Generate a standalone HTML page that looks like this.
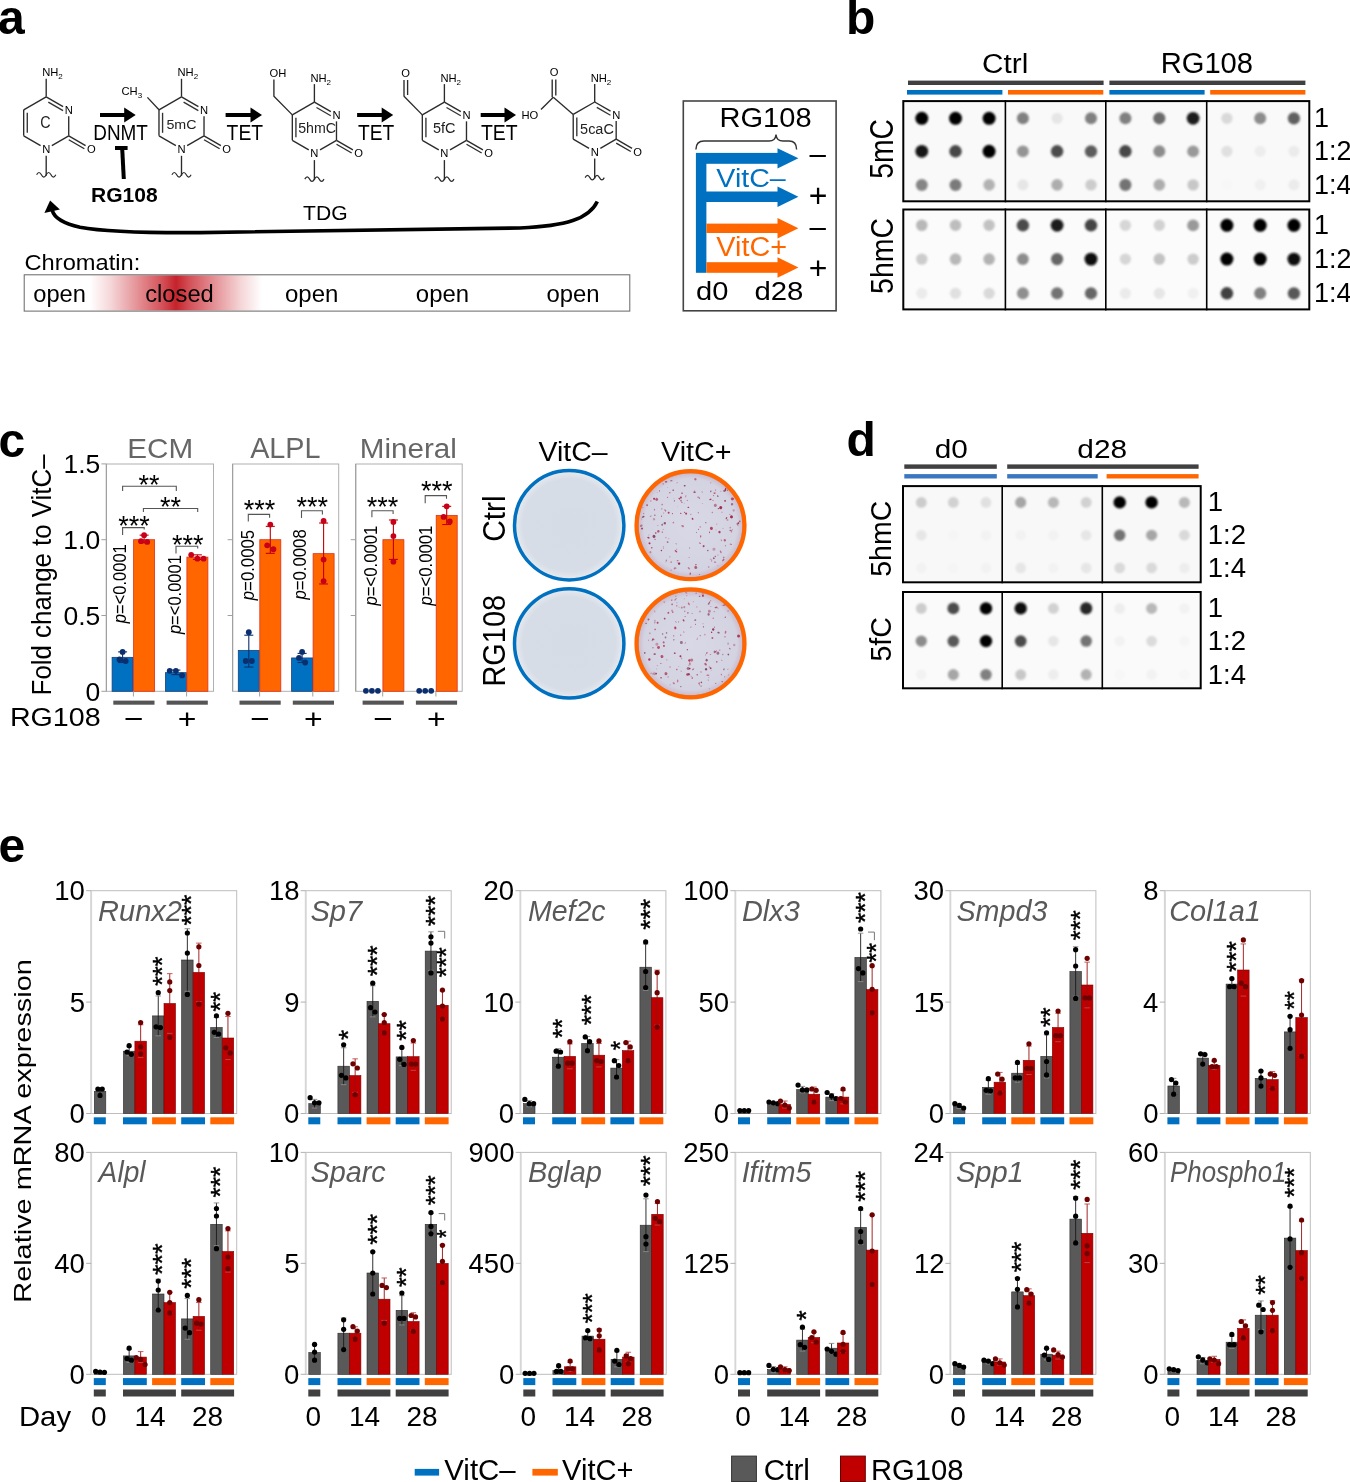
<!DOCTYPE html>
<html><head><meta charset="utf-8"><title>Figure</title>
<style>html,body{margin:0;padding:0;background:#fff;}svg{display:block;}</style></head>
<body>
<svg width="1350" height="1482" viewBox="0 0 1350 1482" font-family='"Liberation Sans", Arial, Helvetica, sans-serif'>
<defs><filter id="bl" x="-50%" y="-50%" width="200%" height="200%"><feGaussianBlur stdDeviation="0.9"/></filter></defs>
<text x="-2" y="34" font-size="48" font-weight="bold">a</text>
<line x1="46.2" y1="96.8" x2="63.09" y2="106.55" stroke="#2b2b2b" stroke-width="1.35" />
<line x1="48.3" y1="102.17" x2="63.02" y2="110.67" stroke="#333" stroke-width="1.35" />
<line x1="68.72" y1="116.3" x2="68.72" y2="135.8" stroke="#2b2b2b" stroke-width="1.35" />
<line x1="68.72" y1="135.8" x2="51.83" y2="145.55" stroke="#2b2b2b" stroke-width="1.35" />
<line x1="40.57" y1="145.55" x2="23.68" y2="135.8" stroke="#2b2b2b" stroke-width="1.35" />
<line x1="23.68" y1="135.8" x2="23.68" y2="109.8" stroke="#2b2b2b" stroke-width="1.35" />
<line x1="27.28" y1="132.8" x2="27.28" y2="112.8" stroke="#333" stroke-width="1.35" />
<line x1="23.68" y1="109.8" x2="46.2" y2="96.8" stroke="#2b2b2b" stroke-width="1.35" />
<line x1="68.72" y1="135.8" x2="85.6" y2="145.55" stroke="#2b2b2b" stroke-width="1.35" />
<line x1="68.75" y1="139.74" x2="84.34" y2="148.74" stroke="#2b2b2b" stroke-width="1.35" />
<text x="68.72" y="113.9" font-size="11.2" text-anchor="middle">N</text>
<text x="46.2" y="152.9" font-size="11.2" text-anchor="middle">N</text>
<text x="91.23" y="152.9" font-size="11.2" text-anchor="middle">O</text>
<line x1="46.2" y1="96.8" x2="46.2" y2="78.8" stroke="#2b2b2b" stroke-width="1.35" />
<text x="42.2" y="76.3" font-size="11.2">NH<tspan font-size="8" dy="3">2</tspan></text>
<line x1="46.2" y1="155.8" x2="46.2" y2="175.8" stroke="#2b2b2b" stroke-width="1.35" />
<path d="M36.6 174.8 q2.4 -4.6 4.8 0 t4.8 0 t4.8 0 t4.8 0" stroke="#2b2b2b" stroke-width="1.2" fill="none" />
<text x="40.28" y="127.64" font-size="15.63" fill="#222" textLength="10.35" lengthAdjust="spacingAndGlyphs">C</text>
<line x1="181.5" y1="96.8" x2="198.39" y2="106.55" stroke="#2b2b2b" stroke-width="1.35" />
<line x1="183.6" y1="102.17" x2="198.32" y2="110.67" stroke="#333" stroke-width="1.35" />
<line x1="204.02" y1="116.3" x2="204.02" y2="135.8" stroke="#2b2b2b" stroke-width="1.35" />
<line x1="204.02" y1="135.8" x2="187.13" y2="145.55" stroke="#2b2b2b" stroke-width="1.35" />
<line x1="175.87" y1="145.55" x2="158.98" y2="135.8" stroke="#2b2b2b" stroke-width="1.35" />
<line x1="158.98" y1="135.8" x2="158.98" y2="109.8" stroke="#2b2b2b" stroke-width="1.35" />
<line x1="162.58" y1="132.8" x2="162.58" y2="112.8" stroke="#333" stroke-width="1.35" />
<line x1="158.98" y1="109.8" x2="181.5" y2="96.8" stroke="#2b2b2b" stroke-width="1.35" />
<line x1="204.02" y1="135.8" x2="220.9" y2="145.55" stroke="#2b2b2b" stroke-width="1.35" />
<line x1="204.05" y1="139.74" x2="219.64" y2="148.74" stroke="#2b2b2b" stroke-width="1.35" />
<text x="204.02" y="113.9" font-size="11.2" text-anchor="middle">N</text>
<text x="181.5" y="152.9" font-size="11.2" text-anchor="middle">N</text>
<text x="226.53" y="152.9" font-size="11.2" text-anchor="middle">O</text>
<line x1="181.5" y1="96.8" x2="181.5" y2="78.8" stroke="#2b2b2b" stroke-width="1.35" />
<text x="177.5" y="76.3" font-size="11.2">NH<tspan font-size="8" dy="3">2</tspan></text>
<line x1="181.5" y1="155.8" x2="181.5" y2="175.8" stroke="#2b2b2b" stroke-width="1.35" />
<path d="M171.9 174.8 q2.4 -4.6 4.8 0 t4.8 0 t4.8 0 t4.8 0" stroke="#2b2b2b" stroke-width="1.2" fill="none" />
<text x="166.43" y="128.77" font-size="12.82" fill="#222" textLength="30.09" lengthAdjust="spacingAndGlyphs">5mC</text>
<line x1="147.4" y1="97.4" x2="158.98" y2="109.8" stroke="#2b2b2b" stroke-width="1.35" />
<text x="121.5" y="95" font-size="11.2">CH<tspan font-size="8" dy="3">3</tspan></text>
<line x1="314.4" y1="102.1" x2="330.85" y2="111.6" stroke="#2b2b2b" stroke-width="1.35" />
<line x1="316.5" y1="107.47" x2="330.79" y2="115.72" stroke="#333" stroke-width="1.35" />
<line x1="336.48" y1="121.35" x2="336.48" y2="140.35" stroke="#2b2b2b" stroke-width="1.35" />
<line x1="336.48" y1="140.35" x2="320.03" y2="149.85" stroke="#2b2b2b" stroke-width="1.35" />
<line x1="308.77" y1="149.85" x2="292.32" y2="140.35" stroke="#2b2b2b" stroke-width="1.35" />
<line x1="292.32" y1="140.35" x2="292.32" y2="114.85" stroke="#2b2b2b" stroke-width="1.35" />
<line x1="295.92" y1="137.35" x2="295.92" y2="117.85" stroke="#333" stroke-width="1.35" />
<line x1="292.32" y1="114.85" x2="314.4" y2="102.1" stroke="#2b2b2b" stroke-width="1.35" />
<line x1="336.48" y1="140.35" x2="352.94" y2="149.85" stroke="#2b2b2b" stroke-width="1.35" />
<line x1="336.52" y1="144.29" x2="351.67" y2="153.04" stroke="#2b2b2b" stroke-width="1.35" />
<text x="336.48" y="118.95" font-size="11.2" text-anchor="middle">N</text>
<text x="314.4" y="157.2" font-size="11.2" text-anchor="middle">N</text>
<text x="358.57" y="157.2" font-size="11.2" text-anchor="middle">O</text>
<line x1="314.4" y1="102.1" x2="314.4" y2="84.1" stroke="#2b2b2b" stroke-width="1.35" />
<text x="310.4" y="81.6" font-size="11.2">NH<tspan font-size="8" dy="3">2</tspan></text>
<line x1="314.4" y1="160.1" x2="314.4" y2="180.1" stroke="#2b2b2b" stroke-width="1.35" />
<path d="M304.8 179.1 q2.4 -4.6 4.8 0 t4.8 0 t4.8 0 t4.8 0" stroke="#2b2b2b" stroke-width="1.2" fill="none" />
<text x="298.23" y="133.36" font-size="14.42" fill="#222" textLength="37.8" lengthAdjust="spacingAndGlyphs">5hmC</text>
<path d="M273.9 79.5 L273.9 96.2 L292.32 114.85" stroke="#2b2b2b" stroke-width="1.35" fill="none" />
<text x="269.6" y="76.7" font-size="11.2">OH</text>
<line x1="444.4" y1="102.1" x2="460.85" y2="111.6" stroke="#2b2b2b" stroke-width="1.35" />
<line x1="446.5" y1="107.47" x2="460.79" y2="115.72" stroke="#333" stroke-width="1.35" />
<line x1="466.48" y1="121.35" x2="466.48" y2="140.35" stroke="#2b2b2b" stroke-width="1.35" />
<line x1="466.48" y1="140.35" x2="450.03" y2="149.85" stroke="#2b2b2b" stroke-width="1.35" />
<line x1="438.77" y1="149.85" x2="422.32" y2="140.35" stroke="#2b2b2b" stroke-width="1.35" />
<line x1="422.32" y1="140.35" x2="422.32" y2="114.85" stroke="#2b2b2b" stroke-width="1.35" />
<line x1="425.92" y1="137.35" x2="425.92" y2="117.85" stroke="#333" stroke-width="1.35" />
<line x1="422.32" y1="114.85" x2="444.4" y2="102.1" stroke="#2b2b2b" stroke-width="1.35" />
<line x1="466.48" y1="140.35" x2="482.94" y2="149.85" stroke="#2b2b2b" stroke-width="1.35" />
<line x1="466.52" y1="144.29" x2="481.67" y2="153.04" stroke="#2b2b2b" stroke-width="1.35" />
<text x="466.48" y="118.95" font-size="11.2" text-anchor="middle">N</text>
<text x="444.4" y="157.2" font-size="11.2" text-anchor="middle">N</text>
<text x="488.57" y="157.2" font-size="11.2" text-anchor="middle">O</text>
<line x1="444.4" y1="102.1" x2="444.4" y2="84.1" stroke="#2b2b2b" stroke-width="1.35" />
<text x="440.4" y="81.6" font-size="11.2">NH<tspan font-size="8" dy="3">2</tspan></text>
<line x1="444.4" y1="160.1" x2="444.4" y2="180.1" stroke="#2b2b2b" stroke-width="1.35" />
<path d="M434.8 179.1 q2.4 -4.6 4.8 0 t4.8 0 t4.8 0 t4.8 0" stroke="#2b2b2b" stroke-width="1.2" fill="none" />
<text x="432.92" y="132.85" font-size="14.56" fill="#222" textLength="22.5" lengthAdjust="spacingAndGlyphs">5fC</text>
<line x1="404" y1="80" x2="404" y2="96.5" stroke="#2b2b2b" stroke-width="1.35" />
<line x1="407.6" y1="80" x2="407.6" y2="95" stroke="#2b2b2b" stroke-width="1.35" />
<line x1="404" y1="96.2" x2="422.32" y2="114.85" stroke="#2b2b2b" stroke-width="1.35" />
<text x="405.6" y="76.7" font-size="11.2" text-anchor="middle">O</text>
<line x1="594.7" y1="102" x2="610.55" y2="111.15" stroke="#2b2b2b" stroke-width="1.35" />
<line x1="596.8" y1="107.37" x2="610.48" y2="115.27" stroke="#333" stroke-width="1.35" />
<line x1="616.18" y1="120.9" x2="616.18" y2="139.2" stroke="#2b2b2b" stroke-width="1.35" />
<line x1="616.18" y1="139.2" x2="600.33" y2="148.35" stroke="#2b2b2b" stroke-width="1.35" />
<line x1="589.07" y1="148.35" x2="573.22" y2="139.2" stroke="#2b2b2b" stroke-width="1.35" />
<line x1="573.22" y1="139.2" x2="573.22" y2="114.4" stroke="#2b2b2b" stroke-width="1.35" />
<line x1="576.82" y1="136.2" x2="576.82" y2="117.4" stroke="#333" stroke-width="1.35" />
<line x1="573.22" y1="114.4" x2="594.7" y2="102" stroke="#2b2b2b" stroke-width="1.35" />
<line x1="616.18" y1="139.2" x2="632.03" y2="148.35" stroke="#2b2b2b" stroke-width="1.35" />
<line x1="616.21" y1="143.14" x2="630.76" y2="151.54" stroke="#2b2b2b" stroke-width="1.35" />
<text x="616.18" y="118.5" font-size="11.2" text-anchor="middle">N</text>
<text x="594.7" y="155.7" font-size="11.2" text-anchor="middle">N</text>
<text x="637.65" y="155.7" font-size="11.2" text-anchor="middle">O</text>
<line x1="594.7" y1="102" x2="594.7" y2="84" stroke="#2b2b2b" stroke-width="1.35" />
<text x="590.7" y="81.5" font-size="11.2">NH<tspan font-size="8" dy="3">2</tspan></text>
<line x1="594.7" y1="158.6" x2="594.7" y2="178.6" stroke="#2b2b2b" stroke-width="1.35" />
<path d="M585.1 177.6 q2.4 -4.6 4.8 0 t4.8 0 t4.8 0 t4.8 0" stroke="#2b2b2b" stroke-width="1.2" fill="none" />
<text x="580.12" y="133.85" font-size="15.07" fill="#222" textLength="33.75" lengthAdjust="spacingAndGlyphs">5caC</text>
<line x1="573.22" y1="114.4" x2="553.3" y2="97.3" stroke="#2b2b2b" stroke-width="1.35" />
<line x1="552.2" y1="79.5" x2="552.2" y2="97.3" stroke="#2b2b2b" stroke-width="1.35" />
<line x1="555.8" y1="79.5" x2="555.8" y2="95.5" stroke="#2b2b2b" stroke-width="1.35" />
<line x1="553.3" y1="97.3" x2="541" y2="109.5" stroke="#2b2b2b" stroke-width="1.35" />
<text x="554" y="76" font-size="11.2" text-anchor="middle">O</text>
<text x="521.5" y="119.3" font-size="11.2">HO</text>
<line x1="100" y1="115" x2="125.7" y2="115" stroke="#000" stroke-width="4" />
<polygon points="124.2,107.5 135.7,115 124.2,122.5" fill="#000"/>
<line x1="225.6" y1="115" x2="252" y2="115" stroke="#000" stroke-width="4" />
<polygon points="250.5,107.5 262,115 250.5,122.5" fill="#000"/>
<line x1="357.1" y1="115" x2="383.2" y2="115" stroke="#000" stroke-width="4" />
<polygon points="381.7,107.5 393.2,115 381.7,122.5" fill="#000"/>
<line x1="480.7" y1="115" x2="506" y2="115" stroke="#000" stroke-width="4" />
<polygon points="504.5,107.5 516,115 504.5,122.5" fill="#000"/>
<text x="93.29" y="140" font-size="21.3" textLength="54.65" lengthAdjust="spacingAndGlyphs">DNMT</text>
<text x="226.61" y="140" font-size="21.3" textLength="36.45" lengthAdjust="spacingAndGlyphs">TET</text>
<text x="357.92" y="140" font-size="21.3" textLength="36.24" lengthAdjust="spacingAndGlyphs">TET</text>
<text x="480.91" y="140" font-size="21.3" textLength="36.75" lengthAdjust="spacingAndGlyphs">TET</text>
<line x1="123.8" y1="179" x2="122.2" y2="148.5" stroke="#000" stroke-width="4" />
<line x1="115" y1="148" x2="127.6" y2="148" stroke="#000" stroke-width="4" />
<text x="91.03" y="201.5" font-size="20" font-weight="bold" textLength="66.67" lengthAdjust="spacingAndGlyphs">RG108</text>
<path d="M597.3 201.5 C589 219 566 226 520 228 L200 232.6 C140 233 100 231 80 227.2 C65 223.8 54.5 219 52.3 210.5" stroke="#000" stroke-width="3.6" fill="none" />
<polygon points="50.1,200.6 44.4,212.9 59.9,209.4" fill="#000"/>
<text x="303.08" y="219.7" font-size="20.28" textLength="44.52" lengthAdjust="spacingAndGlyphs">TDG</text>
<text x="24.52" y="269.78" font-size="21.77" textLength="115.73" lengthAdjust="spacingAndGlyphs">Chromatin:</text>
<defs><linearGradient id="chr" x1="0" x2="1" y1="0" y2="0"><stop offset="0" stop-color="#c8202a" stop-opacity="0"/><stop offset="0.12" stop-color="#c8202a" stop-opacity="0.18"/><stop offset="0.28" stop-color="#c8202a" stop-opacity="0.5"/><stop offset="0.42" stop-color="#c8202a" stop-opacity="0.78"/><stop offset="0.5" stop-color="#c41e26" stop-opacity="0.98"/><stop offset="0.58" stop-color="#c8202a" stop-opacity="0.78"/><stop offset="0.72" stop-color="#c8202a" stop-opacity="0.5"/><stop offset="0.88" stop-color="#c8202a" stop-opacity="0.18"/><stop offset="1" stop-color="#c8202a" stop-opacity="0"/></linearGradient></defs>
<rect x="90" y="275.3" width="172" height="35.2" fill="url(#chr)" />
<rect x="24.2" y="274.8" width="605.6" height="36.3" fill="none" stroke="#666" stroke-width="1" />
<text x="33.25" y="301.5" font-size="23" textLength="52.68" lengthAdjust="spacingAndGlyphs">open</text>
<text x="145.25" y="301.5" font-size="23" textLength="68.5" lengthAdjust="spacingAndGlyphs">closed</text>
<text x="284.94" y="301.5" font-size="23" textLength="53.41" lengthAdjust="spacingAndGlyphs">open</text>
<text x="415.84" y="301.5" font-size="23" textLength="53.2" lengthAdjust="spacingAndGlyphs">open</text>
<text x="546.55" y="301.5" font-size="23" textLength="53.1" lengthAdjust="spacingAndGlyphs">open</text>
<rect x="683.3" y="101" width="152.8" height="209.8" fill="none" stroke="#444" stroke-width="1.6" />
<text x="719.58" y="127.12" font-size="27.75" textLength="91.99" lengthAdjust="spacingAndGlyphs">RG108</text>
<path d="M695.9 149.5 Q696 141 704 141 L769 141 Q775.5 141 776 134.5 Q776.5 141 783 141 L789 141 Q796.6 141 796.6 149.5" stroke="#333" stroke-width="1.4" fill="none" />
<rect x="695.9" y="152.9" width="10.5" height="119.9" fill="#0070C0" />
<rect x="706" y="152.9" width="72" height="10.9" fill="#0070C0" />
<polygon points="777.5,148.15 798.4,158.35 777.5,168.55" fill="#0070C0"/>
<rect x="706" y="191.5" width="72" height="10.5" fill="#0070C0" />
<polygon points="777.5,186.55 798.4,196.75 777.5,206.95" fill="#0070C0"/>
<rect x="706.4" y="223.6" width="71.6" height="9.4" fill="#FF6600" />
<polygon points="777.5,218.1 798.4,228.3 777.5,238.5" fill="#FF6600"/>
<rect x="706.4" y="262.2" width="71.6" height="10.6" fill="#FF6600" />
<polygon points="777.5,257.3 798.4,267.5 777.5,277.7" fill="#FF6600"/>
<text x="716.36" y="187.24" font-size="25.99" fill="#0070C0" textLength="69.41" lengthAdjust="spacingAndGlyphs">VitC–</text>
<text x="716.36" y="255.53" font-size="27.21" fill="#FF6600" textLength="70.79" lengthAdjust="spacingAndGlyphs">VitC+</text>
<text x="809.4" y="163.58" font-size="29" textLength="16.43" lengthAdjust="spacingAndGlyphs">–</text>
<text x="808.7" y="206.91" font-size="33.47" textLength="18.66" lengthAdjust="spacingAndGlyphs">+</text>
<text x="809.4" y="236.98" font-size="29" textLength="16.43" lengthAdjust="spacingAndGlyphs">–</text>
<text x="808.7" y="278.63" font-size="31.43" textLength="18.66" lengthAdjust="spacingAndGlyphs">+</text>
<text x="696.14" y="300.14" font-size="25.99" textLength="32.35" lengthAdjust="spacingAndGlyphs">d0</text>
<text x="754.43" y="300.14" font-size="25.99" textLength="48.95" lengthAdjust="spacingAndGlyphs">d28</text>
<text x="846" y="33.8" font-size="48" font-weight="bold">b</text>
<text x="982.11" y="72.72" font-size="28.03" textLength="46.23" lengthAdjust="spacingAndGlyphs">Ctrl</text>
<text x="1160.67" y="72.71" font-size="29.01" textLength="92.4" lengthAdjust="spacingAndGlyphs">RG108</text>
<rect x="908" y="80.6" width="195.6" height="4.4" fill="#404040" />
<rect x="1109.4" y="80.6" width="196" height="4.4" fill="#404040" />
<rect x="907" y="90" width="95.4" height="4.6" fill="#0070C0" />
<rect x="1008" y="90" width="95.3" height="4.6" fill="#FF6600" />
<rect x="1109.4" y="90" width="95.2" height="4.6" fill="#0070C0" />
<rect x="1210.2" y="90" width="95.2" height="4.6" fill="#FF6600" />
<rect x="903.3" y="101.1" width="406" height="100.2" fill="#f9f9f9" />
<circle cx="921.8" cy="118.3" r="6.5" fill="#000000" filter="url(#bl)"/>
<circle cx="955.5" cy="118.3" r="6.5" fill="#000000" filter="url(#bl)"/>
<circle cx="989.1" cy="118.3" r="6.5" fill="#000000" filter="url(#bl)"/>
<circle cx="1022.9" cy="118.3" r="6" fill="#808080" filter="url(#bl)"/>
<circle cx="1057.1" cy="118.3" r="5.6" fill="#e6e6e6" filter="url(#bl)"/>
<circle cx="1091" cy="118.3" r="6" fill="#808080" filter="url(#bl)"/>
<circle cx="1125.4" cy="118.3" r="6" fill="#808080" filter="url(#bl)"/>
<circle cx="1159.3" cy="118.3" r="6.08" fill="#6b6b6b" filter="url(#bl)"/>
<circle cx="1193.1" cy="118.3" r="6.38" fill="#1f1f1f" filter="url(#bl)"/>
<circle cx="1226.9" cy="118.3" r="5.65" fill="#d9d9d9" filter="url(#bl)"/>
<circle cx="1260.2" cy="118.3" r="5.95" fill="#8c8c8c" filter="url(#bl)"/>
<circle cx="1293.9" cy="118.3" r="6.12" fill="#616161" filter="url(#bl)"/>
<circle cx="921.8" cy="151.3" r="6.42" fill="#141414" filter="url(#bl)"/>
<circle cx="955.5" cy="151.3" r="6.22" fill="#474747" filter="url(#bl)"/>
<circle cx="989.1" cy="151.3" r="6.48" fill="#050505" filter="url(#bl)"/>
<circle cx="1022.9" cy="151.3" r="5.92" fill="#949494" filter="url(#bl)"/>
<circle cx="1057.1" cy="151.3" r="6.2" fill="#4c4c4c" filter="url(#bl)"/>
<circle cx="1091" cy="151.3" r="6.14" fill="#5c5c5c" filter="url(#bl)"/>
<circle cx="1125.4" cy="151.3" r="6.22" fill="#474747" filter="url(#bl)"/>
<circle cx="1159.3" cy="151.3" r="5.95" fill="#8c8c8c" filter="url(#bl)"/>
<circle cx="1193.1" cy="151.3" r="5.9" fill="#999999" filter="url(#bl)"/>
<circle cx="1226.9" cy="151.3" r="5.62" fill="#e0e0e0" filter="url(#bl)"/>
<circle cx="1260.2" cy="151.3" r="5.57" fill="#ededed" filter="url(#bl)"/>
<circle cx="1293.9" cy="151.3" r="5.58" fill="#ebebeb" filter="url(#bl)"/>
<circle cx="921.8" cy="184.9" r="5.98" fill="#858585" filter="url(#bl)"/>
<circle cx="955.5" cy="184.9" r="6.02" fill="#7a7a7a" filter="url(#bl)"/>
<circle cx="989.1" cy="184.9" r="5.8" fill="#b2b2b2" filter="url(#bl)"/>
<circle cx="1022.9" cy="184.9" r="5.6" fill="#e6e6e6" filter="url(#bl)"/>
<circle cx="1057.1" cy="184.9" r="5.82" fill="#adadad" filter="url(#bl)"/>
<circle cx="1091" cy="184.9" r="5.7" fill="#cccccc" filter="url(#bl)"/>
<circle cx="1125.4" cy="184.9" r="6.05" fill="#737373" filter="url(#bl)"/>
<circle cx="1159.3" cy="184.9" r="5.82" fill="#adadad" filter="url(#bl)"/>
<circle cx="1193.1" cy="184.9" r="5.72" fill="#c7c7c7" filter="url(#bl)"/>
<circle cx="1226.9" cy="184.9" r="5.53" fill="#f7f7f7" filter="url(#bl)"/>
<circle cx="1260.2" cy="184.9" r="5.56" fill="#f0f0f0" filter="url(#bl)"/>
<circle cx="1293.9" cy="184.9" r="5.58" fill="#ebebeb" filter="url(#bl)"/>
<rect x="903.3" y="209.5" width="406" height="99.9" fill="#fbfbfb" />
<circle cx="921.8" cy="225.3" r="5.78" fill="#b8b8b8" filter="url(#bl)"/>
<circle cx="955.5" cy="225.3" r="5.76" fill="#bdbdbd" filter="url(#bl)"/>
<circle cx="989.1" cy="225.3" r="5.74" fill="#c2c2c2" filter="url(#bl)"/>
<circle cx="1022.9" cy="225.3" r="6.2" fill="#4c4c4c" filter="url(#bl)"/>
<circle cx="1057.1" cy="225.3" r="6.38" fill="#1f1f1f" filter="url(#bl)"/>
<circle cx="1091" cy="225.3" r="6.23" fill="#454545" filter="url(#bl)"/>
<circle cx="1125.4" cy="225.3" r="5.66" fill="#d6d6d6" filter="url(#bl)"/>
<circle cx="1159.3" cy="225.3" r="5.68" fill="#d1d1d1" filter="url(#bl)"/>
<circle cx="1193.1" cy="225.3" r="5.9" fill="#999999" filter="url(#bl)"/>
<circle cx="1226.9" cy="225.3" r="6.5" fill="#000000" filter="url(#bl)"/>
<circle cx="1260.2" cy="225.3" r="6.5" fill="#000000" filter="url(#bl)"/>
<circle cx="1293.9" cy="225.3" r="6.5" fill="#000000" filter="url(#bl)"/>
<circle cx="921.8" cy="259.1" r="5.7" fill="#cccccc" filter="url(#bl)"/>
<circle cx="955.5" cy="259.1" r="5.78" fill="#b8b8b8" filter="url(#bl)"/>
<circle cx="989.1" cy="259.1" r="5.8" fill="#b2b2b2" filter="url(#bl)"/>
<circle cx="1022.9" cy="259.1" r="5.95" fill="#8c8c8c" filter="url(#bl)"/>
<circle cx="1057.1" cy="259.1" r="6.1" fill="#666666" filter="url(#bl)"/>
<circle cx="1091" cy="259.1" r="6.47" fill="#080808" filter="url(#bl)"/>
<circle cx="1125.4" cy="259.1" r="5.66" fill="#d6d6d6" filter="url(#bl)"/>
<circle cx="1159.3" cy="259.1" r="5.74" fill="#c2c2c2" filter="url(#bl)"/>
<circle cx="1193.1" cy="259.1" r="5.7" fill="#cccccc" filter="url(#bl)"/>
<circle cx="1226.9" cy="259.1" r="6.5" fill="#000000" filter="url(#bl)"/>
<circle cx="1260.2" cy="259.1" r="6.48" fill="#050505" filter="url(#bl)"/>
<circle cx="1293.9" cy="259.1" r="6.47" fill="#080808" filter="url(#bl)"/>
<circle cx="921.8" cy="293.3" r="5.58" fill="#ebebeb" filter="url(#bl)"/>
<circle cx="955.5" cy="293.3" r="5.62" fill="#e0e0e0" filter="url(#bl)"/>
<circle cx="989.1" cy="293.3" r="5.65" fill="#d9d9d9" filter="url(#bl)"/>
<circle cx="1022.9" cy="293.3" r="5.94" fill="#8f8f8f" filter="url(#bl)"/>
<circle cx="1057.1" cy="293.3" r="6.05" fill="#737373" filter="url(#bl)"/>
<circle cx="1091" cy="293.3" r="6.1" fill="#666666" filter="url(#bl)"/>
<circle cx="1125.4" cy="293.3" r="5.58" fill="#ebebeb" filter="url(#bl)"/>
<circle cx="1159.3" cy="293.3" r="5.6" fill="#e6e6e6" filter="url(#bl)"/>
<circle cx="1193.1" cy="293.3" r="5.56" fill="#f0f0f0" filter="url(#bl)"/>
<circle cx="1226.9" cy="293.3" r="6.25" fill="#404040" filter="url(#bl)"/>
<circle cx="1260.2" cy="293.3" r="6" fill="#808080" filter="url(#bl)"/>
<circle cx="1293.9" cy="293.3" r="6.15" fill="#595959" filter="url(#bl)"/>
<rect x="903.3" y="101.1" width="406" height="100.2" fill="none" stroke="#000" stroke-width="2" />
<line x1="1005.4" y1="100.1" x2="1005.4" y2="202.3" stroke="#000" stroke-width="1.6" />
<line x1="1105.8" y1="100.1" x2="1105.8" y2="202.3" stroke="#000" stroke-width="1.6" />
<line x1="1206.7" y1="100.1" x2="1206.7" y2="202.3" stroke="#000" stroke-width="1.6" />
<rect x="903.3" y="209.5" width="406" height="99.9" fill="none" stroke="#000" stroke-width="2" />
<line x1="1005.4" y1="208.5" x2="1005.4" y2="310.4" stroke="#000" stroke-width="1.6" />
<line x1="1105.8" y1="208.5" x2="1105.8" y2="310.4" stroke="#000" stroke-width="1.6" />
<line x1="1206.7" y1="208.5" x2="1206.7" y2="310.4" stroke="#000" stroke-width="1.6" />
<text x="892.68" y="178.73" font-size="32.39" transform="rotate(-90 892.68 178.73)" textLength="59.76" lengthAdjust="spacingAndGlyphs">5mC</text>
<text x="892.69" y="293.94" font-size="31.29" transform="rotate(-90 892.69 293.94)" textLength="76.01" lengthAdjust="spacingAndGlyphs">5hmC</text>
<text x="1314" y="127.4" font-size="27">1</text>
<text x="1314" y="160.4" font-size="27">1:2</text>
<text x="1314" y="194" font-size="27">1:4</text>
<text x="1314" y="234.4" font-size="27">1</text>
<text x="1314" y="268.2" font-size="27">1:2</text>
<text x="1314" y="302.4" font-size="27">1:4</text>
<text x="-1.5" y="456.7" font-size="48" font-weight="bold">c</text>
<rect x="106.4" y="464" width="107.1" height="227.3" fill="none" stroke="#b0b0b0" stroke-width="1" />
<line x1="106.4" y1="464" x2="106.4" y2="691.3" stroke="#a0a0a0" stroke-width="1.2" />
<line x1="101.4" y1="463.9" x2="106.4" y2="463.9" stroke="#a0a0a0" stroke-width="1" />
<line x1="101.4" y1="539.7" x2="106.4" y2="539.7" stroke="#a0a0a0" stroke-width="1" />
<line x1="101.4" y1="615.5" x2="106.4" y2="615.5" stroke="#a0a0a0" stroke-width="1" />
<line x1="101.4" y1="691.3" x2="106.4" y2="691.3" stroke="#a0a0a0" stroke-width="1" />
<text x="127.23" y="457.52" font-size="27.89" fill="#666666" textLength="65.91" lengthAdjust="spacingAndGlyphs">ECM</text>
<rect x="112.1" y="657.34" width="21" height="33.96" fill="#0070C0" stroke="#1b3f7a" stroke-width="0.8" />
<line x1="122.6" y1="651.88" x2="122.6" y2="662.5" stroke="#0b2f6e" stroke-width="1.1" />
<line x1="118.1" y1="651.88" x2="127.1" y2="651.88" stroke="#0b2f6e" stroke-width="1.1" />
<line x1="118.1" y1="662.5" x2="127.1" y2="662.5" stroke="#0b2f6e" stroke-width="1.1" />
<circle cx="122.6" cy="651.88" r="2.9" fill="#0b2f6e" />
<circle cx="119.5" cy="659.46" r="2.9" fill="#0b2f6e" />
<circle cx="125.7" cy="660.98" r="2.9" fill="#0b2f6e" />
<rect x="133.6" y="539.7" width="21" height="151.6" fill="#FF6600" stroke="#e0301a" stroke-width="0.8" />
<line x1="144.1" y1="535.15" x2="144.1" y2="542.73" stroke="#c00000" stroke-width="1.1" />
<line x1="139.6" y1="535.15" x2="148.6" y2="535.15" stroke="#c00000" stroke-width="1.1" />
<line x1="139.6" y1="542.73" x2="148.6" y2="542.73" stroke="#c00000" stroke-width="1.1" />
<circle cx="144.1" cy="535.15" r="2.9" fill="#c8001a" />
<circle cx="141" cy="541.22" r="2.9" fill="#c8001a" />
<circle cx="147.2" cy="541.97" r="2.9" fill="#c8001a" />
<rect x="165.4" y="672.65" width="21" height="18.65" fill="#0070C0" stroke="#1b3f7a" stroke-width="0.8" />
<line x1="175.9" y1="670.08" x2="175.9" y2="674.62" stroke="#0b2f6e" stroke-width="1.1" />
<line x1="171.4" y1="670.08" x2="180.4" y2="670.08" stroke="#0b2f6e" stroke-width="1.1" />
<line x1="171.4" y1="674.62" x2="180.4" y2="674.62" stroke="#0b2f6e" stroke-width="1.1" />
<circle cx="169.7" cy="670.83" r="2.9" fill="#0b2f6e" />
<circle cx="175.9" cy="670.83" r="2.9" fill="#0b2f6e" />
<circle cx="182.1" cy="675.38" r="2.9" fill="#0b2f6e" />
<rect x="186.9" y="557.13" width="21" height="134.17" fill="#FF6600" stroke="#e0301a" stroke-width="0.8" />
<line x1="197.4" y1="554.86" x2="197.4" y2="559.41" stroke="#c00000" stroke-width="1.1" />
<line x1="192.9" y1="554.86" x2="201.9" y2="554.86" stroke="#c00000" stroke-width="1.1" />
<line x1="192.9" y1="559.41" x2="201.9" y2="559.41" stroke="#c00000" stroke-width="1.1" />
<circle cx="191.2" cy="554.86" r="2.9" fill="#c8001a" />
<circle cx="197.4" cy="558.65" r="2.9" fill="#c8001a" />
<circle cx="203.6" cy="558.65" r="2.9" fill="#c8001a" />
<line x1="133.4" y1="691.3" x2="133.4" y2="696.5" stroke="#a0a0a0" stroke-width="1" />
<line x1="186.6" y1="691.3" x2="186.6" y2="696.5" stroke="#a0a0a0" stroke-width="1" />
<rect x="113.3" y="700.6" width="41.2" height="4.1" fill="#555555" />
<rect x="166.6" y="700.6" width="41.2" height="4.1" fill="#555555" />
<text x="125.5" y="726.58" font-size="29" textLength="16.33" lengthAdjust="spacingAndGlyphs">–</text>
<text x="177.7" y="728.45" font-size="28.37" textLength="18.66" lengthAdjust="spacingAndGlyphs">+</text>
<rect x="232.6" y="464" width="106.1" height="227.3" fill="none" stroke="#b0b0b0" stroke-width="1" />
<line x1="232.6" y1="464" x2="232.6" y2="691.3" stroke="#a0a0a0" stroke-width="1.2" />
<line x1="227.6" y1="539.7" x2="232.6" y2="539.7" stroke="#a0a0a0" stroke-width="1" />
<line x1="227.6" y1="615.5" x2="232.6" y2="615.5" stroke="#a0a0a0" stroke-width="1" />
<text x="250.2" y="457.8" font-size="28.7" fill="#666666" textLength="70.3" lengthAdjust="spacingAndGlyphs">ALPL</text>
<rect x="238.3" y="650.37" width="21" height="40.93" fill="#0070C0" stroke="#1b3f7a" stroke-width="0.8" />
<line x1="248.8" y1="635.21" x2="248.8" y2="667.04" stroke="#0b2f6e" stroke-width="1.1" />
<line x1="244.3" y1="635.21" x2="253.3" y2="635.21" stroke="#0b2f6e" stroke-width="1.1" />
<line x1="244.3" y1="667.04" x2="253.3" y2="667.04" stroke="#0b2f6e" stroke-width="1.1" />
<circle cx="248.8" cy="632.18" r="2.9" fill="#0b2f6e" />
<circle cx="245.7" cy="660.98" r="2.9" fill="#0b2f6e" />
<circle cx="251.9" cy="660.98" r="2.9" fill="#0b2f6e" />
<rect x="259.8" y="539.7" width="21" height="151.6" fill="#FF6600" stroke="#e0301a" stroke-width="0.8" />
<line x1="270.3" y1="526.36" x2="270.3" y2="553.34" stroke="#c00000" stroke-width="1.1" />
<line x1="265.8" y1="526.36" x2="274.8" y2="526.36" stroke="#c00000" stroke-width="1.1" />
<line x1="265.8" y1="553.34" x2="274.8" y2="553.34" stroke="#c00000" stroke-width="1.1" />
<circle cx="270.3" cy="524.54" r="2.9" fill="#c8001a" />
<circle cx="267.2" cy="545.31" r="2.9" fill="#c8001a" />
<circle cx="273.4" cy="549.25" r="2.9" fill="#c8001a" />
<rect x="291.6" y="657.95" width="21" height="33.35" fill="#0070C0" stroke="#1b3f7a" stroke-width="0.8" />
<line x1="302.1" y1="653.4" x2="302.1" y2="662.5" stroke="#0b2f6e" stroke-width="1.1" />
<line x1="297.6" y1="653.4" x2="306.6" y2="653.4" stroke="#0b2f6e" stroke-width="1.1" />
<line x1="297.6" y1="662.5" x2="306.6" y2="662.5" stroke="#0b2f6e" stroke-width="1.1" />
<circle cx="302.1" cy="651.88" r="2.9" fill="#0b2f6e" />
<circle cx="299" cy="657.95" r="2.9" fill="#0b2f6e" />
<circle cx="305.2" cy="662.5" r="2.9" fill="#0b2f6e" />
<rect x="313.1" y="553.65" width="21" height="137.65" fill="#FF6600" stroke="#e0301a" stroke-width="0.8" />
<line x1="323.6" y1="523.02" x2="323.6" y2="583.97" stroke="#c00000" stroke-width="1.1" />
<line x1="319.1" y1="523.02" x2="328.1" y2="523.02" stroke="#c00000" stroke-width="1.1" />
<line x1="319.1" y1="583.97" x2="328.1" y2="583.97" stroke="#c00000" stroke-width="1.1" />
<circle cx="323.6" cy="520.9" r="2.9" fill="#c8001a" />
<circle cx="323.6" cy="559.56" r="2.9" fill="#c8001a" />
<circle cx="323.6" cy="581.09" r="2.9" fill="#c8001a" />
<line x1="259.6" y1="691.3" x2="259.6" y2="696.5" stroke="#a0a0a0" stroke-width="1" />
<line x1="312.8" y1="691.3" x2="312.8" y2="696.5" stroke="#a0a0a0" stroke-width="1" />
<rect x="239.5" y="700.6" width="41.2" height="4.1" fill="#555555" />
<rect x="292.8" y="700.6" width="41.2" height="4.1" fill="#555555" />
<text x="251.7" y="726.58" font-size="29" textLength="16.33" lengthAdjust="spacingAndGlyphs">–</text>
<text x="303.9" y="728.45" font-size="28.37" textLength="18.66" lengthAdjust="spacingAndGlyphs">+</text>
<rect x="355.7" y="464" width="106.5" height="227.3" fill="none" stroke="#b0b0b0" stroke-width="1" />
<line x1="355.7" y1="464" x2="355.7" y2="691.3" stroke="#a0a0a0" stroke-width="1.2" />
<line x1="350.7" y1="539.7" x2="355.7" y2="539.7" stroke="#a0a0a0" stroke-width="1" />
<line x1="350.7" y1="615.5" x2="355.7" y2="615.5" stroke="#a0a0a0" stroke-width="1" />
<text x="359.83" y="457.53" font-size="26.94" fill="#666666" textLength="97.01" lengthAdjust="spacingAndGlyphs">Mineral</text>
<circle cx="365.9" cy="690.8" r="2.9" fill="#0b2f6e" />
<circle cx="371.9" cy="690.8" r="2.9" fill="#0b2f6e" />
<circle cx="377.9" cy="690.8" r="2.9" fill="#0b2f6e" />
<rect x="382.9" y="539.7" width="21" height="151.6" fill="#FF6600" stroke="#e0301a" stroke-width="0.8" />
<line x1="393.4" y1="519.99" x2="393.4" y2="559.41" stroke="#c00000" stroke-width="1.1" />
<line x1="388.9" y1="519.99" x2="397.9" y2="519.99" stroke="#c00000" stroke-width="1.1" />
<line x1="388.9" y1="559.41" x2="397.9" y2="559.41" stroke="#c00000" stroke-width="1.1" />
<circle cx="393.4" cy="521.96" r="2.9" fill="#c8001a" />
<circle cx="393.4" cy="536.06" r="2.9" fill="#c8001a" />
<circle cx="393.4" cy="561.68" r="2.9" fill="#c8001a" />
<circle cx="419.2" cy="690.8" r="2.9" fill="#0b2f6e" />
<circle cx="425.2" cy="690.8" r="2.9" fill="#0b2f6e" />
<circle cx="431.2" cy="690.8" r="2.9" fill="#0b2f6e" />
<rect x="436.2" y="515.44" width="21" height="175.86" fill="#FF6600" stroke="#e0301a" stroke-width="0.8" />
<line x1="446.7" y1="506.35" x2="446.7" y2="524.54" stroke="#c00000" stroke-width="1.1" />
<line x1="442.2" y1="506.35" x2="451.2" y2="506.35" stroke="#c00000" stroke-width="1.1" />
<line x1="442.2" y1="524.54" x2="451.2" y2="524.54" stroke="#c00000" stroke-width="1.1" />
<circle cx="446.7" cy="506.35" r="2.9" fill="#c8001a" />
<circle cx="443.6" cy="516.96" r="2.9" fill="#c8001a" />
<circle cx="449.8" cy="521.51" r="2.9" fill="#c8001a" />
<line x1="382.7" y1="691.3" x2="382.7" y2="696.5" stroke="#a0a0a0" stroke-width="1" />
<line x1="435.9" y1="691.3" x2="435.9" y2="696.5" stroke="#a0a0a0" stroke-width="1" />
<rect x="362.6" y="700.6" width="41.2" height="4.1" fill="#555555" />
<rect x="415.9" y="700.6" width="41.2" height="4.1" fill="#555555" />
<text x="374.8" y="726.58" font-size="29" textLength="16.33" lengthAdjust="spacingAndGlyphs">–</text>
<text x="427" y="728.45" font-size="28.37" textLength="18.66" lengthAdjust="spacingAndGlyphs">+</text>
<text x="100.26" y="473.2" font-size="26.5" text-anchor="end">1.5</text>
<text x="100.13" y="549" font-size="26.5" text-anchor="end">1.0</text>
<text x="100.26" y="624.8" font-size="26.5" text-anchor="end">0.5</text>
<text x="100.16" y="700.6" font-size="26.5" text-anchor="end">0</text>
<text x="9.91" y="726.45" font-size="25.35" textLength="90.74" lengthAdjust="spacingAndGlyphs">RG108</text>
<text x="51.3" y="695.4" font-size="28.5" transform="rotate(-90 51.3 695.4)" textLength="241" lengthAdjust="spacingAndGlyphs">Fold change to VitC–</text>
<path d="M122.6 490.9 L122.6 486.3 L176.3 486.3 L176.3 490.9" stroke="#555" stroke-width="1.1" fill="none" />
<text x="149.1" y="494" font-size="27" text-anchor="middle">**</text>
<path d="M143.4 512 L143.4 508.5 L197.7 508.5 L197.7 512" stroke="#555" stroke-width="1.1" fill="none" />
<text x="170.5" y="516.2" font-size="27" text-anchor="middle">**</text>
<path d="M122.6 534.9 L122.6 527.6 L144.2 527.6 L144.2 529.5" stroke="#555" stroke-width="1.1" fill="none" />
<text x="134.1" y="535" font-size="27" text-anchor="middle">***</text>
<path d="M176 553.6 L176 546.3 L197.7 546.3 L197.7 548.5" stroke="#555" stroke-width="1.1" fill="none" />
<text x="187.8" y="553.5" font-size="27" text-anchor="middle">***</text>
<path d="M248.3 521.5 L248.3 514.4 L269.6 514.4 L269.6 517.8" stroke="#555" stroke-width="1.1" fill="none" />
<text x="259.5" y="519" font-size="27" text-anchor="middle">***</text>
<path d="M301.5 518.1 L301.5 510.7 L322.4 510.7 L322.4 514.4" stroke="#555" stroke-width="1.1" fill="none" />
<text x="312.2" y="516" font-size="27" text-anchor="middle">***</text>
<path d="M371.9 517.2 L371.9 510.7 L393.1 510.7 L393.1 514" stroke="#555" stroke-width="1.1" fill="none" />
<text x="382.6" y="516" font-size="27" text-anchor="middle">***</text>
<path d="M425.2 503.3 L425.2 495.6 L446.5 495.6 L446.5 498.7" stroke="#555" stroke-width="1.1" fill="none" />
<text x="436.8" y="500.3" font-size="27" text-anchor="middle">***</text>
<text x="126.5" y="623.2" font-size="18" transform="rotate(-90 126.5 623.2)" textLength="79" lengthAdjust="spacingAndGlyphs"><tspan font-style="italic">p</tspan>=&lt;0.0001</text>
<text x="181" y="634.1" font-size="18" transform="rotate(-90 181 634.1)" textLength="79" lengthAdjust="spacingAndGlyphs"><tspan font-style="italic">p</tspan>=&lt;0.0001</text>
<text x="253.8" y="600.2" font-size="18" transform="rotate(-90 253.8 600.2)" textLength="70.3" lengthAdjust="spacingAndGlyphs"><tspan font-style="italic">p</tspan>=0.0005</text>
<text x="306" y="599.6" font-size="18" transform="rotate(-90 306 599.6)" textLength="70.3" lengthAdjust="spacingAndGlyphs"><tspan font-style="italic">p</tspan>=0.0008</text>
<text x="376.6" y="605.5" font-size="18" transform="rotate(-90 376.6 605.5)" textLength="79.8" lengthAdjust="spacingAndGlyphs"><tspan font-style="italic">p</tspan>=&lt;0.0001</text>
<text x="432" y="605.5" font-size="18" transform="rotate(-90 432 605.5)" textLength="79.8" lengthAdjust="spacingAndGlyphs"><tspan font-style="italic">p</tspan>=&lt;0.0001</text>
<text x="538.56" y="460.52" font-size="27.76" textLength="69.01" lengthAdjust="spacingAndGlyphs">VitC–</text>
<text x="661.06" y="460.52" font-size="27.76" textLength="70.38" lengthAdjust="spacingAndGlyphs">VitC+</text>
<text x="505.09" y="541.79" font-size="30.61" transform="rotate(-90 505.09 541.79)" textLength="46.44" lengthAdjust="spacingAndGlyphs">Ctrl</text>
<text x="505.08" y="686.51" font-size="31.69" transform="rotate(-90 505.08 686.51)" textLength="91.57" lengthAdjust="spacingAndGlyphs">RG108</text>
<defs><radialGradient id="pl" cx="0.5" cy="0.5" r="0.5"><stop offset="0" stop-color="#d6dce6"/><stop offset="0.85" stop-color="#d7dde7"/><stop offset="0.95" stop-color="#e2e6ec"/><stop offset="1" stop-color="#eceef0"/></radialGradient><radialGradient id="pl2" cx="0.5" cy="0.5" r="0.5"><stop offset="0" stop-color="#d8d8e6"/><stop offset="0.86" stop-color="#d4d3e2"/><stop offset="0.95" stop-color="#cdbfcf"/><stop offset="1" stop-color="#8a4a5a"/></radialGradient><filter id="sb" x="-50%" y="-50%" width="200%" height="200%"><feGaussianBlur stdDeviation="0.35"/></filter></defs>
<circle cx="569.2" cy="525.2" r="54.7" fill="url(#pl)" stroke="#0070C0" stroke-width="3.5"/>
<circle cx="690.5" cy="525.2" r="54" fill="url(#pl2)" stroke="#FF6600" stroke-width="4.2"/>
<g filter="url(#sb)"><ellipse cx="654.04" cy="536.45" rx="1.5" ry="1.5" fill="#7a3a5a" fill-opacity="0.9" transform="rotate(34 654.04 536.45)"/><ellipse cx="702.19" cy="492.02" rx="0.7" ry="0.35" fill="#8c2a48" fill-opacity="0.8" transform="rotate(25 702.19 492.02)"/><ellipse cx="643.79" cy="513.62" rx="0.5" ry="0.5" fill="#7a3a5a" fill-opacity="0.8" transform="rotate(117 643.79 513.62)"/><ellipse cx="657.23" cy="492.7" rx="0.6" ry="0.3" fill="#a8203f" fill-opacity="0.35" transform="rotate(158 657.23 492.7)"/><ellipse cx="654.04" cy="498.84" rx="1" ry="1" fill="#a8203f" fill-opacity="0.9" transform="rotate(93 654.04 498.84)"/><ellipse cx="667.57" cy="497.38" rx="0.6" ry="0.6" fill="#b03050" fill-opacity="0.65" transform="rotate(179 667.57 497.38)"/><ellipse cx="737.23" cy="523.93" rx="0.9" ry="0.9" fill="#7a3a5a" fill-opacity="0.5" transform="rotate(52 737.23 523.93)"/><ellipse cx="730.87" cy="544.27" rx="1.2" ry="0.6" fill="#b03050" fill-opacity="0.65" transform="rotate(12 730.87 544.27)"/><ellipse cx="732.47" cy="529.67" rx="0.8" ry="0.56" fill="#b03050" fill-opacity="0.35" transform="rotate(67 732.47 529.67)"/><ellipse cx="682.06" cy="493.25" rx="0.8" ry="0.8" fill="#9e1a3c" fill-opacity="0.65" transform="rotate(56 682.06 493.25)"/><ellipse cx="723.01" cy="528.3" rx="0.6" ry="0.42" fill="#9e1a3c" fill-opacity="0.5" transform="rotate(1 723.01 528.3)"/><ellipse cx="655.78" cy="532.98" rx="0.8" ry="0.8" fill="#a8203f" fill-opacity="0.9" transform="rotate(177 655.78 532.98)"/><ellipse cx="694.54" cy="492.43" rx="1.2" ry="0.6" fill="#b03050" fill-opacity="0.8" transform="rotate(178 694.54 492.43)"/><ellipse cx="737.91" cy="525.34" rx="0.9" ry="0.45" fill="#a8203f" fill-opacity="0.5" transform="rotate(70 737.91 525.34)"/><ellipse cx="715.42" cy="492.82" rx="0.6" ry="0.3" fill="#a8203f" fill-opacity="0.5" transform="rotate(79 715.42 492.82)"/><ellipse cx="730.27" cy="527.6" rx="0.9" ry="0.9" fill="#9e1a3c" fill-opacity="0.35" transform="rotate(16 730.27 527.6)"/><ellipse cx="668.68" cy="512.71" rx="1" ry="1" fill="#b03050" fill-opacity="0.9" transform="rotate(22 668.68 512.71)"/><ellipse cx="650.79" cy="500.95" rx="0.7" ry="0.7" fill="#a8203f" fill-opacity="0.5" transform="rotate(55 650.79 500.95)"/><ellipse cx="695.9" cy="564.68" rx="0.8" ry="0.56" fill="#a8203f" fill-opacity="0.9" transform="rotate(123 695.9 564.68)"/><ellipse cx="663.46" cy="548.09" rx="0.6" ry="0.6" fill="#9e1a3c" fill-opacity="0.35" transform="rotate(19 663.46 548.09)"/><ellipse cx="664.81" cy="523.2" rx="1.2" ry="1.2" fill="#7a3a5a" fill-opacity="0.8" transform="rotate(88 664.81 523.2)"/><ellipse cx="641.73" cy="519.02" rx="0.6" ry="0.42" fill="#b03050" fill-opacity="0.5" transform="rotate(100 641.73 519.02)"/><ellipse cx="714.48" cy="493.22" rx="0.9" ry="0.63" fill="#9e1a3c" fill-opacity="0.5" transform="rotate(12 714.48 493.22)"/><ellipse cx="668.89" cy="538.64" rx="0.5" ry="0.35" fill="#8c2a48" fill-opacity="0.65" transform="rotate(95 668.89 538.64)"/><ellipse cx="705.76" cy="522.59" rx="0.7" ry="0.7" fill="#7a3a5a" fill-opacity="0.65" transform="rotate(105 705.76 522.59)"/><ellipse cx="696.57" cy="532.57" rx="0.5" ry="0.5" fill="#8c2a48" fill-opacity="0.65" transform="rotate(173 696.57 532.57)"/><ellipse cx="730.82" cy="530.62" rx="1.5" ry="0.75" fill="#8c2a48" fill-opacity="0.65" transform="rotate(24 730.82 530.62)"/><ellipse cx="721.33" cy="540.29" rx="1" ry="0.5" fill="#8c2a48" fill-opacity="0.5" transform="rotate(63 721.33 540.29)"/><ellipse cx="671.32" cy="480.76" rx="1.2" ry="0.6" fill="#7a3a5a" fill-opacity="0.8" transform="rotate(2 671.32 480.76)"/><ellipse cx="674.05" cy="498.45" rx="0.5" ry="0.25" fill="#9e1a3c" fill-opacity="0.35" transform="rotate(115 674.05 498.45)"/><ellipse cx="738.29" cy="523.19" rx="1" ry="1" fill="#b03050" fill-opacity="0.9" transform="rotate(79 738.29 523.19)"/><ellipse cx="698.28" cy="512.66" rx="0.5" ry="0.5" fill="#9e1a3c" fill-opacity="0.9" transform="rotate(86 698.28 512.66)"/><ellipse cx="695.78" cy="567.49" rx="1.5" ry="1.5" fill="#9e1a3c" fill-opacity="0.65" transform="rotate(66 695.78 567.49)"/><ellipse cx="715.3" cy="556.44" rx="0.7" ry="0.7" fill="#b03050" fill-opacity="0.8" transform="rotate(160 715.3 556.44)"/><ellipse cx="671.15" cy="562.05" rx="0.8" ry="0.8" fill="#a8203f" fill-opacity="0.5" transform="rotate(69 671.15 562.05)"/><ellipse cx="665.63" cy="510.89" rx="0.7" ry="0.49" fill="#8c2a48" fill-opacity="0.8" transform="rotate(150 665.63 510.89)"/><ellipse cx="715.5" cy="490.2" rx="0.9" ry="0.63" fill="#b03050" fill-opacity="0.35" transform="rotate(84 715.5 490.2)"/><ellipse cx="732.02" cy="504.29" rx="1.2" ry="1.2" fill="#7a3a5a" fill-opacity="0.65" transform="rotate(81 732.02 504.29)"/><ellipse cx="698.57" cy="529.29" rx="0.5" ry="0.5" fill="#8c2a48" fill-opacity="0.9" transform="rotate(55 698.57 529.29)"/><ellipse cx="692.32" cy="518.39" rx="0.7" ry="0.7" fill="#a8203f" fill-opacity="0.8" transform="rotate(4 692.32 518.39)"/><ellipse cx="702.43" cy="503.4" rx="0.7" ry="0.35" fill="#b03050" fill-opacity="0.35" transform="rotate(19 702.43 503.4)"/><ellipse cx="650.71" cy="516.2" rx="1" ry="0.5" fill="#a8203f" fill-opacity="0.5" transform="rotate(148 650.71 516.2)"/><ellipse cx="688.86" cy="568.27" rx="1.5" ry="0.75" fill="#a8203f" fill-opacity="0.5" transform="rotate(49 688.86 568.27)"/><ellipse cx="666.4" cy="560.31" rx="0.7" ry="0.7" fill="#9e1a3c" fill-opacity="0.5" transform="rotate(73 666.4 560.31)"/><ellipse cx="715.31" cy="505.36" rx="1.5" ry="1.5" fill="#9e1a3c" fill-opacity="0.5" transform="rotate(67 715.31 505.36)"/><ellipse cx="647.08" cy="505.16" rx="1" ry="1" fill="#a8203f" fill-opacity="0.65" transform="rotate(17 647.08 505.16)"/><ellipse cx="720.88" cy="491.24" rx="0.6" ry="0.42" fill="#b03050" fill-opacity="0.5" transform="rotate(176 720.88 491.24)"/><ellipse cx="727.49" cy="519.9" rx="1" ry="1" fill="#8c2a48" fill-opacity="0.35" transform="rotate(90 727.49 519.9)"/><ellipse cx="719.52" cy="532.1" rx="1.2" ry="1.2" fill="#9e1a3c" fill-opacity="0.8" transform="rotate(39 719.52 532.1)"/><ellipse cx="712.99" cy="500.5" rx="0.5" ry="0.35" fill="#8c2a48" fill-opacity="0.9" transform="rotate(123 712.99 500.5)"/><ellipse cx="720.72" cy="507.58" rx="1.5" ry="1.5" fill="#9e1a3c" fill-opacity="0.9" transform="rotate(136 720.72 507.58)"/><ellipse cx="655.11" cy="539.36" rx="0.7" ry="0.7" fill="#b03050" fill-opacity="0.65" transform="rotate(171 655.11 539.36)"/><ellipse cx="717.77" cy="496.19" rx="0.9" ry="0.63" fill="#7a3a5a" fill-opacity="0.9" transform="rotate(49 717.77 496.19)"/><ellipse cx="657.8" cy="525.68" rx="0.6" ry="0.3" fill="#b03050" fill-opacity="0.9" transform="rotate(4 657.8 525.68)"/><ellipse cx="726.46" cy="518.2" rx="1.2" ry="0.6" fill="#9e1a3c" fill-opacity="0.8" transform="rotate(124 726.46 518.2)"/><ellipse cx="724.77" cy="540.26" rx="1.2" ry="1.2" fill="#a8203f" fill-opacity="0.65" transform="rotate(85 724.77 540.26)"/><ellipse cx="713.95" cy="549.24" rx="1.5" ry="1.5" fill="#a8203f" fill-opacity="0.35" transform="rotate(75 713.95 549.24)"/><ellipse cx="716.07" cy="529.98" rx="0.5" ry="0.25" fill="#a8203f" fill-opacity="0.5" transform="rotate(40 716.07 529.98)"/><ellipse cx="679.35" cy="498.49" rx="1" ry="0.7" fill="#b03050" fill-opacity="0.9" transform="rotate(18 679.35 498.49)"/><ellipse cx="688.36" cy="507.46" rx="0.9" ry="0.63" fill="#b03050" fill-opacity="0.9" transform="rotate(4 688.36 507.46)"/><ellipse cx="659.43" cy="490.84" rx="0.7" ry="0.49" fill="#a8203f" fill-opacity="0.9" transform="rotate(95 659.43 490.84)"/><ellipse cx="714.2" cy="493.12" rx="0.7" ry="0.49" fill="#a8203f" fill-opacity="0.65" transform="rotate(56 714.2 493.12)"/><ellipse cx="671.05" cy="570.16" rx="0.8" ry="0.56" fill="#a8203f" fill-opacity="0.35" transform="rotate(160 671.05 570.16)"/><ellipse cx="700.69" cy="536.4" rx="1.2" ry="0.6" fill="#b03050" fill-opacity="0.8" transform="rotate(97 700.69 536.4)"/><ellipse cx="684.1" cy="503.27" rx="0.5" ry="0.25" fill="#7a3a5a" fill-opacity="0.5" transform="rotate(122 684.1 503.27)"/><ellipse cx="733.1" cy="498.67" rx="0.6" ry="0.6" fill="#a8203f" fill-opacity="0.9" transform="rotate(144 733.1 498.67)"/><ellipse cx="682.6" cy="526.09" rx="1.5" ry="1.05" fill="#a8203f" fill-opacity="0.5" transform="rotate(20 682.6 526.09)"/><ellipse cx="699.99" cy="543.12" rx="0.9" ry="0.45" fill="#9e1a3c" fill-opacity="0.9" transform="rotate(24 699.99 543.12)"/><ellipse cx="684.53" cy="512.31" rx="0.6" ry="0.6" fill="#b03050" fill-opacity="0.8" transform="rotate(76 684.53 512.31)"/><ellipse cx="676.22" cy="543.71" rx="1" ry="0.5" fill="#a8203f" fill-opacity="0.35" transform="rotate(32 676.22 543.71)"/><ellipse cx="648.47" cy="537.71" rx="1.2" ry="0.84" fill="#a8203f" fill-opacity="0.9" transform="rotate(17 648.47 537.71)"/><ellipse cx="698.13" cy="497.21" rx="0.6" ry="0.6" fill="#7a3a5a" fill-opacity="0.9" transform="rotate(34 698.13 497.21)"/><ellipse cx="664.83" cy="510.1" rx="0.9" ry="0.9" fill="#a8203f" fill-opacity="0.35" transform="rotate(146 664.83 510.1)"/><ellipse cx="650.45" cy="552.18" rx="1" ry="1" fill="#b03050" fill-opacity="0.5" transform="rotate(37 650.45 552.18)"/><ellipse cx="708.63" cy="566.97" rx="0.9" ry="0.9" fill="#9e1a3c" fill-opacity="0.35" transform="rotate(159 708.63 566.97)"/><ellipse cx="738.87" cy="522.33" rx="0.5" ry="0.35" fill="#8c2a48" fill-opacity="0.65" transform="rotate(60 738.87 522.33)"/><ellipse cx="669.83" cy="492.73" rx="0.6" ry="0.6" fill="#b03050" fill-opacity="0.9" transform="rotate(115 669.83 492.73)"/><ellipse cx="677.08" cy="482.76" rx="0.5" ry="0.25" fill="#9e1a3c" fill-opacity="0.9" transform="rotate(132 677.08 482.76)"/><ellipse cx="689.15" cy="557.49" rx="0.5" ry="0.35" fill="#9e1a3c" fill-opacity="0.8" transform="rotate(17 689.15 557.49)"/><ellipse cx="690.23" cy="573.73" rx="1.2" ry="0.6" fill="#9e1a3c" fill-opacity="0.8" transform="rotate(98 690.23 573.73)"/><ellipse cx="666.06" cy="481.76" rx="1.2" ry="0.84" fill="#b03050" fill-opacity="0.8" transform="rotate(174 666.06 481.76)"/><ellipse cx="713.64" cy="495.63" rx="0.5" ry="0.5" fill="#b03050" fill-opacity="0.8" transform="rotate(51 713.64 495.63)"/><ellipse cx="667.59" cy="542.16" rx="0.9" ry="0.9" fill="#7a3a5a" fill-opacity="0.65" transform="rotate(167 667.59 542.16)"/><ellipse cx="667.72" cy="487.44" rx="0.5" ry="0.25" fill="#7a3a5a" fill-opacity="0.5" transform="rotate(7 667.72 487.44)"/><ellipse cx="715.04" cy="562.09" rx="1.2" ry="0.6" fill="#b03050" fill-opacity="0.65" transform="rotate(9 715.04 562.09)"/><ellipse cx="739.94" cy="521.71" rx="0.6" ry="0.42" fill="#b03050" fill-opacity="0.8" transform="rotate(45 739.94 521.71)"/><ellipse cx="690.88" cy="514.34" rx="0.6" ry="0.6" fill="#a8203f" fill-opacity="0.5" transform="rotate(108 690.88 514.34)"/><ellipse cx="720.71" cy="551.87" rx="1.5" ry="0.75" fill="#9e1a3c" fill-opacity="0.5" transform="rotate(64 720.71 551.87)"/><ellipse cx="707.82" cy="550.59" rx="0.7" ry="0.7" fill="#7a3a5a" fill-opacity="0.8" transform="rotate(47 707.82 550.59)"/><ellipse cx="661.78" cy="508.88" rx="0.7" ry="0.7" fill="#a8203f" fill-opacity="0.5" transform="rotate(86 661.78 508.88)"/><ellipse cx="662.17" cy="524.68" rx="1" ry="1" fill="#7a3a5a" fill-opacity="0.65" transform="rotate(123 662.17 524.68)"/><ellipse cx="654.49" cy="509.64" rx="0.9" ry="0.63" fill="#a8203f" fill-opacity="0.5" transform="rotate(90 654.49 509.64)"/><ellipse cx="677.57" cy="506.69" rx="0.5" ry="0.25" fill="#8c2a48" fill-opacity="0.35" transform="rotate(46 677.57 506.69)"/><ellipse cx="700.31" cy="526.87" rx="0.8" ry="0.8" fill="#9e1a3c" fill-opacity="0.35" transform="rotate(164 700.31 526.87)"/><ellipse cx="703.63" cy="546.13" rx="1" ry="1" fill="#8c2a48" fill-opacity="0.8" transform="rotate(37 703.63 546.13)"/><ellipse cx="666.06" cy="561.8" rx="0.6" ry="0.3" fill="#7a3a5a" fill-opacity="0.8" transform="rotate(150 666.06 561.8)"/><ellipse cx="694.54" cy="491.44" rx="0.9" ry="0.9" fill="#8c2a48" fill-opacity="0.5" transform="rotate(27 694.54 491.44)"/><ellipse cx="710.84" cy="491.46" rx="0.9" ry="0.63" fill="#8c2a48" fill-opacity="0.8" transform="rotate(104 710.84 491.46)"/><ellipse cx="662.29" cy="532.06" rx="0.6" ry="0.6" fill="#7a3a5a" fill-opacity="0.9" transform="rotate(87 662.29 532.06)"/><ellipse cx="679.48" cy="499.59" rx="0.5" ry="0.25" fill="#a8203f" fill-opacity="0.65" transform="rotate(163 679.48 499.59)"/><ellipse cx="656.69" cy="499.41" rx="1.5" ry="1.5" fill="#a8203f" fill-opacity="0.65" transform="rotate(39 656.69 499.41)"/><ellipse cx="674.45" cy="500.85" rx="0.6" ry="0.6" fill="#7a3a5a" fill-opacity="0.8" transform="rotate(107 674.45 500.85)"/><ellipse cx="725.07" cy="500.87" rx="0.9" ry="0.9" fill="#8c2a48" fill-opacity="0.9" transform="rotate(82 725.07 500.87)"/><ellipse cx="699.53" cy="574.55" rx="0.8" ry="0.4" fill="#8c2a48" fill-opacity="0.65" transform="rotate(4 699.53 574.55)"/><ellipse cx="673.23" cy="490.23" rx="0.8" ry="0.8" fill="#7a3a5a" fill-opacity="0.8" transform="rotate(27 673.23 490.23)"/><ellipse cx="672.45" cy="513.56" rx="0.6" ry="0.6" fill="#9e1a3c" fill-opacity="0.65" transform="rotate(39 672.45 513.56)"/><ellipse cx="709.49" cy="532.41" rx="0.9" ry="0.45" fill="#9e1a3c" fill-opacity="0.8" transform="rotate(104 709.49 532.41)"/><ellipse cx="677.64" cy="560.6" rx="1" ry="0.5" fill="#9e1a3c" fill-opacity="0.65" transform="rotate(161 677.64 560.6)"/><ellipse cx="725.5" cy="545.81" rx="0.7" ry="0.35" fill="#a8203f" fill-opacity="0.8" transform="rotate(128 725.5 545.81)"/><ellipse cx="642.03" cy="528.55" rx="1" ry="1" fill="#8c2a48" fill-opacity="0.8" transform="rotate(60 642.03 528.55)"/><ellipse cx="731.49" cy="516.92" rx="1.5" ry="1.5" fill="#9e1a3c" fill-opacity="0.9" transform="rotate(127 731.49 516.92)"/><ellipse cx="718.63" cy="508.56" rx="1" ry="0.5" fill="#9e1a3c" fill-opacity="0.8" transform="rotate(159 718.63 508.56)"/><ellipse cx="729.88" cy="514.5" rx="1" ry="0.5" fill="#b03050" fill-opacity="0.35" transform="rotate(166 729.88 514.5)"/><ellipse cx="712.31" cy="512.41" rx="0.7" ry="0.7" fill="#8c2a48" fill-opacity="0.5" transform="rotate(36 712.31 512.41)"/><ellipse cx="665.95" cy="537.72" rx="0.5" ry="0.5" fill="#9e1a3c" fill-opacity="0.65" transform="rotate(54 665.95 537.72)"/><ellipse cx="717.86" cy="565.74" rx="0.5" ry="0.5" fill="#7a3a5a" fill-opacity="0.35" transform="rotate(86 717.86 565.74)"/><ellipse cx="699.38" cy="498.11" rx="0.8" ry="0.56" fill="#a8203f" fill-opacity="0.65" transform="rotate(105 699.38 498.11)"/><ellipse cx="662.16" cy="504.6" rx="0.8" ry="0.8" fill="#8c2a48" fill-opacity="0.5" transform="rotate(72 662.16 504.6)"/><ellipse cx="732.3" cy="498.92" rx="1.5" ry="1.5" fill="#b03050" fill-opacity="0.8" transform="rotate(164 732.3 498.92)"/><ellipse cx="669.87" cy="556.79" rx="0.6" ry="0.6" fill="#b03050" fill-opacity="0.5" transform="rotate(8 669.87 556.79)"/><ellipse cx="733.7" cy="510.42" rx="1.2" ry="1.2" fill="#a8203f" fill-opacity="0.35" transform="rotate(160 733.7 510.42)"/><ellipse cx="724.61" cy="490.68" rx="1.5" ry="1.05" fill="#7a3a5a" fill-opacity="0.8" transform="rotate(157 724.61 490.68)"/><ellipse cx="651.82" cy="547.82" rx="0.7" ry="0.7" fill="#a8203f" fill-opacity="0.9" transform="rotate(114 651.82 547.82)"/><ellipse cx="716.8" cy="524.06" rx="0.5" ry="0.35" fill="#a8203f" fill-opacity="0.9" transform="rotate(0 716.8 524.06)"/><ellipse cx="710.85" cy="482.93" rx="0.7" ry="0.35" fill="#8c2a48" fill-opacity="0.65" transform="rotate(110 710.85 482.93)"/><ellipse cx="643.14" cy="516.8" rx="1.5" ry="0.75" fill="#7a3a5a" fill-opacity="0.9" transform="rotate(154 643.14 516.8)"/><ellipse cx="675.53" cy="567.97" rx="1.2" ry="0.84" fill="#b03050" fill-opacity="0.35" transform="rotate(37 675.53 567.97)"/><ellipse cx="654.89" cy="515.25" rx="0.7" ry="0.7" fill="#8c2a48" fill-opacity="0.65" transform="rotate(72 654.89 515.25)"/><ellipse cx="642.73" cy="507.53" rx="0.6" ry="0.6" fill="#a8203f" fill-opacity="0.35" transform="rotate(19 642.73 507.53)"/><ellipse cx="663.22" cy="546.57" rx="0.6" ry="0.6" fill="#b03050" fill-opacity="0.35" transform="rotate(128 663.22 546.57)"/><ellipse cx="663.21" cy="529.48" rx="0.6" ry="0.6" fill="#a8203f" fill-opacity="0.35" transform="rotate(162 663.21 529.48)"/><ellipse cx="713.81" cy="558.21" rx="0.9" ry="0.9" fill="#7a3a5a" fill-opacity="0.8" transform="rotate(120 713.81 558.21)"/><ellipse cx="689.58" cy="547.99" rx="0.6" ry="0.6" fill="#8c2a48" fill-opacity="0.65" transform="rotate(101 689.58 547.99)"/><ellipse cx="685.69" cy="496.23" rx="1.2" ry="0.6" fill="#a8203f" fill-opacity="0.35" transform="rotate(111 685.69 496.23)"/><ellipse cx="717.95" cy="554.97" rx="0.7" ry="0.49" fill="#b03050" fill-opacity="0.5" transform="rotate(6 717.95 554.97)"/><ellipse cx="648.85" cy="535.02" rx="0.6" ry="0.42" fill="#a8203f" fill-opacity="0.35" transform="rotate(177 648.85 535.02)"/><ellipse cx="649.53" cy="543.29" rx="1" ry="1" fill="#a8203f" fill-opacity="0.9" transform="rotate(116 649.53 543.29)"/><ellipse cx="695.39" cy="479.25" rx="1.2" ry="1.2" fill="#b03050" fill-opacity="0.65" transform="rotate(112 695.39 479.25)"/><ellipse cx="684.73" cy="485.69" rx="1" ry="0.7" fill="#7a3a5a" fill-opacity="0.9" transform="rotate(3 684.73 485.69)"/><ellipse cx="675.96" cy="551.25" rx="1.5" ry="0.75" fill="#b03050" fill-opacity="0.9" transform="rotate(36 675.96 551.25)"/><ellipse cx="676.77" cy="549.18" rx="0.6" ry="0.42" fill="#7a3a5a" fill-opacity="0.65" transform="rotate(162 676.77 549.18)"/><ellipse cx="661.6" cy="516.16" rx="0.7" ry="0.49" fill="#a8203f" fill-opacity="0.9" transform="rotate(102 661.6 516.16)"/><ellipse cx="731.33" cy="532.12" rx="0.6" ry="0.42" fill="#b03050" fill-opacity="0.5" transform="rotate(103 731.33 532.12)"/><ellipse cx="680.95" cy="497.54" rx="1" ry="1" fill="#9e1a3c" fill-opacity="0.8" transform="rotate(81 680.95 497.54)"/><ellipse cx="687.34" cy="500.49" rx="0.6" ry="0.6" fill="#8c2a48" fill-opacity="0.5" transform="rotate(108 687.34 500.49)"/><ellipse cx="723.73" cy="557.46" rx="0.9" ry="0.9" fill="#7a3a5a" fill-opacity="0.5" transform="rotate(65 723.73 557.46)"/><ellipse cx="710.38" cy="559.24" rx="0.6" ry="0.6" fill="#b03050" fill-opacity="0.35" transform="rotate(32 710.38 559.24)"/><ellipse cx="739.77" cy="521.17" rx="0.7" ry="0.7" fill="#7a3a5a" fill-opacity="0.8" transform="rotate(106 739.77 521.17)"/><ellipse cx="692.66" cy="519.05" rx="0.8" ry="0.8" fill="#9e1a3c" fill-opacity="0.8" transform="rotate(25 692.66 519.05)"/><ellipse cx="661.41" cy="550.4" rx="0.7" ry="0.7" fill="#a8203f" fill-opacity="0.9" transform="rotate(47 661.41 550.4)"/><ellipse cx="663.75" cy="513.02" rx="0.5" ry="0.35" fill="#b03050" fill-opacity="0.8" transform="rotate(108 663.75 513.02)"/><ellipse cx="658.37" cy="531.35" rx="1.2" ry="1.2" fill="#b03050" fill-opacity="0.8" transform="rotate(150 658.37 531.35)"/><ellipse cx="710.5" cy="499.43" rx="1.2" ry="0.6" fill="#9e1a3c" fill-opacity="0.9" transform="rotate(162 710.5 499.43)"/><ellipse cx="654.04" cy="519.2" rx="1.2" ry="1.2" fill="#8c2a48" fill-opacity="0.35" transform="rotate(163 654.04 519.2)"/><ellipse cx="679.08" cy="563.57" rx="1.2" ry="1.2" fill="#8c2a48" fill-opacity="0.9" transform="rotate(135 679.08 563.57)"/><ellipse cx="677.25" cy="562.19" rx="0.6" ry="0.42" fill="#b03050" fill-opacity="0.35" transform="rotate(43 677.25 562.19)"/><ellipse cx="725.63" cy="489.2" rx="1.5" ry="0.75" fill="#a8203f" fill-opacity="0.9" transform="rotate(98 725.63 489.2)"/><ellipse cx="663.18" cy="483.98" rx="0.6" ry="0.6" fill="#b03050" fill-opacity="0.9" transform="rotate(101 663.18 483.98)"/><ellipse cx="711.62" cy="560.46" rx="1.2" ry="0.6" fill="#9e1a3c" fill-opacity="0.35" transform="rotate(93 711.62 560.46)"/><ellipse cx="723.3" cy="560.11" rx="1.5" ry="0.75" fill="#a8203f" fill-opacity="0.65" transform="rotate(131 723.3 560.11)"/><ellipse cx="711.41" cy="528.37" rx="1.5" ry="1.5" fill="#b03050" fill-opacity="0.9" transform="rotate(25 711.41 528.37)"/><ellipse cx="681.81" cy="502.29" rx="0.9" ry="0.45" fill="#8c2a48" fill-opacity="0.8" transform="rotate(55 681.81 502.29)"/><ellipse cx="641.22" cy="525.69" rx="1.5" ry="1.05" fill="#8c2a48" fill-opacity="0.5" transform="rotate(154 641.22 525.69)"/><ellipse cx="686.12" cy="513.62" rx="1" ry="1" fill="#9e1a3c" fill-opacity="0.8" transform="rotate(30 686.12 513.62)"/><ellipse cx="727.53" cy="490.3" rx="0.8" ry="0.56" fill="#9e1a3c" fill-opacity="0.5" transform="rotate(117 727.53 490.3)"/><ellipse cx="674.58" cy="568.48" rx="0.9" ry="0.9" fill="#8c2a48" fill-opacity="0.5" transform="rotate(125 674.58 568.48)"/><ellipse cx="721.96" cy="512.24" rx="0.6" ry="0.42" fill="#8c2a48" fill-opacity="0.5" transform="rotate(21 721.96 512.24)"/><ellipse cx="680.94" cy="500.54" rx="0.8" ry="0.8" fill="#8c2a48" fill-opacity="0.65" transform="rotate(144 680.94 500.54)"/><ellipse cx="673.35" cy="522.55" rx="0.8" ry="0.8" fill="#a8203f" fill-opacity="0.5" transform="rotate(49 673.35 522.55)"/><ellipse cx="680.74" cy="513.42" rx="0.6" ry="0.6" fill="#9e1a3c" fill-opacity="0.9" transform="rotate(95 680.74 513.42)"/></g>
<circle cx="569.2" cy="643.4" r="54.7" fill="url(#pl)" stroke="#0070C0" stroke-width="3.5"/>
<circle cx="690.5" cy="643.4" r="54" fill="url(#pl2)" stroke="#FF6600" stroke-width="4.2"/>
<g filter="url(#sb)"><ellipse cx="728.4" cy="654.5" rx="0.9" ry="0.9" fill="#7a3a5a" fill-opacity="0.8" transform="rotate(15 728.4 654.5)"/><ellipse cx="680.79" cy="686.66" rx="0.8" ry="0.56" fill="#7a3a5a" fill-opacity="0.65" transform="rotate(5 680.79 686.66)"/><ellipse cx="695.47" cy="624.23" rx="0.5" ry="0.5" fill="#b03050" fill-opacity="0.9" transform="rotate(0 695.47 624.23)"/><ellipse cx="700.22" cy="635.52" rx="0.6" ry="0.6" fill="#b03050" fill-opacity="0.65" transform="rotate(140 700.22 635.52)"/><ellipse cx="654.44" cy="639.59" rx="0.7" ry="0.49" fill="#7a3a5a" fill-opacity="0.35" transform="rotate(78 654.44 639.59)"/><ellipse cx="671.99" cy="610.5" rx="0.9" ry="0.63" fill="#b03050" fill-opacity="0.65" transform="rotate(97 671.99 610.5)"/><ellipse cx="714.31" cy="611.74" rx="0.9" ry="0.45" fill="#7a3a5a" fill-opacity="0.5" transform="rotate(174 714.31 611.74)"/><ellipse cx="722.81" cy="654.47" rx="0.7" ry="0.7" fill="#7a3a5a" fill-opacity="0.5" transform="rotate(3 722.81 654.47)"/><ellipse cx="656.89" cy="644.22" rx="1.5" ry="1.5" fill="#9e1a3c" fill-opacity="0.35" transform="rotate(20 656.89 644.22)"/><ellipse cx="708.28" cy="680.12" rx="0.8" ry="0.56" fill="#8c2a48" fill-opacity="0.35" transform="rotate(76 708.28 680.12)"/><ellipse cx="675.04" cy="599.89" rx="0.9" ry="0.9" fill="#7a3a5a" fill-opacity="0.35" transform="rotate(30 675.04 599.89)"/><ellipse cx="689.88" cy="663.78" rx="1.5" ry="0.75" fill="#b03050" fill-opacity="0.65" transform="rotate(84 689.88 663.78)"/><ellipse cx="676.93" cy="602.82" rx="0.5" ry="0.35" fill="#7a3a5a" fill-opacity="0.8" transform="rotate(177 676.93 602.82)"/><ellipse cx="711.66" cy="670.54" rx="0.5" ry="0.25" fill="#b03050" fill-opacity="0.5" transform="rotate(160 711.66 670.54)"/><ellipse cx="710.64" cy="668.23" rx="0.9" ry="0.9" fill="#9e1a3c" fill-opacity="0.8" transform="rotate(174 710.64 668.23)"/><ellipse cx="672.08" cy="604.34" rx="0.8" ry="0.8" fill="#9e1a3c" fill-opacity="0.65" transform="rotate(99 672.08 604.34)"/><ellipse cx="692.31" cy="678" rx="0.8" ry="0.8" fill="#8c2a48" fill-opacity="0.65" transform="rotate(170 692.31 678)"/><ellipse cx="711.61" cy="632.34" rx="0.7" ry="0.7" fill="#9e1a3c" fill-opacity="0.9" transform="rotate(132 711.61 632.34)"/><ellipse cx="646.1" cy="623.38" rx="0.7" ry="0.7" fill="#a8203f" fill-opacity="0.8" transform="rotate(68 646.1 623.38)"/><ellipse cx="695.13" cy="620.19" rx="1" ry="0.7" fill="#7a3a5a" fill-opacity="0.5" transform="rotate(144 695.13 620.19)"/><ellipse cx="658.49" cy="647.41" rx="1.5" ry="1.5" fill="#b03050" fill-opacity="0.8" transform="rotate(88 658.49 647.41)"/><ellipse cx="675.29" cy="627.87" rx="1.5" ry="1.05" fill="#b03050" fill-opacity="0.9" transform="rotate(75 675.29 627.87)"/><ellipse cx="716.15" cy="651.23" rx="0.9" ry="0.45" fill="#a8203f" fill-opacity="0.9" transform="rotate(133 716.15 651.23)"/><ellipse cx="652.2" cy="640.47" rx="0.8" ry="0.8" fill="#8c2a48" fill-opacity="0.35" transform="rotate(10 652.2 640.47)"/><ellipse cx="684.33" cy="598.87" rx="0.7" ry="0.49" fill="#9e1a3c" fill-opacity="0.35" transform="rotate(179 684.33 598.87)"/><ellipse cx="708.62" cy="614.38" rx="1.2" ry="1.2" fill="#7a3a5a" fill-opacity="0.65" transform="rotate(120 708.62 614.38)"/><ellipse cx="677.68" cy="681.04" rx="1.5" ry="0.75" fill="#a8203f" fill-opacity="0.5" transform="rotate(92 677.68 681.04)"/><ellipse cx="706.69" cy="660.14" rx="1.2" ry="1.2" fill="#7a3a5a" fill-opacity="0.8" transform="rotate(124 706.69 660.14)"/><ellipse cx="652.96" cy="639.38" rx="1" ry="1" fill="#a8203f" fill-opacity="0.8" transform="rotate(158 652.96 639.38)"/><ellipse cx="709.41" cy="611.24" rx="1.5" ry="1.5" fill="#b03050" fill-opacity="0.5" transform="rotate(93 709.41 611.24)"/><ellipse cx="680.44" cy="656.27" rx="1" ry="1" fill="#a8203f" fill-opacity="0.9" transform="rotate(25 680.44 656.27)"/><ellipse cx="716.01" cy="607.45" rx="1.5" ry="0.75" fill="#9e1a3c" fill-opacity="0.65" transform="rotate(165 716.01 607.45)"/><ellipse cx="699.42" cy="684.79" rx="0.6" ry="0.6" fill="#8c2a48" fill-opacity="0.5" transform="rotate(16 699.42 684.79)"/><ellipse cx="661.79" cy="657.42" rx="0.5" ry="0.5" fill="#8c2a48" fill-opacity="0.8" transform="rotate(51 661.79 657.42)"/><ellipse cx="683.56" cy="620.42" rx="1.2" ry="0.84" fill="#a8203f" fill-opacity="0.8" transform="rotate(63 683.56 620.42)"/><ellipse cx="681.87" cy="607.63" rx="1" ry="1" fill="#b03050" fill-opacity="0.5" transform="rotate(104 681.87 607.63)"/><ellipse cx="679.09" cy="607.22" rx="0.5" ry="0.5" fill="#8c2a48" fill-opacity="0.35" transform="rotate(163 679.09 607.22)"/><ellipse cx="713.17" cy="629.49" rx="1.2" ry="1.2" fill="#8c2a48" fill-opacity="0.9" transform="rotate(84 713.17 629.49)"/><ellipse cx="678.77" cy="666.23" rx="0.5" ry="0.25" fill="#8c2a48" fill-opacity="0.65" transform="rotate(160 678.77 666.23)"/><ellipse cx="666.59" cy="632.93" rx="0.7" ry="0.7" fill="#7a3a5a" fill-opacity="0.8" transform="rotate(61 666.59 632.93)"/><ellipse cx="697.69" cy="638.01" rx="0.8" ry="0.4" fill="#7a3a5a" fill-opacity="0.35" transform="rotate(97 697.69 638.01)"/><ellipse cx="680.73" cy="635.03" rx="0.6" ry="0.6" fill="#b03050" fill-opacity="0.8" transform="rotate(173 680.73 635.03)"/><ellipse cx="656.21" cy="673.64" rx="0.9" ry="0.9" fill="#8c2a48" fill-opacity="0.8" transform="rotate(85 656.21 673.64)"/><ellipse cx="729.83" cy="648.65" rx="0.9" ry="0.63" fill="#a8203f" fill-opacity="0.65" transform="rotate(42 729.83 648.65)"/><ellipse cx="728.11" cy="643.62" rx="1.2" ry="0.6" fill="#7a3a5a" fill-opacity="0.5" transform="rotate(88 728.11 643.62)"/><ellipse cx="668.34" cy="612.83" rx="1" ry="1" fill="#9e1a3c" fill-opacity="0.65" transform="rotate(159 668.34 612.83)"/><ellipse cx="673.77" cy="683.18" rx="1.2" ry="0.84" fill="#a8203f" fill-opacity="0.5" transform="rotate(28 673.77 683.18)"/><ellipse cx="664.71" cy="618.68" rx="0.9" ry="0.9" fill="#8c2a48" fill-opacity="0.8" transform="rotate(66 664.71 618.68)"/><ellipse cx="672.76" cy="612.07" rx="0.8" ry="0.8" fill="#a8203f" fill-opacity="0.65" transform="rotate(165 672.76 612.07)"/><ellipse cx="686.76" cy="595.77" rx="0.6" ry="0.3" fill="#9e1a3c" fill-opacity="0.65" transform="rotate(152 686.76 595.77)"/><ellipse cx="648.59" cy="640.14" rx="0.5" ry="0.35" fill="#b03050" fill-opacity="0.9" transform="rotate(156 648.59 640.14)"/><ellipse cx="714.76" cy="651.87" rx="1.2" ry="1.2" fill="#8c2a48" fill-opacity="0.65" transform="rotate(128 714.76 651.87)"/><ellipse cx="676.82" cy="669.5" rx="0.8" ry="0.56" fill="#b03050" fill-opacity="0.9" transform="rotate(115 676.82 669.5)"/><ellipse cx="721.42" cy="674.54" rx="0.9" ry="0.63" fill="#a8203f" fill-opacity="0.5" transform="rotate(67 721.42 674.54)"/><ellipse cx="678.6" cy="621.97" rx="0.7" ry="0.35" fill="#7a3a5a" fill-opacity="0.8" transform="rotate(124 678.6 621.97)"/><ellipse cx="702.94" cy="595.89" rx="0.9" ry="0.9" fill="#8c2a48" fill-opacity="0.8" transform="rotate(113 702.94 595.89)"/><ellipse cx="651.24" cy="673.18" rx="0.7" ry="0.35" fill="#9e1a3c" fill-opacity="0.5" transform="rotate(156 651.24 673.18)"/><ellipse cx="701.03" cy="671.97" rx="0.6" ry="0.6" fill="#9e1a3c" fill-opacity="0.65" transform="rotate(149 701.03 671.97)"/><ellipse cx="703.49" cy="626.77" rx="0.6" ry="0.6" fill="#8c2a48" fill-opacity="0.8" transform="rotate(40 703.49 626.77)"/><ellipse cx="684.77" cy="611.32" rx="0.7" ry="0.7" fill="#7a3a5a" fill-opacity="0.5" transform="rotate(50 684.77 611.32)"/><ellipse cx="713.19" cy="618.2" rx="0.6" ry="0.6" fill="#b03050" fill-opacity="0.8" transform="rotate(21 713.19 618.2)"/><ellipse cx="687.34" cy="649.73" rx="0.7" ry="0.7" fill="#8c2a48" fill-opacity="0.8" transform="rotate(57 687.34 649.73)"/><ellipse cx="710.47" cy="654.54" rx="0.9" ry="0.45" fill="#9e1a3c" fill-opacity="0.5" transform="rotate(1 710.47 654.54)"/><ellipse cx="693.28" cy="601.74" rx="0.5" ry="0.35" fill="#b03050" fill-opacity="0.65" transform="rotate(25 693.28 601.74)"/><ellipse cx="702.84" cy="594.14" rx="1.2" ry="1.2" fill="#b03050" fill-opacity="0.35" transform="rotate(63 702.84 594.14)"/><ellipse cx="655.08" cy="629.43" rx="0.8" ry="0.8" fill="#a8203f" fill-opacity="0.65" transform="rotate(168 655.08 629.43)"/><ellipse cx="724.03" cy="605.17" rx="1.5" ry="0.75" fill="#9e1a3c" fill-opacity="0.5" transform="rotate(170 724.03 605.17)"/><ellipse cx="649.86" cy="633.23" rx="0.9" ry="0.9" fill="#7a3a5a" fill-opacity="0.35" transform="rotate(55 649.86 633.23)"/><ellipse cx="685.3" cy="642.93" rx="0.8" ry="0.4" fill="#9e1a3c" fill-opacity="0.65" transform="rotate(138 685.3 642.93)"/><ellipse cx="688.13" cy="668.54" rx="1.5" ry="1.5" fill="#7a3a5a" fill-opacity="0.65" transform="rotate(148 688.13 668.54)"/><ellipse cx="696.12" cy="593.07" rx="0.6" ry="0.6" fill="#b03050" fill-opacity="0.8" transform="rotate(45 696.12 593.07)"/><ellipse cx="697.09" cy="639.2" rx="0.7" ry="0.49" fill="#b03050" fill-opacity="0.65" transform="rotate(130 697.09 639.2)"/><ellipse cx="663.69" cy="642.36" rx="1" ry="1" fill="#8c2a48" fill-opacity="0.65" transform="rotate(50 663.69 642.36)"/><ellipse cx="714.44" cy="627.16" rx="0.6" ry="0.6" fill="#a8203f" fill-opacity="0.65" transform="rotate(133 714.44 627.16)"/><ellipse cx="701.08" cy="686.08" rx="0.9" ry="0.63" fill="#8c2a48" fill-opacity="0.5" transform="rotate(19 701.08 686.08)"/><ellipse cx="709.31" cy="667.01" rx="1.2" ry="0.6" fill="#b03050" fill-opacity="0.35" transform="rotate(90 709.31 667.01)"/><ellipse cx="666.75" cy="659.9" rx="0.8" ry="0.4" fill="#8c2a48" fill-opacity="0.5" transform="rotate(11 666.75 659.9)"/><ellipse cx="657.62" cy="622.8" rx="1" ry="1" fill="#a8203f" fill-opacity="0.8" transform="rotate(89 657.62 622.8)"/><ellipse cx="699.63" cy="596.22" rx="0.9" ry="0.45" fill="#8c2a48" fill-opacity="0.8" transform="rotate(158 699.63 596.22)"/><ellipse cx="696.9" cy="607" rx="0.5" ry="0.35" fill="#9e1a3c" fill-opacity="0.8" transform="rotate(38 696.9 607)"/><ellipse cx="654.71" cy="611.34" rx="1.2" ry="0.6" fill="#b03050" fill-opacity="0.35" transform="rotate(78 654.71 611.34)"/><ellipse cx="644.84" cy="652.93" rx="0.8" ry="0.8" fill="#7a3a5a" fill-opacity="0.9" transform="rotate(103 644.84 652.93)"/><ellipse cx="681.39" cy="642.53" rx="1.5" ry="1.5" fill="#7a3a5a" fill-opacity="0.65" transform="rotate(8 681.39 642.53)"/><ellipse cx="717.87" cy="653.18" rx="1.5" ry="1.5" fill="#7a3a5a" fill-opacity="0.65" transform="rotate(56 717.87 653.18)"/><ellipse cx="686.28" cy="592.85" rx="1.2" ry="0.6" fill="#b03050" fill-opacity="0.5" transform="rotate(19 686.28 592.85)"/><ellipse cx="709.42" cy="688.62" rx="0.7" ry="0.35" fill="#7a3a5a" fill-opacity="0.35" transform="rotate(45 709.42 688.62)"/><ellipse cx="688.92" cy="665.27" rx="0.5" ry="0.5" fill="#7a3a5a" fill-opacity="0.65" transform="rotate(145 688.92 665.27)"/><ellipse cx="654.7" cy="654.03" rx="1.2" ry="0.84" fill="#8c2a48" fill-opacity="0.8" transform="rotate(173 654.7 654.03)"/><ellipse cx="691.7" cy="660.06" rx="1.5" ry="1.5" fill="#9e1a3c" fill-opacity="0.5" transform="rotate(143 691.7 660.06)"/><ellipse cx="717.95" cy="608.03" rx="0.6" ry="0.42" fill="#a8203f" fill-opacity="0.65" transform="rotate(18 717.95 608.03)"/><ellipse cx="719.69" cy="650.27" rx="0.8" ry="0.8" fill="#b03050" fill-opacity="0.35" transform="rotate(32 719.69 650.27)"/><ellipse cx="654.55" cy="673.67" rx="1.5" ry="1.5" fill="#9e1a3c" fill-opacity="0.35" transform="rotate(177 654.55 673.67)"/><ellipse cx="701.36" cy="682.37" rx="0.8" ry="0.8" fill="#9e1a3c" fill-opacity="0.8" transform="rotate(146 701.36 682.37)"/><ellipse cx="675.98" cy="598.84" rx="0.9" ry="0.63" fill="#a8203f" fill-opacity="0.5" transform="rotate(137 675.98 598.84)"/><ellipse cx="708.9" cy="677.63" rx="0.5" ry="0.35" fill="#9e1a3c" fill-opacity="0.65" transform="rotate(46 708.9 677.63)"/><ellipse cx="668.08" cy="676.83" rx="0.9" ry="0.63" fill="#9e1a3c" fill-opacity="0.35" transform="rotate(124 668.08 676.83)"/><ellipse cx="687.86" cy="612.9" rx="0.9" ry="0.9" fill="#a8203f" fill-opacity="0.5" transform="rotate(12 687.86 612.9)"/><ellipse cx="687.4" cy="674.46" rx="1.2" ry="1.2" fill="#a8203f" fill-opacity="0.8" transform="rotate(91 687.4 674.46)"/><ellipse cx="718.52" cy="632.64" rx="1.2" ry="0.84" fill="#7a3a5a" fill-opacity="0.8" transform="rotate(21 718.52 632.64)"/><ellipse cx="724.65" cy="676.78" rx="0.6" ry="0.6" fill="#b03050" fill-opacity="0.5" transform="rotate(69 724.65 676.78)"/><ellipse cx="688.83" cy="603.89" rx="1.5" ry="0.75" fill="#b03050" fill-opacity="0.65" transform="rotate(59 688.83 603.89)"/><ellipse cx="654.78" cy="622.49" rx="0.9" ry="0.9" fill="#7a3a5a" fill-opacity="0.35" transform="rotate(44 654.78 622.49)"/><ellipse cx="674.75" cy="653.18" rx="0.9" ry="0.9" fill="#8c2a48" fill-opacity="0.8" transform="rotate(61 674.75 653.18)"/><ellipse cx="710.66" cy="600.91" rx="0.6" ry="0.3" fill="#a8203f" fill-opacity="0.8" transform="rotate(15 710.66 600.91)"/><ellipse cx="670.07" cy="666.99" rx="1" ry="0.5" fill="#b03050" fill-opacity="0.5" transform="rotate(13 670.07 666.99)"/><ellipse cx="707.89" cy="675.23" rx="1.5" ry="0.75" fill="#9e1a3c" fill-opacity="0.5" transform="rotate(178 707.89 675.23)"/><ellipse cx="653.79" cy="671.82" rx="0.6" ry="0.3" fill="#b03050" fill-opacity="0.35" transform="rotate(118 653.79 671.82)"/><ellipse cx="702.82" cy="595.73" rx="0.8" ry="0.8" fill="#a8203f" fill-opacity="0.65" transform="rotate(92 702.82 595.73)"/><ellipse cx="727.95" cy="669.17" rx="0.5" ry="0.35" fill="#8c2a48" fill-opacity="0.9" transform="rotate(119 727.95 669.17)"/><ellipse cx="724.98" cy="636.8" rx="0.6" ry="0.6" fill="#a8203f" fill-opacity="0.8" transform="rotate(2 724.98 636.8)"/><ellipse cx="722.02" cy="605.15" rx="0.5" ry="0.25" fill="#b03050" fill-opacity="0.65" transform="rotate(96 722.02 605.15)"/><ellipse cx="673.87" cy="639.83" rx="0.6" ry="0.6" fill="#7a3a5a" fill-opacity="0.9" transform="rotate(22 673.87 639.83)"/><ellipse cx="673.78" cy="635.8" rx="0.6" ry="0.6" fill="#8c2a48" fill-opacity="0.65" transform="rotate(139 673.78 635.8)"/><ellipse cx="691.16" cy="676.21" rx="0.5" ry="0.35" fill="#b03050" fill-opacity="0.9" transform="rotate(30 691.16 676.21)"/><ellipse cx="705.49" cy="654.95" rx="0.6" ry="0.42" fill="#7a3a5a" fill-opacity="0.5" transform="rotate(94 705.49 654.95)"/><ellipse cx="657.29" cy="665.53" rx="0.6" ry="0.6" fill="#a8203f" fill-opacity="0.35" transform="rotate(27 657.29 665.53)"/><ellipse cx="708.72" cy="603.67" rx="1.2" ry="0.84" fill="#7a3a5a" fill-opacity="0.65" transform="rotate(111 708.72 603.67)"/><ellipse cx="660.88" cy="663.54" rx="0.5" ry="0.5" fill="#8c2a48" fill-opacity="0.8" transform="rotate(14 660.88 663.54)"/><ellipse cx="689.34" cy="660.41" rx="1.2" ry="1.2" fill="#a8203f" fill-opacity="0.8" transform="rotate(117 689.34 660.41)"/><ellipse cx="728.06" cy="610.98" rx="0.6" ry="0.6" fill="#8c2a48" fill-opacity="0.65" transform="rotate(133 728.06 610.98)"/><ellipse cx="688.89" cy="674.29" rx="1.2" ry="1.2" fill="#8c2a48" fill-opacity="0.8" transform="rotate(116 688.89 674.29)"/><ellipse cx="681.73" cy="658.47" rx="0.9" ry="0.45" fill="#7a3a5a" fill-opacity="0.5" transform="rotate(68 681.73 658.47)"/><ellipse cx="670.15" cy="684.81" rx="0.6" ry="0.6" fill="#8c2a48" fill-opacity="0.35" transform="rotate(64 670.15 684.81)"/><ellipse cx="725.54" cy="632.25" rx="1.5" ry="0.75" fill="#b03050" fill-opacity="0.65" transform="rotate(106 725.54 632.25)"/><ellipse cx="723.93" cy="669.3" rx="1" ry="0.7" fill="#7a3a5a" fill-opacity="0.65" transform="rotate(124 723.93 669.3)"/><ellipse cx="703.03" cy="623.68" rx="0.5" ry="0.5" fill="#b03050" fill-opacity="0.5" transform="rotate(21 703.03 623.68)"/><ellipse cx="692.09" cy="613.5" rx="0.6" ry="0.42" fill="#7a3a5a" fill-opacity="0.65" transform="rotate(48 692.09 613.5)"/><ellipse cx="699.91" cy="611.49" rx="1" ry="1" fill="#8c2a48" fill-opacity="0.35" transform="rotate(102 699.91 611.49)"/><ellipse cx="716.81" cy="661.83" rx="0.8" ry="0.8" fill="#9e1a3c" fill-opacity="0.65" transform="rotate(57 716.81 661.83)"/><ellipse cx="709.61" cy="602.35" rx="0.9" ry="0.45" fill="#9e1a3c" fill-opacity="0.8" transform="rotate(71 709.61 602.35)"/><ellipse cx="706.91" cy="652.94" rx="1" ry="0.5" fill="#a8203f" fill-opacity="0.9" transform="rotate(104 706.91 652.94)"/><ellipse cx="734.25" cy="644.93" rx="1.2" ry="1.2" fill="#a8203f" fill-opacity="0.35" transform="rotate(140 734.25 644.93)"/><ellipse cx="649.34" cy="659.54" rx="1.2" ry="1.2" fill="#9e1a3c" fill-opacity="0.8" transform="rotate(80 649.34 659.54)"/><ellipse cx="725.25" cy="617.23" rx="0.6" ry="0.6" fill="#9e1a3c" fill-opacity="0.9" transform="rotate(126 725.25 617.23)"/><ellipse cx="656.65" cy="668.92" rx="0.6" ry="0.42" fill="#b03050" fill-opacity="0.35" transform="rotate(58 656.65 668.92)"/><ellipse cx="722.15" cy="681.65" rx="0.7" ry="0.7" fill="#b03050" fill-opacity="0.8" transform="rotate(5 722.15 681.65)"/><ellipse cx="661.99" cy="656.4" rx="1.5" ry="1.5" fill="#b03050" fill-opacity="0.8" transform="rotate(92 661.99 656.4)"/><ellipse cx="652.94" cy="647.73" rx="0.7" ry="0.7" fill="#9e1a3c" fill-opacity="0.5" transform="rotate(62 652.94 647.73)"/><ellipse cx="706.04" cy="669.25" rx="1.2" ry="1.2" fill="#7a3a5a" fill-opacity="0.9" transform="rotate(151 706.04 669.25)"/><ellipse cx="665.99" cy="673.69" rx="1.5" ry="1.5" fill="#9e1a3c" fill-opacity="0.65" transform="rotate(125 665.99 673.69)"/><ellipse cx="693.18" cy="669.33" rx="1.2" ry="0.6" fill="#9e1a3c" fill-opacity="0.65" transform="rotate(144 693.18 669.33)"/><ellipse cx="689.74" cy="668.54" rx="0.8" ry="0.8" fill="#9e1a3c" fill-opacity="0.9" transform="rotate(100 689.74 668.54)"/><ellipse cx="738.58" cy="636.02" rx="1.5" ry="1.5" fill="#9e1a3c" fill-opacity="0.8" transform="rotate(41 738.58 636.02)"/><ellipse cx="690.82" cy="627.09" rx="0.9" ry="0.63" fill="#8c2a48" fill-opacity="0.35" transform="rotate(102 690.82 627.09)"/><ellipse cx="662.6" cy="634.04" rx="0.7" ry="0.7" fill="#8c2a48" fill-opacity="0.65" transform="rotate(17 662.6 634.04)"/><ellipse cx="695.57" cy="620.11" rx="0.8" ry="0.8" fill="#a8203f" fill-opacity="0.35" transform="rotate(137 695.57 620.11)"/><ellipse cx="648.48" cy="619.45" rx="1" ry="1" fill="#9e1a3c" fill-opacity="0.65" transform="rotate(171 648.48 619.45)"/><ellipse cx="685.1" cy="616.43" rx="0.9" ry="0.45" fill="#8c2a48" fill-opacity="0.5" transform="rotate(3 685.1 616.43)"/><ellipse cx="665.52" cy="637.45" rx="0.9" ry="0.9" fill="#7a3a5a" fill-opacity="0.65" transform="rotate(23 665.52 637.45)"/><ellipse cx="663.99" cy="645.93" rx="0.9" ry="0.9" fill="#a8203f" fill-opacity="0.9" transform="rotate(157 663.99 645.93)"/><ellipse cx="715.81" cy="683.34" rx="0.7" ry="0.35" fill="#a8203f" fill-opacity="0.9" transform="rotate(96 715.81 683.34)"/><ellipse cx="664.29" cy="602.12" rx="0.9" ry="0.9" fill="#b03050" fill-opacity="0.35" transform="rotate(168 664.29 602.12)"/><ellipse cx="661.07" cy="677.78" rx="0.8" ry="0.8" fill="#8c2a48" fill-opacity="0.8" transform="rotate(62 661.07 677.78)"/><ellipse cx="699.11" cy="683.28" rx="0.9" ry="0.9" fill="#9e1a3c" fill-opacity="0.5" transform="rotate(170 699.11 683.28)"/><ellipse cx="728.56" cy="674.99" rx="0.6" ry="0.6" fill="#9e1a3c" fill-opacity="0.35" transform="rotate(168 728.56 674.99)"/><ellipse cx="712.37" cy="637.95" rx="1" ry="1" fill="#a8203f" fill-opacity="0.65" transform="rotate(11 712.37 637.95)"/><ellipse cx="683.83" cy="631.91" rx="0.5" ry="0.5" fill="#a8203f" fill-opacity="0.9" transform="rotate(176 683.83 631.91)"/><ellipse cx="671.8" cy="600.1" rx="0.6" ry="0.6" fill="#a8203f" fill-opacity="0.9" transform="rotate(15 671.8 600.1)"/><ellipse cx="676.89" cy="605.88" rx="0.8" ry="0.4" fill="#a8203f" fill-opacity="0.8" transform="rotate(87 676.89 605.88)"/><ellipse cx="721.83" cy="660.29" rx="0.6" ry="0.42" fill="#8c2a48" fill-opacity="0.65" transform="rotate(60 721.83 660.29)"/><ellipse cx="675.85" cy="596.21" rx="0.7" ry="0.7" fill="#7a3a5a" fill-opacity="0.35" transform="rotate(88 675.85 596.21)"/><ellipse cx="654.93" cy="620.63" rx="1" ry="0.7" fill="#7a3a5a" fill-opacity="0.35" transform="rotate(28 654.93 620.63)"/><ellipse cx="704.9" cy="634.65" rx="0.9" ry="0.9" fill="#b03050" fill-opacity="0.35" transform="rotate(5 704.9 634.65)"/><ellipse cx="710.83" cy="606.28" rx="0.6" ry="0.3" fill="#9e1a3c" fill-opacity="0.65" transform="rotate(172 710.83 606.28)"/><ellipse cx="697.26" cy="674.75" rx="0.8" ry="0.8" fill="#8c2a48" fill-opacity="0.65" transform="rotate(39 697.26 674.75)"/><ellipse cx="652.87" cy="673.75" rx="0.8" ry="0.8" fill="#7a3a5a" fill-opacity="0.35" transform="rotate(66 652.87 673.75)"/><ellipse cx="684.26" cy="607.12" rx="1" ry="1" fill="#b03050" fill-opacity="0.5" transform="rotate(31 684.26 607.12)"/><ellipse cx="705.6" cy="664.17" rx="1.5" ry="1.05" fill="#a8203f" fill-opacity="0.65" transform="rotate(42 705.6 664.17)"/><ellipse cx="675.79" cy="621.94" rx="0.9" ry="0.45" fill="#8c2a48" fill-opacity="0.5" transform="rotate(41 675.79 621.94)"/><ellipse cx="681.19" cy="671.16" rx="0.8" ry="0.4" fill="#7a3a5a" fill-opacity="0.5" transform="rotate(16 681.19 671.16)"/></g>
<text x="846.5" y="456.2" font-size="48" font-weight="bold">d</text>
<text x="934.71" y="457.94" font-size="26.26" textLength="33.1" lengthAdjust="spacingAndGlyphs">d0</text>
<text x="1077.31" y="457.94" font-size="26.26" textLength="49.79" lengthAdjust="spacingAndGlyphs">d28</text>
<rect x="904.3" y="464.4" width="92.5" height="4.4" fill="#404040" />
<rect x="1007.2" y="464.4" width="191.4" height="4.4" fill="#404040" />
<rect x="904.3" y="474.1" width="92.5" height="4.4" fill="#3a77c0" />
<rect x="1007.2" y="474.1" width="90.5" height="4.4" fill="#3a77c0" />
<rect x="1106.6" y="474.1" width="92" height="4.4" fill="#FF6600" />
<rect x="903" y="486.1" width="297.7" height="96.2" fill="#f8f8f8" />
<circle cx="921.3" cy="502.4" r="5.4" fill="#cccccc" filter="url(#bl)"/>
<circle cx="953.3" cy="502.4" r="5.38" fill="#d1d1d1" filter="url(#bl)"/>
<circle cx="986" cy="502.4" r="5.32" fill="#e0e0e0" filter="url(#bl)"/>
<circle cx="1020.7" cy="502.4" r="5.55" fill="#a6a6a6" filter="url(#bl)"/>
<circle cx="1053.4" cy="502.4" r="5.48" fill="#b8b8b8" filter="url(#bl)"/>
<circle cx="1086.2" cy="502.4" r="5.38" fill="#d1d1d1" filter="url(#bl)"/>
<circle cx="1119.7" cy="502.4" r="6.2" fill="#000000" filter="url(#bl)"/>
<circle cx="1151.6" cy="502.4" r="6.2" fill="#000000" filter="url(#bl)"/>
<circle cx="1184.4" cy="502.4" r="5.48" fill="#b8b8b8" filter="url(#bl)"/>
<circle cx="921.3" cy="535.2" r="5.3" fill="#e6e6e6" filter="url(#bl)"/>
<circle cx="953.3" cy="535.2" r="5.24" fill="#f5f5f5" filter="url(#bl)"/>
<circle cx="986" cy="535.2" r="5.25" fill="#f2f2f2" filter="url(#bl)"/>
<circle cx="1020.7" cy="535.2" r="5.25" fill="#f2f2f2" filter="url(#bl)"/>
<circle cx="1053.4" cy="535.2" r="5.25" fill="#f2f2f2" filter="url(#bl)"/>
<circle cx="1086.2" cy="535.2" r="5.3" fill="#e6e6e6" filter="url(#bl)"/>
<circle cx="1119.7" cy="535.2" r="5.75" fill="#737373" filter="url(#bl)"/>
<circle cx="1151.6" cy="535.2" r="5.55" fill="#a6a6a6" filter="url(#bl)"/>
<circle cx="1184.4" cy="535.2" r="5.35" fill="#d9d9d9" filter="url(#bl)"/>
<circle cx="921.3" cy="567.9" r="5.25" fill="#f2f2f2" filter="url(#bl)"/>
<circle cx="953.3" cy="567.9" r="5.24" fill="#f5f5f5" filter="url(#bl)"/>
<circle cx="986" cy="567.9" r="5.25" fill="#f2f2f2" filter="url(#bl)"/>
<circle cx="1020.7" cy="567.9" r="5.3" fill="#e6e6e6" filter="url(#bl)"/>
<circle cx="1053.4" cy="567.9" r="5.25" fill="#f2f2f2" filter="url(#bl)"/>
<circle cx="1086.2" cy="567.9" r="5.3" fill="#e6e6e6" filter="url(#bl)"/>
<circle cx="1119.7" cy="567.9" r="5.35" fill="#d9d9d9" filter="url(#bl)"/>
<circle cx="1151.6" cy="567.9" r="5.35" fill="#d9d9d9" filter="url(#bl)"/>
<circle cx="1184.4" cy="567.9" r="5.27" fill="#ededed" filter="url(#bl)"/>
<rect x="903" y="592" width="297.7" height="96.3" fill="#fafafa" />
<circle cx="921.3" cy="608.4" r="5.4" fill="#cccccc" filter="url(#bl)"/>
<circle cx="953.3" cy="608.4" r="5.9" fill="#4c4c4c" filter="url(#bl)"/>
<circle cx="986" cy="608.4" r="6.18" fill="#050505" filter="url(#bl)"/>
<circle cx="1020.7" cy="608.4" r="6.15" fill="#0d0d0d" filter="url(#bl)"/>
<circle cx="1053.4" cy="608.4" r="5.38" fill="#d1d1d1" filter="url(#bl)"/>
<circle cx="1086.2" cy="608.4" r="6.05" fill="#262626" filter="url(#bl)"/>
<circle cx="1119.7" cy="608.4" r="5.27" fill="#ededed" filter="url(#bl)"/>
<circle cx="1151.6" cy="608.4" r="5.48" fill="#b8b8b8" filter="url(#bl)"/>
<circle cx="1184.4" cy="608.4" r="5.25" fill="#f2f2f2" filter="url(#bl)"/>
<circle cx="921.3" cy="641.1" r="5.65" fill="#8c8c8c" filter="url(#bl)"/>
<circle cx="953.3" cy="641.1" r="5.85" fill="#595959" filter="url(#bl)"/>
<circle cx="986" cy="641.1" r="6.18" fill="#050505" filter="url(#bl)"/>
<circle cx="1020.7" cy="641.1" r="5.9" fill="#4c4c4c" filter="url(#bl)"/>
<circle cx="1053.4" cy="641.1" r="5.3" fill="#e6e6e6" filter="url(#bl)"/>
<circle cx="1086.2" cy="641.1" r="5.75" fill="#737373" filter="url(#bl)"/>
<circle cx="1119.7" cy="641.1" r="5.25" fill="#f2f2f2" filter="url(#bl)"/>
<circle cx="1151.6" cy="641.1" r="5.34" fill="#dbdbdb" filter="url(#bl)"/>
<circle cx="1184.4" cy="641.1" r="5.24" fill="#f5f5f5" filter="url(#bl)"/>
<circle cx="921.3" cy="674.6" r="5.25" fill="#f2f2f2" filter="url(#bl)"/>
<circle cx="953.3" cy="674.6" r="5.55" fill="#a6a6a6" filter="url(#bl)"/>
<circle cx="986" cy="674.6" r="5.7" fill="#808080" filter="url(#bl)"/>
<circle cx="1020.7" cy="674.6" r="5.42" fill="#c7c7c7" filter="url(#bl)"/>
<circle cx="1053.4" cy="674.6" r="5.27" fill="#ededed" filter="url(#bl)"/>
<circle cx="1086.2" cy="674.6" r="5.5" fill="#b2b2b2" filter="url(#bl)"/>
<circle cx="1119.7" cy="674.6" r="5.23" fill="#f7f7f7" filter="url(#bl)"/>
<circle cx="1151.6" cy="674.6" r="5.25" fill="#f2f2f2" filter="url(#bl)"/>
<circle cx="1184.4" cy="674.6" r="5.23" fill="#f7f7f7" filter="url(#bl)"/>
<rect x="903" y="486.1" width="297.7" height="96.2" fill="none" stroke="#000" stroke-width="2" />
<line x1="1002.2" y1="485.1" x2="1002.2" y2="583.3" stroke="#000" stroke-width="1.6" />
<line x1="1102.3" y1="485.1" x2="1102.3" y2="583.3" stroke="#000" stroke-width="1.6" />
<rect x="903" y="592" width="297.7" height="96.3" fill="none" stroke="#000" stroke-width="2" />
<line x1="1002.2" y1="591" x2="1002.2" y2="689.3" stroke="#000" stroke-width="1.6" />
<line x1="1102.3" y1="591" x2="1102.3" y2="689.3" stroke="#000" stroke-width="1.6" />
<text x="891.31" y="576.74" font-size="28.84" transform="rotate(-90 891.31 576.74)" textLength="76.11" lengthAdjust="spacingAndGlyphs">5hmC</text>
<text x="891.31" y="661.55" font-size="28.84" transform="rotate(-90 891.31 661.55)" textLength="44.58" lengthAdjust="spacingAndGlyphs">5fC</text>
<text x="1207.8" y="511.4" font-size="27.5">1</text>
<text x="1207.8" y="544.2" font-size="27.5">1:2</text>
<text x="1207.8" y="576.9" font-size="27.5">1:4</text>
<text x="1207.8" y="617.4" font-size="27.5">1</text>
<text x="1207.8" y="650.1" font-size="27.5">1:2</text>
<text x="1207.8" y="683.6" font-size="27.5">1:4</text>
<text x="-1.5" y="862" font-size="48" font-weight="bold">e</text>
<rect x="91.2" y="890.7" width="145.5" height="222.8" fill="none" stroke="#bdbdbd" stroke-width="1" />
<line x1="91.2" y1="890.7" x2="91.2" y2="1113.5" stroke="#d6d6d6" stroke-width="1.8" />
<line x1="86.2" y1="890.7" x2="91.2" y2="890.7" stroke="#a8a8a8" stroke-width="0.9" />
<text x="84.93" y="900.4" font-size="27.5" text-anchor="end">10</text>
<line x1="86.2" y1="1002.1" x2="91.2" y2="1002.1" stroke="#a8a8a8" stroke-width="0.9" />
<text x="85.03" y="1011.8" font-size="27.5" text-anchor="end">5</text>
<line x1="86.2" y1="1113.5" x2="91.2" y2="1113.5" stroke="#a8a8a8" stroke-width="0.9" />
<text x="84.89" y="1123.2" font-size="27.5" text-anchor="end">0</text>
<text x="98.03" y="920.8" font-size="29" font-style="italic" fill="#595959" textLength="83.93" lengthAdjust="spacingAndGlyphs">Runx2</text>
<rect x="94.3" y="1091.3" width="11.5" height="22.2" fill="#595959" stroke="#2a2a2a" stroke-width="0.6" />
<line x1="100.05" y1="1087.6" x2="100.05" y2="1095" stroke="#1a1a1a" stroke-width="0.9" />
<line x1="97.3" y1="1087.6" x2="102.8" y2="1087.6" stroke="#8a8a8a" stroke-width="0.9" />
<line x1="97.3" y1="1095" x2="102.8" y2="1095" stroke="#8a8a8a" stroke-width="0.9" />
<circle cx="97.85" cy="1089" r="2.6" fill="#000" />
<circle cx="102.25" cy="1089" r="2.6" fill="#000" />
<circle cx="100.05" cy="1095.4" r="2.6" fill="#000" />
<rect x="123.4" y="1051.2" width="11.5" height="62.3" fill="#595959" stroke="#2a2a2a" stroke-width="0.6" />
<line x1="129.15" y1="1046.7" x2="129.15" y2="1055.7" stroke="#1a1a1a" stroke-width="0.9" />
<line x1="126.4" y1="1046.7" x2="131.9" y2="1046.7" stroke="#8a8a8a" stroke-width="0.9" />
<line x1="126.4" y1="1055.7" x2="131.9" y2="1055.7" stroke="#8a8a8a" stroke-width="0.9" />
<circle cx="129.15" cy="1045.7" r="2.6" fill="#000" />
<circle cx="126.95" cy="1052" r="2.6" fill="#000" />
<circle cx="131.35" cy="1054.3" r="2.6" fill="#000" />
<rect x="134.9" y="1041.2" width="11.5" height="72.3" fill="#C00000" stroke="#7a0000" stroke-width="0.6" />
<line x1="140.65" y1="1024.81" x2="140.65" y2="1057.59" stroke="#9a0f0f" stroke-width="0.9" />
<line x1="137.9" y1="1024.81" x2="143.4" y2="1024.81" stroke="#c04848" stroke-width="0.9" />
<line x1="137.9" y1="1057.59" x2="143.4" y2="1057.59" stroke="#c04848" stroke-width="0.9" />
<circle cx="140.65" cy="1022.6" r="2.6" fill="#6e0000" />
<circle cx="140.65" cy="1046.9" r="2.6" fill="#6e0000" />
<circle cx="140.65" cy="1053.8" r="2.6" fill="#6e0000" />
<rect x="152.5" y="1015.9" width="11.5" height="97.6" fill="#595959" stroke="#2a2a2a" stroke-width="0.6" />
<line x1="158.25" y1="995.98" x2="158.25" y2="1035.82" stroke="#1a1a1a" stroke-width="0.9" />
<line x1="155.5" y1="995.98" x2="161" y2="995.98" stroke="#8a8a8a" stroke-width="0.9" />
<line x1="155.5" y1="1035.82" x2="161" y2="1035.82" stroke="#8a8a8a" stroke-width="0.9" />
<circle cx="158.25" cy="992.7" r="2.6" fill="#000" />
<circle cx="156.05" cy="1026.8" r="2.6" fill="#000" />
<circle cx="160.45" cy="1027.6" r="2.6" fill="#000" />
<rect x="164" y="1003.5" width="11.5" height="110" fill="#C00000" stroke="#7a0000" stroke-width="0.6" />
<line x1="169.75" y1="973.65" x2="169.75" y2="1033.35" stroke="#9a0f0f" stroke-width="0.9" />
<line x1="167" y1="973.65" x2="172.5" y2="973.65" stroke="#c04848" stroke-width="0.9" />
<line x1="167" y1="1033.35" x2="172.5" y2="1033.35" stroke="#c04848" stroke-width="0.9" />
<circle cx="169.75" cy="981.9" r="2.6" fill="#6e0000" />
<circle cx="169.75" cy="990.6" r="2.6" fill="#6e0000" />
<circle cx="169.75" cy="1037.4" r="2.6" fill="#6e0000" />
<rect x="181.6" y="960" width="11.5" height="153.5" fill="#595959" stroke="#2a2a2a" stroke-width="0.6" />
<line x1="187.35" y1="928.7" x2="187.35" y2="991.3" stroke="#1a1a1a" stroke-width="0.9" />
<line x1="184.6" y1="928.7" x2="190.1" y2="928.7" stroke="#8a8a8a" stroke-width="0.9" />
<line x1="184.6" y1="991.3" x2="190.1" y2="991.3" stroke="#8a8a8a" stroke-width="0.9" />
<circle cx="187.35" cy="933" r="2.6" fill="#000" />
<circle cx="187.35" cy="953.1" r="2.6" fill="#000" />
<circle cx="187.35" cy="994.4" r="2.6" fill="#000" />
<rect x="193.1" y="972.4" width="11.5" height="141.1" fill="#C00000" stroke="#7a0000" stroke-width="0.6" />
<line x1="198.85" y1="943.12" x2="198.85" y2="1001.68" stroke="#9a0f0f" stroke-width="0.9" />
<line x1="196.1" y1="943.12" x2="201.6" y2="943.12" stroke="#c04848" stroke-width="0.9" />
<line x1="196.1" y1="1001.68" x2="201.6" y2="1001.68" stroke="#c04848" stroke-width="0.9" />
<circle cx="198.85" cy="946.8" r="2.6" fill="#6e0000" />
<circle cx="198.85" cy="965.5" r="2.6" fill="#6e0000" />
<circle cx="198.85" cy="1004.2" r="2.6" fill="#6e0000" />
<rect x="210.7" y="1027.5" width="11.5" height="86" fill="#595959" stroke="#2a2a2a" stroke-width="0.6" />
<line x1="216.45" y1="1017.5" x2="216.45" y2="1037.5" stroke="#1a1a1a" stroke-width="0.9" />
<line x1="213.7" y1="1017.5" x2="219.2" y2="1017.5" stroke="#8a8a8a" stroke-width="0.9" />
<line x1="213.7" y1="1037.5" x2="219.2" y2="1037.5" stroke="#8a8a8a" stroke-width="0.9" />
<circle cx="216.45" cy="1015.9" r="2.6" fill="#000" />
<circle cx="214.25" cy="1032.3" r="2.6" fill="#000" />
<circle cx="218.65" cy="1034" r="2.6" fill="#000" />
<rect x="222.2" y="1038" width="11.5" height="75.5" fill="#C00000" stroke="#7a0000" stroke-width="0.6" />
<line x1="227.95" y1="1016.46" x2="227.95" y2="1059.54" stroke="#9a0f0f" stroke-width="0.9" />
<line x1="225.2" y1="1016.46" x2="230.7" y2="1016.46" stroke="#c04848" stroke-width="0.9" />
<line x1="225.2" y1="1059.54" x2="230.7" y2="1059.54" stroke="#c04848" stroke-width="0.9" />
<circle cx="227.95" cy="1013.3" r="2.6" fill="#6e0000" />
<circle cx="225.75" cy="1047.8" r="2.6" fill="#6e0000" />
<circle cx="230.15" cy="1052.9" r="2.6" fill="#6e0000" />
<text x="171.12" y="971.2" font-size="25" text-anchor="middle" transform="rotate(-90 171.12 971.2)" textLength="29.1" lengthAdjust="spacingAndGlyphs" stroke="#000" stroke-width="0.45">***</text>
<text x="200.23" y="910.1" font-size="25" text-anchor="middle" transform="rotate(-90 200.23 910.1)" textLength="30.7" lengthAdjust="spacingAndGlyphs" stroke="#000" stroke-width="0.45">***</text>
<text x="229.32" y="1001.75" font-size="25" text-anchor="middle" transform="rotate(-90 229.32 1001.75)" textLength="19.6" lengthAdjust="spacingAndGlyphs" stroke="#000" stroke-width="0.45">**</text>
<rect x="93.8" y="1117.3" width="12" height="7" fill="#0070C0" />
<rect x="123" y="1117.3" width="23.8" height="7" fill="#0070C0" />
<rect x="152.1" y="1117.3" width="23.8" height="7" fill="#FF6600" />
<rect x="181.2" y="1117.3" width="23.8" height="7" fill="#0070C0" />
<rect x="210.3" y="1117.3" width="23.8" height="7" fill="#FF6600" />
<rect x="305.7" y="890.7" width="145.5" height="222.8" fill="none" stroke="#bdbdbd" stroke-width="1" />
<line x1="305.7" y1="890.7" x2="305.7" y2="1113.5" stroke="#d6d6d6" stroke-width="1.8" />
<line x1="300.7" y1="890.7" x2="305.7" y2="890.7" stroke="#a8a8a8" stroke-width="0.9" />
<text x="299.56" y="900.4" font-size="27.5" text-anchor="end">18</text>
<line x1="300.7" y1="1002.1" x2="305.7" y2="1002.1" stroke="#a8a8a8" stroke-width="0.9" />
<text x="299.67" y="1011.8" font-size="27.5" text-anchor="end">9</text>
<line x1="300.7" y1="1113.5" x2="305.7" y2="1113.5" stroke="#a8a8a8" stroke-width="0.9" />
<text x="299.39" y="1123.2" font-size="27.5" text-anchor="end">0</text>
<text x="310.43" y="920.8" font-size="29" font-style="italic" fill="#595959" textLength="51.68" lengthAdjust="spacingAndGlyphs">Sp7</text>
<rect x="308.8" y="1103.7" width="11.5" height="9.8" fill="#595959" stroke="#2a2a2a" stroke-width="0.6" />
<line x1="314.55" y1="1099.36" x2="314.55" y2="1108.04" stroke="#1a1a1a" stroke-width="0.9" />
<line x1="311.8" y1="1099.36" x2="317.3" y2="1099.36" stroke="#8a8a8a" stroke-width="0.9" />
<line x1="311.8" y1="1108.04" x2="317.3" y2="1108.04" stroke="#8a8a8a" stroke-width="0.9" />
<circle cx="310.15" cy="1097.7" r="2.6" fill="#000" />
<circle cx="314.55" cy="1102.8" r="2.6" fill="#000" />
<circle cx="318.95" cy="1102.8" r="2.6" fill="#000" />
<rect x="337.9" y="1066.2" width="11.5" height="47.3" fill="#595959" stroke="#2a2a2a" stroke-width="0.6" />
<line x1="343.65" y1="1047.79" x2="343.65" y2="1084.61" stroke="#1a1a1a" stroke-width="0.9" />
<line x1="340.9" y1="1047.79" x2="346.4" y2="1047.79" stroke="#8a8a8a" stroke-width="0.9" />
<line x1="340.9" y1="1084.61" x2="346.4" y2="1084.61" stroke="#8a8a8a" stroke-width="0.9" />
<circle cx="343.65" cy="1044.8" r="2.6" fill="#000" />
<circle cx="341.45" cy="1075.3" r="2.6" fill="#000" />
<circle cx="345.85" cy="1077.9" r="2.6" fill="#000" />
<rect x="349.4" y="1075.6" width="11.5" height="37.9" fill="#C00000" stroke="#7a0000" stroke-width="0.6" />
<line x1="355.15" y1="1058.84" x2="355.15" y2="1092.36" stroke="#9a0f0f" stroke-width="0.9" />
<line x1="352.4" y1="1058.84" x2="357.9" y2="1058.84" stroke="#c04848" stroke-width="0.9" />
<line x1="352.4" y1="1092.36" x2="357.9" y2="1092.36" stroke="#c04848" stroke-width="0.9" />
<circle cx="352.95" cy="1063.8" r="2.6" fill="#6e0000" />
<circle cx="357.35" cy="1068" r="2.6" fill="#6e0000" />
<circle cx="355.15" cy="1094.7" r="2.6" fill="#6e0000" />
<rect x="367" y="1001.3" width="11.5" height="112.2" fill="#595959" stroke="#2a2a2a" stroke-width="0.6" />
<line x1="372.75" y1="985.76" x2="372.75" y2="1016.84" stroke="#1a1a1a" stroke-width="0.9" />
<line x1="370" y1="985.76" x2="375.5" y2="985.76" stroke="#8a8a8a" stroke-width="0.9" />
<line x1="370" y1="1016.84" x2="375.5" y2="1016.84" stroke="#8a8a8a" stroke-width="0.9" />
<circle cx="372.75" cy="983.2" r="2.6" fill="#000" />
<circle cx="370.55" cy="1007.7" r="2.6" fill="#000" />
<circle cx="374.95" cy="1012" r="2.6" fill="#000" />
<rect x="378.5" y="1023.7" width="11.5" height="89.8" fill="#C00000" stroke="#7a0000" stroke-width="0.6" />
<line x1="384.25" y1="1014.51" x2="384.25" y2="1032.89" stroke="#9a0f0f" stroke-width="0.9" />
<line x1="381.5" y1="1014.51" x2="387" y2="1014.51" stroke="#c04848" stroke-width="0.9" />
<line x1="381.5" y1="1032.89" x2="387" y2="1032.89" stroke="#c04848" stroke-width="0.9" />
<circle cx="384.25" cy="1014.5" r="2.6" fill="#6e0000" />
<circle cx="384.25" cy="1022.5" r="2.6" fill="#6e0000" />
<circle cx="384.25" cy="1032.8" r="2.6" fill="#6e0000" />
<rect x="396.1" y="1056.9" width="11.5" height="56.6" fill="#595959" stroke="#2a2a2a" stroke-width="0.6" />
<line x1="401.85" y1="1048.17" x2="401.85" y2="1065.63" stroke="#1a1a1a" stroke-width="0.9" />
<line x1="399.1" y1="1048.17" x2="404.6" y2="1048.17" stroke="#8a8a8a" stroke-width="0.9" />
<line x1="399.1" y1="1065.63" x2="404.6" y2="1065.63" stroke="#8a8a8a" stroke-width="0.9" />
<circle cx="401.85" cy="1047.4" r="2.6" fill="#000" />
<circle cx="399.65" cy="1059.3" r="2.6" fill="#000" />
<circle cx="404.05" cy="1064.4" r="2.6" fill="#000" />
<rect x="407.6" y="1056.7" width="11.5" height="56.8" fill="#C00000" stroke="#7a0000" stroke-width="0.6" />
<line x1="413.35" y1="1043.06" x2="413.35" y2="1070.34" stroke="#9a0f0f" stroke-width="0.9" />
<line x1="410.6" y1="1043.06" x2="416.1" y2="1043.06" stroke="#c04848" stroke-width="0.9" />
<line x1="410.6" y1="1070.34" x2="416.1" y2="1070.34" stroke="#c04848" stroke-width="0.9" />
<circle cx="413.35" cy="1040.5" r="2.6" fill="#6e0000" />
<circle cx="411.15" cy="1064.1" r="2.6" fill="#6e0000" />
<circle cx="415.55" cy="1064.1" r="2.6" fill="#6e0000" />
<rect x="425.2" y="951.1" width="11.5" height="162.4" fill="#595959" stroke="#2a2a2a" stroke-width="0.6" />
<line x1="430.95" y1="931.82" x2="430.95" y2="970.38" stroke="#1a1a1a" stroke-width="0.9" />
<line x1="428.2" y1="931.82" x2="433.7" y2="931.82" stroke="#8a8a8a" stroke-width="0.9" />
<line x1="428.2" y1="970.38" x2="433.7" y2="970.38" stroke="#8a8a8a" stroke-width="0.9" />
<circle cx="430.95" cy="936.8" r="2.6" fill="#000" />
<circle cx="430.95" cy="943.1" r="2.6" fill="#000" />
<circle cx="430.95" cy="972.9" r="2.6" fill="#000" />
<rect x="436.7" y="1005.3" width="11.5" height="108.2" fill="#C00000" stroke="#7a0000" stroke-width="0.6" />
<line x1="442.45" y1="990.82" x2="442.45" y2="1019.78" stroke="#9a0f0f" stroke-width="0.9" />
<line x1="439.7" y1="990.82" x2="445.2" y2="990.82" stroke="#c04848" stroke-width="0.9" />
<line x1="439.7" y1="1019.78" x2="445.2" y2="1019.78" stroke="#c04848" stroke-width="0.9" />
<circle cx="442.45" cy="990.1" r="2.6" fill="#6e0000" />
<circle cx="442.45" cy="1006" r="2.6" fill="#6e0000" />
<circle cx="442.45" cy="1019" r="2.6" fill="#6e0000" />
<text x="356.53" y="1034.85" font-size="25" text-anchor="middle" transform="rotate(-90 356.53 1034.85)" textLength="10.2" lengthAdjust="spacingAndGlyphs" stroke="#000" stroke-width="0.45">*</text>
<text x="385.62" y="960.85" font-size="25" text-anchor="middle" transform="rotate(-90 385.62 960.85)" textLength="30.8" lengthAdjust="spacingAndGlyphs" stroke="#000" stroke-width="0.45">***</text>
<text x="414.73" y="1030.5" font-size="25" text-anchor="middle" transform="rotate(-90 414.73 1030.5)" textLength="20.5" lengthAdjust="spacingAndGlyphs" stroke="#000" stroke-width="0.45">**</text>
<text x="443.83" y="910.95" font-size="25" text-anchor="middle" transform="rotate(-90 443.83 910.95)" textLength="30.8" lengthAdjust="spacingAndGlyphs" stroke="#000" stroke-width="0.45">***</text>
<text x="455.33" y="962.2" font-size="25" text-anchor="middle" transform="rotate(-90 455.33 962.2)" textLength="29.9" lengthAdjust="spacingAndGlyphs" stroke="#000" stroke-width="0.45">***</text>
<path d="M437.8 931.3 L444.7 931.3 L444.7 938.5" stroke="#777" stroke-width="1" fill="none" />
<rect x="308.3" y="1117.3" width="12" height="7" fill="#0070C0" />
<rect x="337.5" y="1117.3" width="23.8" height="7" fill="#0070C0" />
<rect x="366.6" y="1117.3" width="23.8" height="7" fill="#FF6600" />
<rect x="395.7" y="1117.3" width="23.8" height="7" fill="#0070C0" />
<rect x="424.8" y="1117.3" width="23.8" height="7" fill="#FF6600" />
<rect x="520.4" y="890.7" width="145.5" height="222.8" fill="none" stroke="#bdbdbd" stroke-width="1" />
<line x1="520.4" y1="890.7" x2="520.4" y2="1113.5" stroke="#d6d6d6" stroke-width="1.8" />
<line x1="515.4" y1="890.7" x2="520.4" y2="890.7" stroke="#a8a8a8" stroke-width="0.9" />
<text x="514.13" y="900.4" font-size="27.5" text-anchor="end">20</text>
<line x1="515.4" y1="1002.1" x2="520.4" y2="1002.1" stroke="#a8a8a8" stroke-width="0.9" />
<text x="514.13" y="1011.8" font-size="27.5" text-anchor="end">10</text>
<line x1="515.4" y1="1113.5" x2="520.4" y2="1113.5" stroke="#a8a8a8" stroke-width="0.9" />
<text x="514.09" y="1123.2" font-size="27.5" text-anchor="end">0</text>
<text x="527.94" y="920.8" font-size="29" font-style="italic" fill="#595959" textLength="77.69" lengthAdjust="spacingAndGlyphs">Mef2c</text>
<rect x="523.5" y="1103.7" width="11.5" height="9.8" fill="#595959" stroke="#2a2a2a" stroke-width="0.6" />
<line x1="529.25" y1="1100.66" x2="529.25" y2="1106.74" stroke="#1a1a1a" stroke-width="0.9" />
<line x1="526.5" y1="1100.66" x2="532" y2="1100.66" stroke="#8a8a8a" stroke-width="0.9" />
<line x1="526.5" y1="1106.74" x2="532" y2="1106.74" stroke="#8a8a8a" stroke-width="0.9" />
<circle cx="524.85" cy="1099.4" r="2.6" fill="#000" />
<circle cx="529.25" cy="1103.7" r="2.6" fill="#000" />
<circle cx="533.65" cy="1103.7" r="2.6" fill="#000" />
<rect x="552.6" y="1057.2" width="11.5" height="56.3" fill="#595959" stroke="#2a2a2a" stroke-width="0.6" />
<line x1="558.35" y1="1048.71" x2="558.35" y2="1065.69" stroke="#1a1a1a" stroke-width="0.9" />
<line x1="555.6" y1="1048.71" x2="561.1" y2="1048.71" stroke="#8a8a8a" stroke-width="0.9" />
<line x1="555.6" y1="1065.69" x2="561.1" y2="1065.69" stroke="#8a8a8a" stroke-width="0.9" />
<circle cx="556.15" cy="1051.2" r="2.6" fill="#000" />
<circle cx="560.55" cy="1052" r="2.6" fill="#000" />
<circle cx="558.35" cy="1066.2" r="2.6" fill="#000" />
<rect x="564.1" y="1056.4" width="11.5" height="57.1" fill="#C00000" stroke="#7a0000" stroke-width="0.6" />
<line x1="569.85" y1="1043.98" x2="569.85" y2="1068.82" stroke="#9a0f0f" stroke-width="0.9" />
<line x1="567.1" y1="1043.98" x2="572.6" y2="1043.98" stroke="#c04848" stroke-width="0.9" />
<line x1="567.1" y1="1068.82" x2="572.6" y2="1068.82" stroke="#c04848" stroke-width="0.9" />
<circle cx="569.85" cy="1041.7" r="2.6" fill="#6e0000" />
<circle cx="567.65" cy="1063.2" r="2.6" fill="#6e0000" />
<circle cx="572.05" cy="1063.2" r="2.6" fill="#6e0000" />
<rect x="581.7" y="1043.5" width="11.5" height="70" fill="#595959" stroke="#2a2a2a" stroke-width="0.6" />
<line x1="587.45" y1="1036.48" x2="587.45" y2="1050.52" stroke="#1a1a1a" stroke-width="0.9" />
<line x1="584.7" y1="1036.48" x2="590.2" y2="1036.48" stroke="#8a8a8a" stroke-width="0.9" />
<line x1="584.7" y1="1050.52" x2="590.2" y2="1050.52" stroke="#8a8a8a" stroke-width="0.9" />
<circle cx="585.25" cy="1036.9" r="2.6" fill="#000" />
<circle cx="589.65" cy="1041.7" r="2.6" fill="#000" />
<circle cx="587.45" cy="1050.7" r="2.6" fill="#000" />
<rect x="593.2" y="1055.2" width="11.5" height="58.3" fill="#C00000" stroke="#7a0000" stroke-width="0.6" />
<line x1="598.95" y1="1043.49" x2="598.95" y2="1066.91" stroke="#9a0f0f" stroke-width="0.9" />
<line x1="596.2" y1="1043.49" x2="601.7" y2="1043.49" stroke="#c04848" stroke-width="0.9" />
<line x1="596.2" y1="1066.91" x2="601.7" y2="1066.91" stroke="#c04848" stroke-width="0.9" />
<circle cx="598.95" cy="1040.9" r="2.6" fill="#6e0000" />
<circle cx="596.75" cy="1060.7" r="2.6" fill="#6e0000" />
<circle cx="601.15" cy="1061.5" r="2.6" fill="#6e0000" />
<rect x="610.8" y="1068.1" width="11.5" height="45.4" fill="#595959" stroke="#2a2a2a" stroke-width="0.6" />
<line x1="616.55" y1="1059.71" x2="616.55" y2="1076.49" stroke="#1a1a1a" stroke-width="0.9" />
<line x1="613.8" y1="1059.71" x2="619.3" y2="1059.71" stroke="#8a8a8a" stroke-width="0.9" />
<line x1="613.8" y1="1076.49" x2="619.3" y2="1076.49" stroke="#8a8a8a" stroke-width="0.9" />
<circle cx="614.35" cy="1060.7" r="2.6" fill="#000" />
<circle cx="618.75" cy="1065.5" r="2.6" fill="#000" />
<circle cx="616.55" cy="1077" r="2.6" fill="#000" />
<rect x="622.3" y="1050.7" width="11.5" height="62.8" fill="#C00000" stroke="#7a0000" stroke-width="0.6" />
<line x1="628.05" y1="1041.21" x2="628.05" y2="1060.19" stroke="#9a0f0f" stroke-width="0.9" />
<line x1="625.3" y1="1041.21" x2="630.8" y2="1041.21" stroke="#c04848" stroke-width="0.9" />
<line x1="625.3" y1="1060.19" x2="630.8" y2="1060.19" stroke="#c04848" stroke-width="0.9" />
<circle cx="625.85" cy="1042.6" r="2.6" fill="#6e0000" />
<circle cx="630.25" cy="1046.9" r="2.6" fill="#6e0000" />
<circle cx="628.05" cy="1060.7" r="2.6" fill="#6e0000" />
<rect x="639.9" y="967.2" width="11.5" height="146.3" fill="#595959" stroke="#2a2a2a" stroke-width="0.6" />
<line x1="645.65" y1="944.06" x2="645.65" y2="990.34" stroke="#1a1a1a" stroke-width="0.9" />
<line x1="642.9" y1="944.06" x2="648.4" y2="944.06" stroke="#8a8a8a" stroke-width="0.9" />
<line x1="642.9" y1="990.34" x2="648.4" y2="990.34" stroke="#8a8a8a" stroke-width="0.9" />
<circle cx="645.65" cy="941.9" r="2.6" fill="#000" />
<circle cx="645.65" cy="971.5" r="2.6" fill="#000" />
<circle cx="645.65" cy="987.5" r="2.6" fill="#000" />
<rect x="651.4" y="997.7" width="11.5" height="115.8" fill="#C00000" stroke="#7a0000" stroke-width="0.6" />
<line x1="657.15" y1="970.14" x2="657.15" y2="1025.26" stroke="#9a0f0f" stroke-width="0.9" />
<line x1="654.4" y1="970.14" x2="659.9" y2="970.14" stroke="#c04848" stroke-width="0.9" />
<line x1="654.4" y1="1025.26" x2="659.9" y2="1025.26" stroke="#c04848" stroke-width="0.9" />
<circle cx="657.15" cy="972.6" r="2.6" fill="#6e0000" />
<circle cx="657.15" cy="992.7" r="2.6" fill="#6e0000" />
<circle cx="657.15" cy="1027.1" r="2.6" fill="#6e0000" />
<text x="571.23" y="1028.4" font-size="25" text-anchor="middle" transform="rotate(-90 571.23 1028.4)" textLength="19.5" lengthAdjust="spacingAndGlyphs" stroke="#000" stroke-width="0.45">**</text>
<text x="600.33" y="1009.9" font-size="25" text-anchor="middle" transform="rotate(-90 600.33 1009.9)" textLength="30.7" lengthAdjust="spacingAndGlyphs" stroke="#000" stroke-width="0.45">***</text>
<text x="629.42" y="1045.6" font-size="25" text-anchor="middle" transform="rotate(-90 629.42 1045.6)" textLength="9.3" lengthAdjust="spacingAndGlyphs" stroke="#000" stroke-width="0.45">*</text>
<text x="658.52" y="914.4" font-size="25" text-anchor="middle" transform="rotate(-90 658.52 914.4)" textLength="30.7" lengthAdjust="spacingAndGlyphs" stroke="#000" stroke-width="0.45">***</text>
<rect x="523" y="1117.3" width="12" height="7" fill="#0070C0" />
<rect x="552.2" y="1117.3" width="23.8" height="7" fill="#0070C0" />
<rect x="581.3" y="1117.3" width="23.8" height="7" fill="#FF6600" />
<rect x="610.4" y="1117.3" width="23.8" height="7" fill="#0070C0" />
<rect x="639.5" y="1117.3" width="23.8" height="7" fill="#FF6600" />
<rect x="735.4" y="890.7" width="145.5" height="222.8" fill="none" stroke="#bdbdbd" stroke-width="1" />
<line x1="735.4" y1="890.7" x2="735.4" y2="1113.5" stroke="#d6d6d6" stroke-width="1.8" />
<line x1="730.4" y1="890.7" x2="735.4" y2="890.7" stroke="#a8a8a8" stroke-width="0.9" />
<text x="729.16" y="900.4" font-size="27.5" text-anchor="end">100</text>
<line x1="730.4" y1="1002.1" x2="735.4" y2="1002.1" stroke="#a8a8a8" stroke-width="0.9" />
<text x="729.13" y="1011.8" font-size="27.5" text-anchor="end">50</text>
<line x1="730.4" y1="1113.5" x2="735.4" y2="1113.5" stroke="#a8a8a8" stroke-width="0.9" />
<text x="729.09" y="1123.2" font-size="27.5" text-anchor="end">0</text>
<text x="741.93" y="920.8" font-size="29" font-style="italic" fill="#595959" textLength="57.83" lengthAdjust="spacingAndGlyphs">Dlx3</text>
<rect x="738.5" y="1111.4" width="11.5" height="2.1" fill="#595959" stroke="#2a2a2a" stroke-width="0.6" />
<circle cx="739.85" cy="1110.6" r="2.6" fill="#000" />
<circle cx="744.25" cy="1110.6" r="2.6" fill="#000" />
<circle cx="748.65" cy="1110.6" r="2.6" fill="#000" />
<rect x="767.6" y="1102.8" width="11.5" height="10.7" fill="#595959" stroke="#2a2a2a" stroke-width="0.6" />
<circle cx="768.95" cy="1102" r="2.6" fill="#000" />
<circle cx="773.35" cy="1102.8" r="2.6" fill="#000" />
<circle cx="777.75" cy="1103.7" r="2.6" fill="#000" />
<rect x="779.1" y="1104.5" width="11.5" height="9" fill="#C00000" stroke="#7a0000" stroke-width="0.6" />
<line x1="784.85" y1="1101.03" x2="784.85" y2="1107.97" stroke="#9a0f0f" stroke-width="0.9" />
<line x1="782.1" y1="1101.03" x2="787.6" y2="1101.03" stroke="#c04848" stroke-width="0.9" />
<line x1="782.1" y1="1107.97" x2="787.6" y2="1107.97" stroke="#c04848" stroke-width="0.9" />
<circle cx="780.45" cy="1101.1" r="2.6" fill="#6e0000" />
<circle cx="784.85" cy="1105" r="2.6" fill="#6e0000" />
<circle cx="789.25" cy="1108" r="2.6" fill="#6e0000" />
<rect x="796.7" y="1089.6" width="11.5" height="23.9" fill="#595959" stroke="#2a2a2a" stroke-width="0.6" />
<line x1="802.45" y1="1086.4" x2="802.45" y2="1092.8" stroke="#1a1a1a" stroke-width="0.9" />
<line x1="799.7" y1="1086.4" x2="805.2" y2="1086.4" stroke="#8a8a8a" stroke-width="0.9" />
<line x1="799.7" y1="1092.8" x2="805.2" y2="1092.8" stroke="#8a8a8a" stroke-width="0.9" />
<circle cx="798.05" cy="1085.1" r="2.6" fill="#000" />
<circle cx="802.45" cy="1089.9" r="2.6" fill="#000" />
<circle cx="806.85" cy="1089.9" r="2.6" fill="#000" />
<rect x="808.2" y="1094.2" width="11.5" height="19.3" fill="#C00000" stroke="#7a0000" stroke-width="0.6" />
<line x1="813.95" y1="1087.02" x2="813.95" y2="1101.38" stroke="#9a0f0f" stroke-width="0.9" />
<line x1="811.2" y1="1087.02" x2="816.7" y2="1087.02" stroke="#c04848" stroke-width="0.9" />
<line x1="811.2" y1="1101.38" x2="816.7" y2="1101.38" stroke="#c04848" stroke-width="0.9" />
<circle cx="811.75" cy="1089" r="2.6" fill="#6e0000" />
<circle cx="816.15" cy="1090.3" r="2.6" fill="#6e0000" />
<circle cx="813.95" cy="1102" r="2.6" fill="#6e0000" />
<rect x="825.8" y="1097.1" width="11.5" height="16.4" fill="#595959" stroke="#2a2a2a" stroke-width="0.6" />
<line x1="831.55" y1="1093.6" x2="831.55" y2="1100.6" stroke="#1a1a1a" stroke-width="0.9" />
<line x1="828.8" y1="1093.6" x2="834.3" y2="1093.6" stroke="#8a8a8a" stroke-width="0.9" />
<line x1="828.8" y1="1100.6" x2="834.3" y2="1100.6" stroke="#8a8a8a" stroke-width="0.9" />
<circle cx="827.15" cy="1092.5" r="2.6" fill="#000" />
<circle cx="831.55" cy="1095.9" r="2.6" fill="#000" />
<circle cx="835.95" cy="1098.5" r="2.6" fill="#000" />
<rect x="837.3" y="1097.1" width="11.5" height="16.4" fill="#C00000" stroke="#7a0000" stroke-width="0.6" />
<line x1="843.05" y1="1090.33" x2="843.05" y2="1103.87" stroke="#9a0f0f" stroke-width="0.9" />
<line x1="840.3" y1="1090.33" x2="845.8" y2="1090.33" stroke="#c04848" stroke-width="0.9" />
<line x1="840.3" y1="1103.87" x2="845.8" y2="1103.87" stroke="#c04848" stroke-width="0.9" />
<circle cx="843.05" cy="1089" r="2.6" fill="#6e0000" />
<circle cx="840.85" cy="1098.5" r="2.6" fill="#6e0000" />
<circle cx="845.25" cy="1102" r="2.6" fill="#6e0000" />
<rect x="854.9" y="957.4" width="11.5" height="156.1" fill="#595959" stroke="#2a2a2a" stroke-width="0.6" />
<line x1="860.65" y1="933.19" x2="860.65" y2="981.61" stroke="#1a1a1a" stroke-width="0.9" />
<line x1="857.9" y1="933.19" x2="863.4" y2="933.19" stroke="#8a8a8a" stroke-width="0.9" />
<line x1="857.9" y1="981.61" x2="863.4" y2="981.61" stroke="#8a8a8a" stroke-width="0.9" />
<circle cx="860.65" cy="929" r="2.6" fill="#000" />
<circle cx="858.45" cy="968.6" r="2.6" fill="#000" />
<circle cx="862.85" cy="972.9" r="2.6" fill="#000" />
<rect x="866.4" y="989.6" width="11.5" height="123.9" fill="#C00000" stroke="#7a0000" stroke-width="0.6" />
<line x1="872.15" y1="966.05" x2="872.15" y2="1013.15" stroke="#9a0f0f" stroke-width="0.9" />
<line x1="869.4" y1="966.05" x2="874.9" y2="966.05" stroke="#c04848" stroke-width="0.9" />
<line x1="869.4" y1="1013.15" x2="874.9" y2="1013.15" stroke="#c04848" stroke-width="0.9" />
<circle cx="872.15" cy="965.7" r="2.6" fill="#6e0000" />
<circle cx="872.15" cy="989.3" r="2.6" fill="#6e0000" />
<circle cx="872.15" cy="1012.8" r="2.6" fill="#6e0000" />
<text x="873.52" y="907.55" font-size="25" text-anchor="middle" transform="rotate(-90 873.52 907.55)" textLength="30.8" lengthAdjust="spacingAndGlyphs" stroke="#000" stroke-width="0.45">***</text>
<text x="885.02" y="952.7" font-size="25" text-anchor="middle" transform="rotate(-90 885.02 952.7)" textLength="19.5" lengthAdjust="spacingAndGlyphs" stroke="#000" stroke-width="0.45">**</text>
<path d="M868 932.1 L874.4 932.1 L874.4 940.2" stroke="#777" stroke-width="1" fill="none" />
<rect x="738" y="1117.3" width="12" height="7" fill="#0070C0" />
<rect x="767.2" y="1117.3" width="23.8" height="7" fill="#0070C0" />
<rect x="796.3" y="1117.3" width="23.8" height="7" fill="#FF6600" />
<rect x="825.4" y="1117.3" width="23.8" height="7" fill="#0070C0" />
<rect x="854.5" y="1117.3" width="23.8" height="7" fill="#FF6600" />
<rect x="950.4" y="890.7" width="145.5" height="222.8" fill="none" stroke="#bdbdbd" stroke-width="1" />
<line x1="950.4" y1="890.7" x2="950.4" y2="1113.5" stroke="#d6d6d6" stroke-width="1.8" />
<line x1="945.4" y1="890.7" x2="950.4" y2="890.7" stroke="#a8a8a8" stroke-width="0.9" />
<text x="944.13" y="900.4" font-size="27.5" text-anchor="end">30</text>
<line x1="945.4" y1="1002.1" x2="950.4" y2="1002.1" stroke="#a8a8a8" stroke-width="0.9" />
<text x="944.26" y="1011.8" font-size="27.5" text-anchor="end">15</text>
<line x1="945.4" y1="1113.5" x2="950.4" y2="1113.5" stroke="#a8a8a8" stroke-width="0.9" />
<text x="944.09" y="1123.2" font-size="27.5" text-anchor="end">0</text>
<text x="956.44" y="920.8" font-size="29" font-style="italic" fill="#595959" textLength="90.91" lengthAdjust="spacingAndGlyphs">Smpd3</text>
<rect x="953.5" y="1106.3" width="11.5" height="7.2" fill="#595959" stroke="#2a2a2a" stroke-width="0.6" />
<line x1="959.25" y1="1104.01" x2="959.25" y2="1108.59" stroke="#1a1a1a" stroke-width="0.9" />
<line x1="956.5" y1="1104.01" x2="962" y2="1104.01" stroke="#8a8a8a" stroke-width="0.9" />
<line x1="956.5" y1="1108.59" x2="962" y2="1108.59" stroke="#8a8a8a" stroke-width="0.9" />
<circle cx="954.85" cy="1103.7" r="2.6" fill="#000" />
<circle cx="959.25" cy="1105.4" r="2.6" fill="#000" />
<circle cx="963.65" cy="1108" r="2.6" fill="#000" />
<rect x="982.6" y="1087.3" width="11.5" height="26.2" fill="#595959" stroke="#2a2a2a" stroke-width="0.6" />
<line x1="988.35" y1="1080.4" x2="988.35" y2="1094.2" stroke="#1a1a1a" stroke-width="0.9" />
<line x1="985.6" y1="1080.4" x2="991.1" y2="1080.4" stroke="#8a8a8a" stroke-width="0.9" />
<line x1="985.6" y1="1094.2" x2="991.1" y2="1094.2" stroke="#8a8a8a" stroke-width="0.9" />
<circle cx="988.35" cy="1078.7" r="2.6" fill="#000" />
<circle cx="986.15" cy="1090.3" r="2.6" fill="#000" />
<circle cx="990.55" cy="1090.8" r="2.6" fill="#000" />
<rect x="994.1" y="1082.2" width="11.5" height="31.3" fill="#C00000" stroke="#7a0000" stroke-width="0.6" />
<line x1="999.85" y1="1072.42" x2="999.85" y2="1091.98" stroke="#9a0f0f" stroke-width="0.9" />
<line x1="997.1" y1="1072.42" x2="1002.6" y2="1072.42" stroke="#c04848" stroke-width="0.9" />
<line x1="997.1" y1="1091.98" x2="1002.6" y2="1091.98" stroke="#c04848" stroke-width="0.9" />
<circle cx="997.65" cy="1074.1" r="2.6" fill="#6e0000" />
<circle cx="1002.05" cy="1079.2" r="2.6" fill="#6e0000" />
<circle cx="999.85" cy="1093" r="2.6" fill="#6e0000" />
<rect x="1011.7" y="1073.2" width="11.5" height="40.3" fill="#595959" stroke="#2a2a2a" stroke-width="0.6" />
<line x1="1017.45" y1="1064.23" x2="1017.45" y2="1082.17" stroke="#1a1a1a" stroke-width="0.9" />
<line x1="1014.7" y1="1064.23" x2="1020.2" y2="1064.23" stroke="#8a8a8a" stroke-width="0.9" />
<line x1="1014.7" y1="1082.17" x2="1020.2" y2="1082.17" stroke="#8a8a8a" stroke-width="0.9" />
<circle cx="1017.45" cy="1062.4" r="2.6" fill="#000" />
<circle cx="1015.25" cy="1077.9" r="2.6" fill="#000" />
<circle cx="1019.65" cy="1077.9" r="2.6" fill="#000" />
<rect x="1023.2" y="1060.3" width="11.5" height="53.2" fill="#C00000" stroke="#7a0000" stroke-width="0.6" />
<line x1="1028.95" y1="1046.1" x2="1028.95" y2="1074.5" stroke="#9a0f0f" stroke-width="0.9" />
<line x1="1026.2" y1="1046.1" x2="1031.7" y2="1046.1" stroke="#c04848" stroke-width="0.9" />
<line x1="1026.2" y1="1074.5" x2="1031.7" y2="1074.5" stroke="#c04848" stroke-width="0.9" />
<circle cx="1028.95" cy="1043.8" r="2.6" fill="#6e0000" />
<circle cx="1026.75" cy="1068.4" r="2.6" fill="#6e0000" />
<circle cx="1031.15" cy="1068.4" r="2.6" fill="#6e0000" />
<rect x="1040.8" y="1056.4" width="11.5" height="57.1" fill="#595959" stroke="#2a2a2a" stroke-width="0.6" />
<line x1="1046.55" y1="1034.89" x2="1046.55" y2="1077.91" stroke="#1a1a1a" stroke-width="0.9" />
<line x1="1043.8" y1="1034.89" x2="1049.3" y2="1034.89" stroke="#8a8a8a" stroke-width="0.9" />
<line x1="1043.8" y1="1077.91" x2="1049.3" y2="1077.91" stroke="#8a8a8a" stroke-width="0.9" />
<circle cx="1046.55" cy="1032.8" r="2.6" fill="#000" />
<circle cx="1046.55" cy="1061.5" r="2.6" fill="#000" />
<circle cx="1046.55" cy="1074.9" r="2.6" fill="#000" />
<rect x="1052.3" y="1027.5" width="11.5" height="86" fill="#C00000" stroke="#7a0000" stroke-width="0.6" />
<line x1="1058.05" y1="1013.3" x2="1058.05" y2="1041.7" stroke="#9a0f0f" stroke-width="0.9" />
<line x1="1055.3" y1="1013.3" x2="1060.8" y2="1013.3" stroke="#c04848" stroke-width="0.9" />
<line x1="1055.3" y1="1041.7" x2="1060.8" y2="1041.7" stroke="#c04848" stroke-width="0.9" />
<circle cx="1058.05" cy="1011.1" r="2.6" fill="#6e0000" />
<circle cx="1055.85" cy="1035.7" r="2.6" fill="#6e0000" />
<circle cx="1060.25" cy="1035.7" r="2.6" fill="#6e0000" />
<rect x="1069.9" y="971.5" width="11.5" height="142" fill="#595959" stroke="#2a2a2a" stroke-width="0.6" />
<line x1="1075.65" y1="946.71" x2="1075.65" y2="996.29" stroke="#1a1a1a" stroke-width="0.9" />
<line x1="1072.9" y1="946.71" x2="1078.4" y2="946.71" stroke="#8a8a8a" stroke-width="0.9" />
<line x1="1072.9" y1="996.29" x2="1078.4" y2="996.29" stroke="#8a8a8a" stroke-width="0.9" />
<circle cx="1075.65" cy="949.7" r="2.6" fill="#000" />
<circle cx="1075.65" cy="966" r="2.6" fill="#000" />
<circle cx="1075.65" cy="998.4" r="2.6" fill="#000" />
<rect x="1081.4" y="985" width="11.5" height="128.5" fill="#C00000" stroke="#7a0000" stroke-width="0.6" />
<line x1="1087.15" y1="962.13" x2="1087.15" y2="1007.87" stroke="#9a0f0f" stroke-width="0.9" />
<line x1="1084.4" y1="962.13" x2="1089.9" y2="962.13" stroke="#c04848" stroke-width="0.9" />
<line x1="1084.4" y1="1007.87" x2="1089.9" y2="1007.87" stroke="#c04848" stroke-width="0.9" />
<circle cx="1087.15" cy="958.3" r="2.6" fill="#6e0000" />
<circle cx="1084.95" cy="997.9" r="2.6" fill="#6e0000" />
<circle cx="1089.35" cy="997.9" r="2.6" fill="#6e0000" />
<text x="1059.42" y="1017.2" font-size="25" text-anchor="middle" transform="rotate(-90 1059.42 1017.2)" textLength="19.5" lengthAdjust="spacingAndGlyphs" stroke="#000" stroke-width="0.45">**</text>
<text x="1088.53" y="925.2" font-size="25" text-anchor="middle" transform="rotate(-90 1088.53 925.2)" textLength="29.9" lengthAdjust="spacingAndGlyphs" stroke="#000" stroke-width="0.45">***</text>
<rect x="953" y="1117.3" width="12" height="7" fill="#0070C0" />
<rect x="982.2" y="1117.3" width="23.8" height="7" fill="#0070C0" />
<rect x="1011.3" y="1117.3" width="23.8" height="7" fill="#FF6600" />
<rect x="1040.4" y="1117.3" width="23.8" height="7" fill="#0070C0" />
<rect x="1069.5" y="1117.3" width="23.8" height="7" fill="#FF6600" />
<rect x="1164.8" y="890.7" width="145.5" height="222.8" fill="none" stroke="#bdbdbd" stroke-width="1" />
<line x1="1164.8" y1="890.7" x2="1164.8" y2="1113.5" stroke="#d6d6d6" stroke-width="1.8" />
<line x1="1159.8" y1="890.7" x2="1164.8" y2="890.7" stroke="#a8a8a8" stroke-width="0.9" />
<text x="1158.63" y="900.4" font-size="27.5" text-anchor="end">8</text>
<line x1="1159.8" y1="1002.1" x2="1164.8" y2="1002.1" stroke="#a8a8a8" stroke-width="0.9" />
<text x="1158.36" y="1011.8" font-size="27.5" text-anchor="end">4</text>
<line x1="1159.8" y1="1113.5" x2="1164.8" y2="1113.5" stroke="#a8a8a8" stroke-width="0.9" />
<text x="1158.49" y="1123.2" font-size="27.5" text-anchor="end">0</text>
<text x="1169.21" y="920.8" font-size="29" font-style="italic" fill="#595959" textLength="91.73" lengthAdjust="spacingAndGlyphs">Col1a1</text>
<rect x="1167.9" y="1086" width="11.5" height="27.5" fill="#595959" stroke="#2a2a2a" stroke-width="0.6" />
<line x1="1173.65" y1="1078.34" x2="1173.65" y2="1093.66" stroke="#1a1a1a" stroke-width="0.9" />
<line x1="1170.9" y1="1078.34" x2="1176.4" y2="1078.34" stroke="#8a8a8a" stroke-width="0.9" />
<line x1="1170.9" y1="1093.66" x2="1176.4" y2="1093.66" stroke="#8a8a8a" stroke-width="0.9" />
<circle cx="1171.45" cy="1079.6" r="2.6" fill="#000" />
<circle cx="1175.85" cy="1083" r="2.6" fill="#000" />
<circle cx="1173.65" cy="1094.2" r="2.6" fill="#000" />
<rect x="1197" y="1058.1" width="11.5" height="55.4" fill="#595959" stroke="#2a2a2a" stroke-width="0.6" />
<line x1="1202.75" y1="1052.32" x2="1202.75" y2="1063.88" stroke="#1a1a1a" stroke-width="0.9" />
<line x1="1200" y1="1052.32" x2="1205.5" y2="1052.32" stroke="#8a8a8a" stroke-width="0.9" />
<line x1="1200" y1="1063.88" x2="1205.5" y2="1063.88" stroke="#8a8a8a" stroke-width="0.9" />
<circle cx="1200.55" cy="1053.8" r="2.6" fill="#000" />
<circle cx="1204.95" cy="1054.6" r="2.6" fill="#000" />
<circle cx="1202.75" cy="1064.1" r="2.6" fill="#000" />
<rect x="1208.5" y="1065.5" width="11.5" height="48" fill="#C00000" stroke="#7a0000" stroke-width="0.6" />
<line x1="1214.25" y1="1061.63" x2="1214.25" y2="1069.37" stroke="#9a0f0f" stroke-width="0.9" />
<line x1="1211.5" y1="1061.63" x2="1217" y2="1061.63" stroke="#c04848" stroke-width="0.9" />
<line x1="1211.5" y1="1069.37" x2="1217" y2="1069.37" stroke="#c04848" stroke-width="0.9" />
<circle cx="1214.25" cy="1060.3" r="2.6" fill="#6e0000" />
<circle cx="1212.05" cy="1066.7" r="2.6" fill="#6e0000" />
<circle cx="1216.45" cy="1066.7" r="2.6" fill="#6e0000" />
<rect x="1226.1" y="984.1" width="11.5" height="129.4" fill="#595959" stroke="#2a2a2a" stroke-width="0.6" />
<line x1="1231.85" y1="979.42" x2="1231.85" y2="988.78" stroke="#1a1a1a" stroke-width="0.9" />
<line x1="1229.1" y1="979.42" x2="1234.6" y2="979.42" stroke="#8a8a8a" stroke-width="0.9" />
<line x1="1229.1" y1="988.78" x2="1234.6" y2="988.78" stroke="#8a8a8a" stroke-width="0.9" />
<circle cx="1231.85" cy="978.6" r="2.6" fill="#000" />
<circle cx="1229.65" cy="986.7" r="2.6" fill="#000" />
<circle cx="1234.05" cy="986.7" r="2.6" fill="#000" />
<rect x="1237.6" y="970" width="11.5" height="143.5" fill="#C00000" stroke="#7a0000" stroke-width="0.6" />
<line x1="1243.35" y1="943.93" x2="1243.35" y2="996.07" stroke="#9a0f0f" stroke-width="0.9" />
<line x1="1240.6" y1="943.93" x2="1246.1" y2="943.93" stroke="#c04848" stroke-width="0.9" />
<line x1="1240.6" y1="996.07" x2="1246.1" y2="996.07" stroke="#c04848" stroke-width="0.9" />
<circle cx="1243.35" cy="939.9" r="2.6" fill="#6e0000" />
<circle cx="1241.15" cy="983.2" r="2.6" fill="#6e0000" />
<circle cx="1245.55" cy="986.7" r="2.6" fill="#6e0000" />
<rect x="1255.2" y="1078.4" width="11.5" height="35.1" fill="#595959" stroke="#2a2a2a" stroke-width="0.6" />
<line x1="1260.95" y1="1070.84" x2="1260.95" y2="1085.96" stroke="#1a1a1a" stroke-width="0.9" />
<line x1="1258.2" y1="1070.84" x2="1263.7" y2="1070.84" stroke="#8a8a8a" stroke-width="0.9" />
<line x1="1258.2" y1="1085.96" x2="1263.7" y2="1085.96" stroke="#8a8a8a" stroke-width="0.9" />
<circle cx="1260.95" cy="1071" r="2.6" fill="#000" />
<circle cx="1260.95" cy="1077.9" r="2.6" fill="#000" />
<circle cx="1260.95" cy="1086.1" r="2.6" fill="#000" />
<rect x="1266.7" y="1079.6" width="11.5" height="33.9" fill="#C00000" stroke="#7a0000" stroke-width="0.6" />
<line x1="1272.45" y1="1071.6" x2="1272.45" y2="1087.6" stroke="#9a0f0f" stroke-width="0.9" />
<line x1="1269.7" y1="1071.6" x2="1275.2" y2="1071.6" stroke="#c04848" stroke-width="0.9" />
<line x1="1269.7" y1="1087.6" x2="1275.2" y2="1087.6" stroke="#c04848" stroke-width="0.9" />
<circle cx="1270.25" cy="1074.1" r="2.6" fill="#6e0000" />
<circle cx="1274.65" cy="1075.3" r="2.6" fill="#6e0000" />
<circle cx="1272.45" cy="1088.5" r="2.6" fill="#6e0000" />
<rect x="1284.3" y="1031.9" width="11.5" height="81.6" fill="#595959" stroke="#2a2a2a" stroke-width="0.6" />
<line x1="1290.05" y1="1015.82" x2="1290.05" y2="1047.98" stroke="#1a1a1a" stroke-width="0.9" />
<line x1="1287.3" y1="1015.82" x2="1292.8" y2="1015.82" stroke="#8a8a8a" stroke-width="0.9" />
<line x1="1287.3" y1="1047.98" x2="1292.8" y2="1047.98" stroke="#8a8a8a" stroke-width="0.9" />
<circle cx="1290.05" cy="1016.3" r="2.6" fill="#000" />
<circle cx="1290.05" cy="1029.7" r="2.6" fill="#000" />
<circle cx="1290.05" cy="1048.3" r="2.6" fill="#000" />
<rect x="1295.8" y="1017.6" width="11.5" height="95.9" fill="#C00000" stroke="#7a0000" stroke-width="0.6" />
<line x1="1301.55" y1="979.69" x2="1301.55" y2="1055.51" stroke="#9a0f0f" stroke-width="0.9" />
<line x1="1298.8" y1="979.69" x2="1304.3" y2="979.69" stroke="#c04848" stroke-width="0.9" />
<line x1="1298.8" y1="1055.51" x2="1304.3" y2="1055.51" stroke="#c04848" stroke-width="0.9" />
<circle cx="1301.55" cy="980.7" r="2.6" fill="#6e0000" />
<circle cx="1301.55" cy="1015" r="2.6" fill="#6e0000" />
<circle cx="1301.55" cy="1056.4" r="2.6" fill="#6e0000" />
<text x="1244.72" y="956.55" font-size="25" text-anchor="middle" transform="rotate(-90 1244.72 956.55)" textLength="30.8" lengthAdjust="spacingAndGlyphs" stroke="#000" stroke-width="0.45">***</text>
<text x="1302.92" y="1000.4" font-size="25" text-anchor="middle" transform="rotate(-90 1302.92 1000.4)" textLength="18.7" lengthAdjust="spacingAndGlyphs" stroke="#000" stroke-width="0.45">**</text>
<rect x="1167.4" y="1117.3" width="12" height="7" fill="#0070C0" />
<rect x="1196.6" y="1117.3" width="23.8" height="7" fill="#0070C0" />
<rect x="1225.7" y="1117.3" width="23.8" height="7" fill="#FF6600" />
<rect x="1254.8" y="1117.3" width="23.8" height="7" fill="#0070C0" />
<rect x="1283.9" y="1117.3" width="23.8" height="7" fill="#FF6600" />
<rect x="91.2" y="1152.4" width="145.5" height="221.9" fill="none" stroke="#bdbdbd" stroke-width="1" />
<line x1="91.2" y1="1152.4" x2="91.2" y2="1374.3" stroke="#d6d6d6" stroke-width="1.8" />
<line x1="86.2" y1="1152.4" x2="91.2" y2="1152.4" stroke="#a8a8a8" stroke-width="0.9" />
<text x="84.93" y="1162.1" font-size="27.5" text-anchor="end">80</text>
<line x1="86.2" y1="1263.35" x2="91.2" y2="1263.35" stroke="#a8a8a8" stroke-width="0.9" />
<text x="84.93" y="1273.05" font-size="27.5" text-anchor="end">40</text>
<line x1="86.2" y1="1374.3" x2="91.2" y2="1374.3" stroke="#a8a8a8" stroke-width="0.9" />
<text x="84.89" y="1384" font-size="27.5" text-anchor="end">0</text>
<text x="98.61" y="1181.5" font-size="29" font-style="italic" fill="#595959" textLength="46.96" lengthAdjust="spacingAndGlyphs">Alpl</text>
<rect x="94.3" y="1372.3" width="11.5" height="2" fill="#595959" stroke="#2a2a2a" stroke-width="0.6" />
<circle cx="95.65" cy="1371.4" r="2.6" fill="#000" />
<circle cx="100.05" cy="1372" r="2.6" fill="#000" />
<circle cx="104.45" cy="1372.3" r="2.6" fill="#000" />
<rect x="123.4" y="1355.9" width="11.5" height="18.4" fill="#595959" stroke="#2a2a2a" stroke-width="0.6" />
<line x1="129.15" y1="1349.4" x2="129.15" y2="1362.4" stroke="#1a1a1a" stroke-width="0.9" />
<line x1="126.4" y1="1349.4" x2="131.9" y2="1349.4" stroke="#8a8a8a" stroke-width="0.9" />
<line x1="126.4" y1="1362.4" x2="131.9" y2="1362.4" stroke="#8a8a8a" stroke-width="0.9" />
<circle cx="129.15" cy="1348.2" r="2.6" fill="#000" />
<circle cx="126.95" cy="1358.5" r="2.6" fill="#000" />
<circle cx="131.35" cy="1360.2" r="2.6" fill="#000" />
<rect x="134.9" y="1357.1" width="11.5" height="17.2" fill="#C00000" stroke="#7a0000" stroke-width="0.6" />
<line x1="140.65" y1="1351.6" x2="140.65" y2="1362.6" stroke="#9a0f0f" stroke-width="0.9" />
<line x1="137.9" y1="1351.6" x2="143.4" y2="1351.6" stroke="#c04848" stroke-width="0.9" />
<line x1="137.9" y1="1362.6" x2="143.4" y2="1362.6" stroke="#c04848" stroke-width="0.9" />
<circle cx="136.25" cy="1357.7" r="2.6" fill="#6e0000" />
<circle cx="140.65" cy="1359.4" r="2.6" fill="#6e0000" />
<circle cx="145.05" cy="1364.5" r="2.6" fill="#6e0000" />
<rect x="152.5" y="1294" width="11.5" height="80.3" fill="#595959" stroke="#2a2a2a" stroke-width="0.6" />
<line x1="158.25" y1="1279.19" x2="158.25" y2="1308.81" stroke="#1a1a1a" stroke-width="0.9" />
<line x1="155.5" y1="1279.19" x2="161" y2="1279.19" stroke="#8a8a8a" stroke-width="0.9" />
<line x1="155.5" y1="1308.81" x2="161" y2="1308.81" stroke="#8a8a8a" stroke-width="0.9" />
<circle cx="158.25" cy="1281.1" r="2.6" fill="#000" />
<circle cx="158.25" cy="1290" r="2.6" fill="#000" />
<circle cx="158.25" cy="1310" r="2.6" fill="#000" />
<rect x="164" y="1302.6" width="11.5" height="71.7" fill="#C00000" stroke="#7a0000" stroke-width="0.6" />
<line x1="169.75" y1="1292.3" x2="169.75" y2="1312.9" stroke="#9a0f0f" stroke-width="0.9" />
<line x1="167" y1="1292.3" x2="172.5" y2="1292.3" stroke="#c04848" stroke-width="0.9" />
<line x1="167" y1="1312.9" x2="172.5" y2="1312.9" stroke="#c04848" stroke-width="0.9" />
<circle cx="169.75" cy="1292.3" r="2.6" fill="#6e0000" />
<circle cx="169.75" cy="1302.6" r="2.6" fill="#6e0000" />
<circle cx="169.75" cy="1312.9" r="2.6" fill="#6e0000" />
<rect x="181.6" y="1318.9" width="11.5" height="55.4" fill="#595959" stroke="#2a2a2a" stroke-width="0.6" />
<line x1="187.35" y1="1298.56" x2="187.35" y2="1339.24" stroke="#1a1a1a" stroke-width="0.9" />
<line x1="184.6" y1="1298.56" x2="190.1" y2="1298.56" stroke="#8a8a8a" stroke-width="0.9" />
<line x1="184.6" y1="1339.24" x2="190.1" y2="1339.24" stroke="#8a8a8a" stroke-width="0.9" />
<circle cx="187.35" cy="1295.4" r="2.6" fill="#000" />
<circle cx="185.15" cy="1328.1" r="2.6" fill="#000" />
<circle cx="189.55" cy="1332.7" r="2.6" fill="#000" />
<rect x="193.1" y="1316.4" width="11.5" height="57.9" fill="#C00000" stroke="#7a0000" stroke-width="0.6" />
<line x1="198.85" y1="1302.54" x2="198.85" y2="1330.26" stroke="#9a0f0f" stroke-width="0.9" />
<line x1="196.1" y1="1302.54" x2="201.6" y2="1302.54" stroke="#c04848" stroke-width="0.9" />
<line x1="196.1" y1="1330.26" x2="201.6" y2="1330.26" stroke="#c04848" stroke-width="0.9" />
<circle cx="198.85" cy="1299.7" r="2.6" fill="#6e0000" />
<circle cx="196.65" cy="1323.2" r="2.6" fill="#6e0000" />
<circle cx="201.05" cy="1324.1" r="2.6" fill="#6e0000" />
<rect x="210.7" y="1224.3" width="11.5" height="150" fill="#595959" stroke="#2a2a2a" stroke-width="0.6" />
<line x1="216.45" y1="1202.92" x2="216.45" y2="1245.68" stroke="#1a1a1a" stroke-width="0.9" />
<line x1="213.7" y1="1202.92" x2="219.2" y2="1202.92" stroke="#8a8a8a" stroke-width="0.9" />
<line x1="213.7" y1="1245.68" x2="219.2" y2="1245.68" stroke="#8a8a8a" stroke-width="0.9" />
<circle cx="216.45" cy="1208.5" r="2.6" fill="#000" />
<circle cx="216.45" cy="1216" r="2.6" fill="#000" />
<circle cx="216.45" cy="1248.7" r="2.6" fill="#000" />
<rect x="222.2" y="1251.5" width="11.5" height="122.8" fill="#C00000" stroke="#7a0000" stroke-width="0.6" />
<line x1="227.95" y1="1230.88" x2="227.95" y2="1272.12" stroke="#9a0f0f" stroke-width="0.9" />
<line x1="225.2" y1="1230.88" x2="230.7" y2="1230.88" stroke="#c04848" stroke-width="0.9" />
<line x1="225.2" y1="1272.12" x2="230.7" y2="1272.12" stroke="#c04848" stroke-width="0.9" />
<circle cx="227.95" cy="1228.6" r="2.6" fill="#6e0000" />
<circle cx="227.95" cy="1257" r="2.6" fill="#6e0000" />
<circle cx="227.95" cy="1268.7" r="2.6" fill="#6e0000" />
<text x="171.12" y="1259.15" font-size="25" text-anchor="middle" transform="rotate(-90 171.12 1259.15)" textLength="31.6" lengthAdjust="spacingAndGlyphs" stroke="#000" stroke-width="0.45">***</text>
<text x="200.23" y="1273.35" font-size="25" text-anchor="middle" transform="rotate(-90 200.23 1273.35)" textLength="30.8" lengthAdjust="spacingAndGlyphs" stroke="#000" stroke-width="0.45">***</text>
<text x="229.32" y="1182.15" font-size="25" text-anchor="middle" transform="rotate(-90 229.32 1182.15)" textLength="30.8" lengthAdjust="spacingAndGlyphs" stroke="#000" stroke-width="0.45">***</text>
<rect x="93.8" y="1378.1" width="12" height="7" fill="#0070C0" />
<rect x="123" y="1378.1" width="23.8" height="7" fill="#0070C0" />
<rect x="152.1" y="1378.1" width="23.8" height="7" fill="#FF6600" />
<rect x="181.2" y="1378.1" width="23.8" height="7" fill="#0070C0" />
<rect x="210.3" y="1378.1" width="23.8" height="7" fill="#FF6600" />
<rect x="93.8" y="1389.5" width="12" height="7" fill="#404040" />
<rect x="123" y="1389.5" width="52.9" height="7" fill="#404040" />
<rect x="181.2" y="1389.5" width="52.9" height="7" fill="#404040" />
<text x="91.01" y="1425.8" font-size="28">0</text>
<text x="134.43" y="1425.8" font-size="28">14</text>
<text x="191.92" y="1425.8" font-size="28">28</text>
<rect x="305.7" y="1152.4" width="145.5" height="221.9" fill="none" stroke="#bdbdbd" stroke-width="1" />
<line x1="305.7" y1="1152.4" x2="305.7" y2="1374.3" stroke="#d6d6d6" stroke-width="1.8" />
<line x1="300.7" y1="1152.4" x2="305.7" y2="1152.4" stroke="#a8a8a8" stroke-width="0.9" />
<text x="299.43" y="1162.1" font-size="27.5" text-anchor="end">10</text>
<line x1="300.7" y1="1263.35" x2="305.7" y2="1263.35" stroke="#a8a8a8" stroke-width="0.9" />
<text x="299.53" y="1273.05" font-size="27.5" text-anchor="end">5</text>
<line x1="300.7" y1="1374.3" x2="305.7" y2="1374.3" stroke="#a8a8a8" stroke-width="0.9" />
<text x="299.39" y="1384" font-size="27.5" text-anchor="end">0</text>
<text x="310.44" y="1181.5" font-size="29" font-style="italic" fill="#595959" textLength="75.22" lengthAdjust="spacingAndGlyphs">Sparc</text>
<rect x="308.8" y="1352.5" width="11.5" height="21.8" fill="#595959" stroke="#2a2a2a" stroke-width="0.6" />
<line x1="314.55" y1="1344.59" x2="314.55" y2="1360.41" stroke="#1a1a1a" stroke-width="0.9" />
<line x1="311.8" y1="1344.59" x2="317.3" y2="1344.59" stroke="#8a8a8a" stroke-width="0.9" />
<line x1="311.8" y1="1360.41" x2="317.3" y2="1360.41" stroke="#8a8a8a" stroke-width="0.9" />
<circle cx="314.55" cy="1344.4" r="2.6" fill="#000" />
<circle cx="314.55" cy="1352.1" r="2.6" fill="#000" />
<circle cx="314.55" cy="1360.2" r="2.6" fill="#000" />
<rect x="337.9" y="1333.2" width="11.5" height="41.1" fill="#595959" stroke="#2a2a2a" stroke-width="0.6" />
<line x1="343.65" y1="1317.97" x2="343.65" y2="1348.43" stroke="#1a1a1a" stroke-width="0.9" />
<line x1="340.9" y1="1317.97" x2="346.4" y2="1317.97" stroke="#8a8a8a" stroke-width="0.9" />
<line x1="340.9" y1="1348.43" x2="346.4" y2="1348.43" stroke="#8a8a8a" stroke-width="0.9" />
<circle cx="343.65" cy="1319.8" r="2.6" fill="#000" />
<circle cx="343.65" cy="1329.3" r="2.6" fill="#000" />
<circle cx="343.65" cy="1349.6" r="2.6" fill="#000" />
<rect x="349.4" y="1333.2" width="11.5" height="41.1" fill="#C00000" stroke="#7a0000" stroke-width="0.6" />
<line x1="355.15" y1="1326.75" x2="355.15" y2="1339.65" stroke="#9a0f0f" stroke-width="0.9" />
<line x1="352.4" y1="1326.75" x2="357.9" y2="1326.75" stroke="#c04848" stroke-width="0.9" />
<line x1="352.4" y1="1339.65" x2="357.9" y2="1339.65" stroke="#c04848" stroke-width="0.9" />
<circle cx="352.95" cy="1326.7" r="2.6" fill="#6e0000" />
<circle cx="357.35" cy="1331" r="2.6" fill="#6e0000" />
<circle cx="355.15" cy="1339.2" r="2.6" fill="#6e0000" />
<rect x="367" y="1273" width="11.5" height="101.3" fill="#595959" stroke="#2a2a2a" stroke-width="0.6" />
<line x1="372.75" y1="1251.9" x2="372.75" y2="1294.1" stroke="#1a1a1a" stroke-width="0.9" />
<line x1="370" y1="1251.9" x2="375.5" y2="1251.9" stroke="#8a8a8a" stroke-width="0.9" />
<line x1="370" y1="1294.1" x2="375.5" y2="1294.1" stroke="#8a8a8a" stroke-width="0.9" />
<circle cx="372.75" cy="1251.8" r="2.6" fill="#000" />
<circle cx="372.75" cy="1273" r="2.6" fill="#000" />
<circle cx="372.75" cy="1294" r="2.6" fill="#000" />
<rect x="378.5" y="1299.2" width="11.5" height="75.1" fill="#C00000" stroke="#7a0000" stroke-width="0.6" />
<line x1="384.25" y1="1277.98" x2="384.25" y2="1320.42" stroke="#9a0f0f" stroke-width="0.9" />
<line x1="381.5" y1="1277.98" x2="387" y2="1277.98" stroke="#c04848" stroke-width="0.9" />
<line x1="381.5" y1="1320.42" x2="387" y2="1320.42" stroke="#c04848" stroke-width="0.9" />
<circle cx="382.05" cy="1285.4" r="2.6" fill="#6e0000" />
<circle cx="386.45" cy="1287.6" r="2.6" fill="#6e0000" />
<circle cx="384.25" cy="1323.2" r="2.6" fill="#6e0000" />
<rect x="396.1" y="1310.3" width="11.5" height="64" fill="#595959" stroke="#2a2a2a" stroke-width="0.6" />
<line x1="401.85" y1="1295.69" x2="401.85" y2="1324.91" stroke="#1a1a1a" stroke-width="0.9" />
<line x1="399.1" y1="1295.69" x2="404.6" y2="1295.69" stroke="#8a8a8a" stroke-width="0.9" />
<line x1="399.1" y1="1324.91" x2="404.6" y2="1324.91" stroke="#8a8a8a" stroke-width="0.9" />
<circle cx="401.85" cy="1293.1" r="2.6" fill="#000" />
<circle cx="399.65" cy="1318.4" r="2.6" fill="#000" />
<circle cx="404.05" cy="1318.4" r="2.6" fill="#000" />
<rect x="407.6" y="1321.5" width="11.5" height="52.8" fill="#C00000" stroke="#7a0000" stroke-width="0.6" />
<line x1="413.35" y1="1312.75" x2="413.35" y2="1330.25" stroke="#9a0f0f" stroke-width="0.9" />
<line x1="410.6" y1="1312.75" x2="416.1" y2="1312.75" stroke="#c04848" stroke-width="0.9" />
<line x1="410.6" y1="1330.25" x2="416.1" y2="1330.25" stroke="#c04848" stroke-width="0.9" />
<circle cx="411.15" cy="1315.5" r="2.6" fill="#6e0000" />
<circle cx="415.55" cy="1316.9" r="2.6" fill="#6e0000" />
<circle cx="413.35" cy="1331.3" r="2.6" fill="#6e0000" />
<rect x="425.2" y="1224.3" width="11.5" height="150" fill="#595959" stroke="#2a2a2a" stroke-width="0.6" />
<line x1="430.95" y1="1213.54" x2="430.95" y2="1235.06" stroke="#1a1a1a" stroke-width="0.9" />
<line x1="428.2" y1="1213.54" x2="433.7" y2="1213.54" stroke="#8a8a8a" stroke-width="0.9" />
<line x1="428.2" y1="1235.06" x2="433.7" y2="1235.06" stroke="#8a8a8a" stroke-width="0.9" />
<circle cx="430.95" cy="1212.6" r="2.6" fill="#000" />
<circle cx="430.95" cy="1226.4" r="2.6" fill="#000" />
<circle cx="430.95" cy="1233.8" r="2.6" fill="#000" />
<rect x="436.7" y="1263.4" width="11.5" height="110.9" fill="#C00000" stroke="#7a0000" stroke-width="0.6" />
<line x1="442.45" y1="1244.73" x2="442.45" y2="1282.07" stroke="#9a0f0f" stroke-width="0.9" />
<line x1="439.7" y1="1244.73" x2="445.2" y2="1244.73" stroke="#c04848" stroke-width="0.9" />
<line x1="439.7" y1="1282.07" x2="445.2" y2="1282.07" stroke="#c04848" stroke-width="0.9" />
<circle cx="442.45" cy="1245.3" r="2.6" fill="#6e0000" />
<circle cx="442.45" cy="1261.3" r="2.6" fill="#6e0000" />
<circle cx="442.45" cy="1282.5" r="2.6" fill="#6e0000" />
<text x="385.62" y="1229.45" font-size="25" text-anchor="middle" transform="rotate(-90 385.62 1229.45)" textLength="30.8" lengthAdjust="spacingAndGlyphs" stroke="#000" stroke-width="0.45">***</text>
<text x="414.73" y="1277.2" font-size="25" text-anchor="middle" transform="rotate(-90 414.73 1277.2)" textLength="19.5" lengthAdjust="spacingAndGlyphs" stroke="#000" stroke-width="0.45">**</text>
<text x="443.83" y="1190.3" font-size="25" text-anchor="middle" transform="rotate(-90 443.83 1190.3)" textLength="29.9" lengthAdjust="spacingAndGlyphs" stroke="#000" stroke-width="0.45">***</text>
<text x="455.33" y="1233.75" font-size="25" text-anchor="middle" transform="rotate(-90 455.33 1233.75)" textLength="8.4" lengthAdjust="spacingAndGlyphs" stroke="#000" stroke-width="0.45">*</text>
<path d="M438.7 1213.6 L444.7 1213.6 L444.7 1220.5" stroke="#777" stroke-width="1" fill="none" />
<rect x="308.3" y="1378.1" width="12" height="7" fill="#0070C0" />
<rect x="337.5" y="1378.1" width="23.8" height="7" fill="#0070C0" />
<rect x="366.6" y="1378.1" width="23.8" height="7" fill="#FF6600" />
<rect x="395.7" y="1378.1" width="23.8" height="7" fill="#0070C0" />
<rect x="424.8" y="1378.1" width="23.8" height="7" fill="#FF6600" />
<rect x="308.3" y="1389.5" width="12" height="7" fill="#404040" />
<rect x="337.5" y="1389.5" width="52.9" height="7" fill="#404040" />
<rect x="395.7" y="1389.5" width="52.9" height="7" fill="#404040" />
<text x="305.51" y="1425.8" font-size="28">0</text>
<text x="348.93" y="1425.8" font-size="28">14</text>
<text x="406.42" y="1425.8" font-size="28">28</text>
<rect x="520.7" y="1152.4" width="145.5" height="221.9" fill="none" stroke="#bdbdbd" stroke-width="1" />
<line x1="520.7" y1="1152.4" x2="520.7" y2="1374.3" stroke="#d6d6d6" stroke-width="1.8" />
<line x1="515.7" y1="1152.4" x2="520.7" y2="1152.4" stroke="#a8a8a8" stroke-width="0.9" />
<text x="514.46" y="1162.1" font-size="27.5" text-anchor="end">900</text>
<line x1="515.7" y1="1263.35" x2="520.7" y2="1263.35" stroke="#a8a8a8" stroke-width="0.9" />
<text x="514.46" y="1273.05" font-size="27.5" text-anchor="end">450</text>
<line x1="515.7" y1="1374.3" x2="520.7" y2="1374.3" stroke="#a8a8a8" stroke-width="0.9" />
<text x="514.39" y="1384" font-size="27.5" text-anchor="end">0</text>
<text x="527.93" y="1181.5" font-size="29" font-style="italic" fill="#595959" textLength="74.02" lengthAdjust="spacingAndGlyphs">Bglap</text>
<line x1="529.55" y1="1373.08" x2="529.55" y2="1375.52" stroke="#1a1a1a" stroke-width="0.9" />
<line x1="526.8" y1="1373.08" x2="532.3" y2="1373.08" stroke="#8a8a8a" stroke-width="0.9" />
<line x1="526.8" y1="1375.52" x2="532.3" y2="1375.52" stroke="#8a8a8a" stroke-width="0.9" />
<circle cx="525.15" cy="1373.3" r="2.6" fill="#000" />
<circle cx="529.55" cy="1373.3" r="2.6" fill="#000" />
<circle cx="533.95" cy="1373.3" r="2.6" fill="#000" />
<rect x="552.9" y="1370.6" width="11.5" height="3.7" fill="#595959" stroke="#2a2a2a" stroke-width="0.6" />
<line x1="558.65" y1="1367.04" x2="558.65" y2="1374.16" stroke="#1a1a1a" stroke-width="0.9" />
<line x1="555.9" y1="1367.04" x2="561.4" y2="1367.04" stroke="#8a8a8a" stroke-width="0.9" />
<line x1="555.9" y1="1374.16" x2="561.4" y2="1374.16" stroke="#8a8a8a" stroke-width="0.9" />
<circle cx="558.65" cy="1365.7" r="2.6" fill="#000" />
<circle cx="556.45" cy="1371.4" r="2.6" fill="#000" />
<circle cx="560.85" cy="1371.4" r="2.6" fill="#000" />
<rect x="564.4" y="1366.8" width="11.5" height="7.5" fill="#C00000" stroke="#7a0000" stroke-width="0.6" />
<line x1="570.15" y1="1362.3" x2="570.15" y2="1371.3" stroke="#9a0f0f" stroke-width="0.9" />
<line x1="567.4" y1="1362.3" x2="572.9" y2="1362.3" stroke="#c04848" stroke-width="0.9" />
<line x1="567.4" y1="1371.3" x2="572.9" y2="1371.3" stroke="#c04848" stroke-width="0.9" />
<circle cx="570.15" cy="1361.1" r="2.6" fill="#6e0000" />
<circle cx="567.95" cy="1368.8" r="2.6" fill="#6e0000" />
<circle cx="572.35" cy="1368.8" r="2.6" fill="#6e0000" />
<rect x="582" y="1336.1" width="11.5" height="38.2" fill="#595959" stroke="#2a2a2a" stroke-width="0.6" />
<line x1="587.75" y1="1331.61" x2="587.75" y2="1340.59" stroke="#1a1a1a" stroke-width="0.9" />
<line x1="585" y1="1331.61" x2="590.5" y2="1331.61" stroke="#8a8a8a" stroke-width="0.9" />
<line x1="585" y1="1340.59" x2="590.5" y2="1340.59" stroke="#8a8a8a" stroke-width="0.9" />
<circle cx="587.75" cy="1330.6" r="2.6" fill="#000" />
<circle cx="585.55" cy="1337.9" r="2.6" fill="#000" />
<circle cx="589.95" cy="1338.7" r="2.6" fill="#000" />
<rect x="593.5" y="1339.2" width="11.5" height="35.1" fill="#C00000" stroke="#7a0000" stroke-width="0.6" />
<line x1="599.25" y1="1328.98" x2="599.25" y2="1349.42" stroke="#9a0f0f" stroke-width="0.9" />
<line x1="596.5" y1="1328.98" x2="602" y2="1328.98" stroke="#c04848" stroke-width="0.9" />
<line x1="596.5" y1="1349.42" x2="602" y2="1349.42" stroke="#c04848" stroke-width="0.9" />
<circle cx="599.25" cy="1330.1" r="2.6" fill="#6e0000" />
<circle cx="599.25" cy="1335.8" r="2.6" fill="#6e0000" />
<circle cx="599.25" cy="1349.9" r="2.6" fill="#6e0000" />
<rect x="611.1" y="1359.4" width="11.5" height="14.9" fill="#595959" stroke="#2a2a2a" stroke-width="0.6" />
<line x1="616.85" y1="1351.93" x2="616.85" y2="1366.87" stroke="#1a1a1a" stroke-width="0.9" />
<line x1="614.1" y1="1351.93" x2="619.6" y2="1351.93" stroke="#8a8a8a" stroke-width="0.9" />
<line x1="614.1" y1="1366.87" x2="619.6" y2="1366.87" stroke="#8a8a8a" stroke-width="0.9" />
<circle cx="616.85" cy="1350.3" r="2.6" fill="#000" />
<circle cx="614.65" cy="1361.1" r="2.6" fill="#000" />
<circle cx="619.05" cy="1364.5" r="2.6" fill="#000" />
<rect x="622.6" y="1357.1" width="11.5" height="17.2" fill="#C00000" stroke="#7a0000" stroke-width="0.6" />
<line x1="628.35" y1="1352.25" x2="628.35" y2="1361.95" stroke="#9a0f0f" stroke-width="0.9" />
<line x1="625.6" y1="1352.25" x2="631.1" y2="1352.25" stroke="#c04848" stroke-width="0.9" />
<line x1="625.6" y1="1361.95" x2="631.1" y2="1361.95" stroke="#c04848" stroke-width="0.9" />
<circle cx="626.15" cy="1355.9" r="2.6" fill="#6e0000" />
<circle cx="630.55" cy="1358.5" r="2.6" fill="#6e0000" />
<circle cx="628.35" cy="1363.7" r="2.6" fill="#6e0000" />
<rect x="640.2" y="1225.2" width="11.5" height="149.1" fill="#595959" stroke="#2a2a2a" stroke-width="0.6" />
<line x1="645.95" y1="1198.79" x2="645.95" y2="1251.61" stroke="#1a1a1a" stroke-width="0.9" />
<line x1="643.2" y1="1198.79" x2="648.7" y2="1198.79" stroke="#8a8a8a" stroke-width="0.9" />
<line x1="643.2" y1="1251.61" x2="648.7" y2="1251.61" stroke="#8a8a8a" stroke-width="0.9" />
<circle cx="645.95" cy="1195.1" r="2.6" fill="#000" />
<circle cx="645.95" cy="1236.7" r="2.6" fill="#000" />
<circle cx="645.95" cy="1244.1" r="2.6" fill="#000" />
<rect x="651.7" y="1214.3" width="11.5" height="160" fill="#C00000" stroke="#7a0000" stroke-width="0.6" />
<line x1="657.45" y1="1203.53" x2="657.45" y2="1225.07" stroke="#9a0f0f" stroke-width="0.9" />
<line x1="654.7" y1="1203.53" x2="660.2" y2="1203.53" stroke="#c04848" stroke-width="0.9" />
<line x1="654.7" y1="1225.07" x2="660.2" y2="1225.07" stroke="#c04848" stroke-width="0.9" />
<circle cx="657.45" cy="1201.6" r="2.6" fill="#6e0000" />
<circle cx="655.25" cy="1218.3" r="2.6" fill="#6e0000" />
<circle cx="659.65" cy="1221.7" r="2.6" fill="#6e0000" />
<text x="600.63" y="1308.2" font-size="25" text-anchor="middle" transform="rotate(-90 600.63 1308.2)" textLength="29.9" lengthAdjust="spacingAndGlyphs" stroke="#000" stroke-width="0.45">***</text>
<text x="658.83" y="1170.95" font-size="25" text-anchor="middle" transform="rotate(-90 658.83 1170.95)" textLength="30.8" lengthAdjust="spacingAndGlyphs" stroke="#000" stroke-width="0.45">***</text>
<rect x="523.3" y="1378.1" width="12" height="7" fill="#0070C0" />
<rect x="552.5" y="1378.1" width="23.8" height="7" fill="#0070C0" />
<rect x="581.6" y="1378.1" width="23.8" height="7" fill="#FF6600" />
<rect x="610.7" y="1378.1" width="23.8" height="7" fill="#0070C0" />
<rect x="639.8" y="1378.1" width="23.8" height="7" fill="#FF6600" />
<rect x="523.3" y="1389.5" width="12" height="7" fill="#404040" />
<rect x="552.5" y="1389.5" width="52.9" height="7" fill="#404040" />
<rect x="610.7" y="1389.5" width="52.9" height="7" fill="#404040" />
<text x="520.51" y="1425.8" font-size="28">0</text>
<text x="563.93" y="1425.8" font-size="28">14</text>
<text x="621.42" y="1425.8" font-size="28">28</text>
<rect x="735.4" y="1152.4" width="145.5" height="221.9" fill="none" stroke="#bdbdbd" stroke-width="1" />
<line x1="735.4" y1="1152.4" x2="735.4" y2="1374.3" stroke="#d6d6d6" stroke-width="1.8" />
<line x1="730.4" y1="1152.4" x2="735.4" y2="1152.4" stroke="#a8a8a8" stroke-width="0.9" />
<text x="729.16" y="1162.1" font-size="27.5" text-anchor="end">250</text>
<line x1="730.4" y1="1263.35" x2="735.4" y2="1263.35" stroke="#a8a8a8" stroke-width="0.9" />
<text x="729.3" y="1273.05" font-size="27.5" text-anchor="end">125</text>
<line x1="730.4" y1="1374.3" x2="735.4" y2="1374.3" stroke="#a8a8a8" stroke-width="0.9" />
<text x="729.09" y="1384" font-size="27.5" text-anchor="end">0</text>
<text x="741.66" y="1181.5" font-size="29" font-style="italic" fill="#595959" textLength="69.79" lengthAdjust="spacingAndGlyphs">Ifitm5</text>
<rect x="738.5" y="1373.6" width="11.5" height="0.7" fill="#595959" stroke="#2a2a2a" stroke-width="0.6" />
<circle cx="739.85" cy="1372.7" r="2.6" fill="#000" />
<circle cx="744.25" cy="1372.7" r="2.6" fill="#000" />
<circle cx="748.65" cy="1372.7" r="2.6" fill="#000" />
<rect x="767.6" y="1369.7" width="11.5" height="4.6" fill="#595959" stroke="#2a2a2a" stroke-width="0.6" />
<line x1="773.35" y1="1366.65" x2="773.35" y2="1372.75" stroke="#1a1a1a" stroke-width="0.9" />
<line x1="770.6" y1="1366.65" x2="776.1" y2="1366.65" stroke="#8a8a8a" stroke-width="0.9" />
<line x1="770.6" y1="1372.75" x2="776.1" y2="1372.75" stroke="#8a8a8a" stroke-width="0.9" />
<circle cx="768.95" cy="1365.4" r="2.6" fill="#000" />
<circle cx="773.35" cy="1369.3" r="2.6" fill="#000" />
<circle cx="777.75" cy="1369.7" r="2.6" fill="#000" />
<rect x="779.1" y="1368.8" width="11.5" height="5.5" fill="#C00000" stroke="#7a0000" stroke-width="0.6" />
<line x1="784.85" y1="1366.79" x2="784.85" y2="1370.81" stroke="#9a0f0f" stroke-width="0.9" />
<line x1="782.1" y1="1366.79" x2="787.6" y2="1366.79" stroke="#c04848" stroke-width="0.9" />
<line x1="782.1" y1="1370.81" x2="787.6" y2="1370.81" stroke="#c04848" stroke-width="0.9" />
<circle cx="780.45" cy="1366.8" r="2.6" fill="#6e0000" />
<circle cx="784.85" cy="1369.7" r="2.6" fill="#6e0000" />
<circle cx="789.25" cy="1370.6" r="2.6" fill="#6e0000" />
<rect x="796.7" y="1340.1" width="11.5" height="34.2" fill="#595959" stroke="#2a2a2a" stroke-width="0.6" />
<line x1="802.45" y1="1329.16" x2="802.45" y2="1351.04" stroke="#1a1a1a" stroke-width="0.9" />
<line x1="799.7" y1="1329.16" x2="805.2" y2="1329.16" stroke="#8a8a8a" stroke-width="0.9" />
<line x1="799.7" y1="1351.04" x2="805.2" y2="1351.04" stroke="#8a8a8a" stroke-width="0.9" />
<circle cx="802.45" cy="1327.2" r="2.6" fill="#000" />
<circle cx="800.25" cy="1344.7" r="2.6" fill="#000" />
<circle cx="804.65" cy="1347.3" r="2.6" fill="#000" />
<rect x="808.2" y="1337.5" width="11.5" height="36.8" fill="#C00000" stroke="#7a0000" stroke-width="0.6" />
<line x1="813.95" y1="1332.28" x2="813.95" y2="1342.72" stroke="#9a0f0f" stroke-width="0.9" />
<line x1="811.2" y1="1332.28" x2="816.7" y2="1332.28" stroke="#c04848" stroke-width="0.9" />
<line x1="811.2" y1="1342.72" x2="816.7" y2="1342.72" stroke="#c04848" stroke-width="0.9" />
<circle cx="813.95" cy="1331.8" r="2.6" fill="#6e0000" />
<circle cx="811.75" cy="1337.5" r="2.6" fill="#6e0000" />
<circle cx="816.15" cy="1342.2" r="2.6" fill="#6e0000" />
<rect x="825.8" y="1348.2" width="11.5" height="26.1" fill="#595959" stroke="#2a2a2a" stroke-width="0.6" />
<line x1="831.55" y1="1343.39" x2="831.55" y2="1353.01" stroke="#1a1a1a" stroke-width="0.9" />
<line x1="828.8" y1="1343.39" x2="834.3" y2="1343.39" stroke="#8a8a8a" stroke-width="0.9" />
<line x1="828.8" y1="1353.01" x2="834.3" y2="1353.01" stroke="#8a8a8a" stroke-width="0.9" />
<circle cx="827.15" cy="1349" r="2.6" fill="#000" />
<circle cx="831.55" cy="1351.3" r="2.6" fill="#000" />
<circle cx="835.95" cy="1354.2" r="2.6" fill="#000" />
<rect x="837.3" y="1343" width="11.5" height="31.3" fill="#C00000" stroke="#7a0000" stroke-width="0.6" />
<line x1="843.05" y1="1333.43" x2="843.05" y2="1352.57" stroke="#9a0f0f" stroke-width="0.9" />
<line x1="840.3" y1="1333.43" x2="845.8" y2="1333.43" stroke="#c04848" stroke-width="0.9" />
<line x1="840.3" y1="1352.57" x2="845.8" y2="1352.57" stroke="#c04848" stroke-width="0.9" />
<circle cx="843.05" cy="1332.4" r="2.6" fill="#6e0000" />
<circle cx="843.05" cy="1344.4" r="2.6" fill="#6e0000" />
<circle cx="843.05" cy="1351.3" r="2.6" fill="#6e0000" />
<rect x="854.9" y="1227.4" width="11.5" height="146.9" fill="#595959" stroke="#2a2a2a" stroke-width="0.6" />
<line x1="860.65" y1="1210.31" x2="860.65" y2="1244.49" stroke="#1a1a1a" stroke-width="0.9" />
<line x1="857.9" y1="1210.31" x2="863.4" y2="1210.31" stroke="#8a8a8a" stroke-width="0.9" />
<line x1="857.9" y1="1244.49" x2="863.4" y2="1244.49" stroke="#8a8a8a" stroke-width="0.9" />
<circle cx="860.65" cy="1208.5" r="2.6" fill="#000" />
<circle cx="860.65" cy="1231.5" r="2.6" fill="#000" />
<circle cx="860.65" cy="1241.9" r="2.6" fill="#000" />
<rect x="866.4" y="1250.1" width="11.5" height="124.2" fill="#C00000" stroke="#7a0000" stroke-width="0.6" />
<line x1="872.15" y1="1215.24" x2="872.15" y2="1284.96" stroke="#9a0f0f" stroke-width="0.9" />
<line x1="869.4" y1="1215.24" x2="874.9" y2="1215.24" stroke="#c04848" stroke-width="0.9" />
<line x1="869.4" y1="1284.96" x2="874.9" y2="1284.96" stroke="#c04848" stroke-width="0.9" />
<circle cx="872.15" cy="1214.8" r="2.6" fill="#6e0000" />
<circle cx="872.15" cy="1251" r="2.6" fill="#6e0000" />
<circle cx="872.15" cy="1284.5" r="2.6" fill="#6e0000" />
<text x="815.33" y="1315.5" font-size="25" text-anchor="middle" transform="rotate(-90 815.33 1315.5)" textLength="10.1" lengthAdjust="spacingAndGlyphs" stroke="#000" stroke-width="0.45">*</text>
<text x="873.52" y="1186.45" font-size="25" text-anchor="middle" transform="rotate(-90 873.52 1186.45)" textLength="30.8" lengthAdjust="spacingAndGlyphs" stroke="#000" stroke-width="0.45">***</text>
<rect x="738" y="1378.1" width="12" height="7" fill="#0070C0" />
<rect x="767.2" y="1378.1" width="23.8" height="7" fill="#0070C0" />
<rect x="796.3" y="1378.1" width="23.8" height="7" fill="#FF6600" />
<rect x="825.4" y="1378.1" width="23.8" height="7" fill="#0070C0" />
<rect x="854.5" y="1378.1" width="23.8" height="7" fill="#FF6600" />
<rect x="738" y="1389.5" width="12" height="7" fill="#404040" />
<rect x="767.2" y="1389.5" width="52.9" height="7" fill="#404040" />
<rect x="825.4" y="1389.5" width="52.9" height="7" fill="#404040" />
<text x="735.21" y="1425.8" font-size="28">0</text>
<text x="778.63" y="1425.8" font-size="28">14</text>
<text x="836.12" y="1425.8" font-size="28">28</text>
<rect x="950.4" y="1152.4" width="145.5" height="221.9" fill="none" stroke="#bdbdbd" stroke-width="1" />
<line x1="950.4" y1="1152.4" x2="950.4" y2="1374.3" stroke="#d6d6d6" stroke-width="1.8" />
<line x1="945.4" y1="1152.4" x2="950.4" y2="1152.4" stroke="#a8a8a8" stroke-width="0.9" />
<text x="943.99" y="1162.1" font-size="27.5" text-anchor="end">24</text>
<line x1="945.4" y1="1263.35" x2="950.4" y2="1263.35" stroke="#a8a8a8" stroke-width="0.9" />
<text x="944.54" y="1273.05" font-size="27.5" text-anchor="end">12</text>
<line x1="945.4" y1="1374.3" x2="950.4" y2="1374.3" stroke="#a8a8a8" stroke-width="0.9" />
<text x="944.09" y="1384" font-size="27.5" text-anchor="end">0</text>
<text x="955.93" y="1181.5" font-size="29" font-style="italic" fill="#595959" textLength="67.86" lengthAdjust="spacingAndGlyphs">Spp1</text>
<rect x="953.5" y="1365.4" width="11.5" height="8.9" fill="#595959" stroke="#2a2a2a" stroke-width="0.6" />
<line x1="959.25" y1="1363.7" x2="959.25" y2="1367.1" stroke="#1a1a1a" stroke-width="0.9" />
<line x1="956.5" y1="1363.7" x2="962" y2="1363.7" stroke="#8a8a8a" stroke-width="0.9" />
<line x1="956.5" y1="1367.1" x2="962" y2="1367.1" stroke="#8a8a8a" stroke-width="0.9" />
<circle cx="954.85" cy="1363.7" r="2.6" fill="#000" />
<circle cx="959.25" cy="1365.4" r="2.6" fill="#000" />
<circle cx="963.65" cy="1367.1" r="2.6" fill="#000" />
<rect x="982.6" y="1362" width="11.5" height="12.3" fill="#595959" stroke="#2a2a2a" stroke-width="0.6" />
<line x1="988.35" y1="1360.14" x2="988.35" y2="1363.86" stroke="#1a1a1a" stroke-width="0.9" />
<line x1="985.6" y1="1360.14" x2="991.1" y2="1360.14" stroke="#8a8a8a" stroke-width="0.9" />
<line x1="985.6" y1="1363.86" x2="991.1" y2="1363.86" stroke="#8a8a8a" stroke-width="0.9" />
<circle cx="983.95" cy="1360.2" r="2.6" fill="#000" />
<circle cx="988.35" cy="1361.1" r="2.6" fill="#000" />
<circle cx="992.75" cy="1363.7" r="2.6" fill="#000" />
<rect x="994.1" y="1362" width="11.5" height="12.3" fill="#C00000" stroke="#7a0000" stroke-width="0.6" />
<line x1="999.85" y1="1358.9" x2="999.85" y2="1365.1" stroke="#9a0f0f" stroke-width="0.9" />
<line x1="997.1" y1="1358.9" x2="1002.6" y2="1358.9" stroke="#c04848" stroke-width="0.9" />
<line x1="997.1" y1="1365.1" x2="1002.6" y2="1365.1" stroke="#c04848" stroke-width="0.9" />
<circle cx="995.45" cy="1358.9" r="2.6" fill="#6e0000" />
<circle cx="999.85" cy="1362.8" r="2.6" fill="#6e0000" />
<circle cx="1004.25" cy="1365" r="2.6" fill="#6e0000" />
<rect x="1011.7" y="1291.9" width="11.5" height="82.4" fill="#595959" stroke="#2a2a2a" stroke-width="0.6" />
<line x1="1017.45" y1="1277.56" x2="1017.45" y2="1306.24" stroke="#1a1a1a" stroke-width="0.9" />
<line x1="1014.7" y1="1277.56" x2="1020.2" y2="1277.56" stroke="#8a8a8a" stroke-width="0.9" />
<line x1="1014.7" y1="1306.24" x2="1020.2" y2="1306.24" stroke="#8a8a8a" stroke-width="0.9" />
<circle cx="1017.45" cy="1278.5" r="2.6" fill="#000" />
<circle cx="1017.45" cy="1289.3" r="2.6" fill="#000" />
<circle cx="1017.45" cy="1306.9" r="2.6" fill="#000" />
<rect x="1023.2" y="1295.7" width="11.5" height="78.6" fill="#C00000" stroke="#7a0000" stroke-width="0.6" />
<line x1="1028.95" y1="1288.86" x2="1028.95" y2="1302.54" stroke="#9a0f0f" stroke-width="0.9" />
<line x1="1026.2" y1="1288.86" x2="1031.7" y2="1288.86" stroke="#c04848" stroke-width="0.9" />
<line x1="1026.2" y1="1302.54" x2="1031.7" y2="1302.54" stroke="#c04848" stroke-width="0.9" />
<circle cx="1026.75" cy="1289.7" r="2.6" fill="#6e0000" />
<circle cx="1031.15" cy="1294" r="2.6" fill="#6e0000" />
<circle cx="1028.95" cy="1303.1" r="2.6" fill="#6e0000" />
<rect x="1040.8" y="1354.2" width="11.5" height="20.1" fill="#595959" stroke="#2a2a2a" stroke-width="0.6" />
<line x1="1046.55" y1="1348.55" x2="1046.55" y2="1359.85" stroke="#1a1a1a" stroke-width="0.9" />
<line x1="1043.8" y1="1348.55" x2="1049.3" y2="1348.55" stroke="#8a8a8a" stroke-width="0.9" />
<line x1="1043.8" y1="1359.85" x2="1049.3" y2="1359.85" stroke="#8a8a8a" stroke-width="0.9" />
<circle cx="1046.55" cy="1348.2" r="2.6" fill="#000" />
<circle cx="1044.35" cy="1355.1" r="2.6" fill="#000" />
<circle cx="1048.75" cy="1359.4" r="2.6" fill="#000" />
<rect x="1052.3" y="1355.1" width="11.5" height="19.2" fill="#C00000" stroke="#7a0000" stroke-width="0.6" />
<line x1="1058.05" y1="1351.15" x2="1058.05" y2="1359.05" stroke="#9a0f0f" stroke-width="0.9" />
<line x1="1055.3" y1="1351.15" x2="1060.8" y2="1351.15" stroke="#c04848" stroke-width="0.9" />
<line x1="1055.3" y1="1359.05" x2="1060.8" y2="1359.05" stroke="#c04848" stroke-width="0.9" />
<circle cx="1053.65" cy="1349.9" r="2.6" fill="#6e0000" />
<circle cx="1058.05" cy="1354.7" r="2.6" fill="#6e0000" />
<circle cx="1062.45" cy="1357.1" r="2.6" fill="#6e0000" />
<rect x="1069.9" y="1219.1" width="11.5" height="155.2" fill="#595959" stroke="#2a2a2a" stroke-width="0.6" />
<line x1="1075.65" y1="1196.61" x2="1075.65" y2="1241.59" stroke="#1a1a1a" stroke-width="0.9" />
<line x1="1072.9" y1="1196.61" x2="1078.4" y2="1196.61" stroke="#8a8a8a" stroke-width="0.9" />
<line x1="1072.9" y1="1241.59" x2="1078.4" y2="1241.59" stroke="#8a8a8a" stroke-width="0.9" />
<circle cx="1075.65" cy="1198.2" r="2.6" fill="#000" />
<circle cx="1075.65" cy="1216.2" r="2.6" fill="#000" />
<circle cx="1075.65" cy="1242.9" r="2.6" fill="#000" />
<rect x="1081.4" y="1233.3" width="11.5" height="141" fill="#C00000" stroke="#7a0000" stroke-width="0.6" />
<line x1="1087.15" y1="1204" x2="1087.15" y2="1262.6" stroke="#9a0f0f" stroke-width="0.9" />
<line x1="1084.4" y1="1204" x2="1089.9" y2="1204" stroke="#c04848" stroke-width="0.9" />
<line x1="1084.4" y1="1262.6" x2="1089.9" y2="1262.6" stroke="#c04848" stroke-width="0.9" />
<circle cx="1087.15" cy="1199.4" r="2.6" fill="#6e0000" />
<circle cx="1087.15" cy="1245.8" r="2.6" fill="#6e0000" />
<circle cx="1087.15" cy="1253.6" r="2.6" fill="#6e0000" />
<text x="1030.33" y="1257" font-size="25" text-anchor="middle" transform="rotate(-90 1030.33 1257)" textLength="30.7" lengthAdjust="spacingAndGlyphs" stroke="#000" stroke-width="0.45">***</text>
<text x="1088.53" y="1174.65" font-size="25" text-anchor="middle" transform="rotate(-90 1088.53 1174.65)" textLength="30.2" lengthAdjust="spacingAndGlyphs" stroke="#000" stroke-width="0.45">***</text>
<rect x="953" y="1378.1" width="12" height="7" fill="#0070C0" />
<rect x="982.2" y="1378.1" width="23.8" height="7" fill="#0070C0" />
<rect x="1011.3" y="1378.1" width="23.8" height="7" fill="#FF6600" />
<rect x="1040.4" y="1378.1" width="23.8" height="7" fill="#0070C0" />
<rect x="1069.5" y="1378.1" width="23.8" height="7" fill="#FF6600" />
<rect x="953" y="1389.5" width="12" height="7" fill="#404040" />
<rect x="982.2" y="1389.5" width="52.9" height="7" fill="#404040" />
<rect x="1040.4" y="1389.5" width="52.9" height="7" fill="#404040" />
<text x="950.21" y="1425.8" font-size="28">0</text>
<text x="993.63" y="1425.8" font-size="28">14</text>
<text x="1051.12" y="1425.8" font-size="28">28</text>
<rect x="1164.8" y="1152.4" width="145.5" height="221.9" fill="none" stroke="#bdbdbd" stroke-width="1" />
<line x1="1164.8" y1="1152.4" x2="1164.8" y2="1374.3" stroke="#d6d6d6" stroke-width="1.8" />
<line x1="1159.8" y1="1152.4" x2="1164.8" y2="1152.4" stroke="#a8a8a8" stroke-width="0.9" />
<text x="1158.53" y="1162.1" font-size="27.5" text-anchor="end">60</text>
<line x1="1159.8" y1="1263.35" x2="1164.8" y2="1263.35" stroke="#a8a8a8" stroke-width="0.9" />
<text x="1158.53" y="1273.05" font-size="27.5" text-anchor="end">30</text>
<line x1="1159.8" y1="1374.3" x2="1164.8" y2="1374.3" stroke="#a8a8a8" stroke-width="0.9" />
<text x="1158.49" y="1384" font-size="27.5" text-anchor="end">0</text>
<text x="1170.02" y="1181.5" font-size="29" font-style="italic" fill="#595959" textLength="116.45" lengthAdjust="spacingAndGlyphs">Phospho1</text>
<rect x="1167.9" y="1370.6" width="11.5" height="3.7" fill="#595959" stroke="#2a2a2a" stroke-width="0.6" />
<line x1="1173.65" y1="1369.18" x2="1173.65" y2="1372.02" stroke="#1a1a1a" stroke-width="0.9" />
<line x1="1170.9" y1="1369.18" x2="1176.4" y2="1369.18" stroke="#8a8a8a" stroke-width="0.9" />
<line x1="1170.9" y1="1372.02" x2="1176.4" y2="1372.02" stroke="#8a8a8a" stroke-width="0.9" />
<circle cx="1169.25" cy="1368.8" r="2.6" fill="#000" />
<circle cx="1173.65" cy="1369.7" r="2.6" fill="#000" />
<circle cx="1178.05" cy="1370.6" r="2.6" fill="#000" />
<rect x="1197" y="1360.6" width="11.5" height="13.7" fill="#595959" stroke="#2a2a2a" stroke-width="0.6" />
<line x1="1202.75" y1="1357.46" x2="1202.75" y2="1363.74" stroke="#1a1a1a" stroke-width="0.9" />
<line x1="1200" y1="1357.46" x2="1205.5" y2="1357.46" stroke="#8a8a8a" stroke-width="0.9" />
<line x1="1200" y1="1363.74" x2="1205.5" y2="1363.74" stroke="#8a8a8a" stroke-width="0.9" />
<circle cx="1198.35" cy="1356.8" r="2.6" fill="#000" />
<circle cx="1202.75" cy="1359.9" r="2.6" fill="#000" />
<circle cx="1207.15" cy="1362.8" r="2.6" fill="#000" />
<rect x="1208.5" y="1359.4" width="11.5" height="14.9" fill="#C00000" stroke="#7a0000" stroke-width="0.6" />
<line x1="1214.25" y1="1356.29" x2="1214.25" y2="1362.51" stroke="#9a0f0f" stroke-width="0.9" />
<line x1="1211.5" y1="1356.29" x2="1217" y2="1356.29" stroke="#c04848" stroke-width="0.9" />
<line x1="1211.5" y1="1362.51" x2="1217" y2="1362.51" stroke="#c04848" stroke-width="0.9" />
<circle cx="1209.85" cy="1358.9" r="2.6" fill="#6e0000" />
<circle cx="1214.25" cy="1360.2" r="2.6" fill="#6e0000" />
<circle cx="1218.65" cy="1363.7" r="2.6" fill="#6e0000" />
<rect x="1226.1" y="1342.2" width="11.5" height="32.1" fill="#595959" stroke="#2a2a2a" stroke-width="0.6" />
<line x1="1231.85" y1="1336.14" x2="1231.85" y2="1348.26" stroke="#1a1a1a" stroke-width="0.9" />
<line x1="1229.1" y1="1336.14" x2="1234.6" y2="1336.14" stroke="#8a8a8a" stroke-width="0.9" />
<line x1="1229.1" y1="1348.26" x2="1234.6" y2="1348.26" stroke="#8a8a8a" stroke-width="0.9" />
<circle cx="1231.85" cy="1334.4" r="2.6" fill="#000" />
<circle cx="1229.65" cy="1344.7" r="2.6" fill="#000" />
<circle cx="1234.05" cy="1344.7" r="2.6" fill="#000" />
<rect x="1237.6" y="1328.4" width="11.5" height="45.9" fill="#C00000" stroke="#7a0000" stroke-width="0.6" />
<line x1="1243.35" y1="1319.9" x2="1243.35" y2="1336.9" stroke="#9a0f0f" stroke-width="0.9" />
<line x1="1240.6" y1="1319.9" x2="1246.1" y2="1319.9" stroke="#c04848" stroke-width="0.9" />
<line x1="1240.6" y1="1336.9" x2="1246.1" y2="1336.9" stroke="#c04848" stroke-width="0.9" />
<circle cx="1241.15" cy="1321.5" r="2.6" fill="#6e0000" />
<circle cx="1245.55" cy="1325.8" r="2.6" fill="#6e0000" />
<circle cx="1243.35" cy="1337.9" r="2.6" fill="#6e0000" />
<rect x="1255.2" y="1315.2" width="11.5" height="59.1" fill="#595959" stroke="#2a2a2a" stroke-width="0.6" />
<line x1="1260.95" y1="1300.92" x2="1260.95" y2="1329.48" stroke="#1a1a1a" stroke-width="0.9" />
<line x1="1258.2" y1="1300.92" x2="1263.7" y2="1300.92" stroke="#8a8a8a" stroke-width="0.9" />
<line x1="1258.2" y1="1329.48" x2="1263.7" y2="1329.48" stroke="#8a8a8a" stroke-width="0.9" />
<circle cx="1258.75" cy="1305.2" r="2.6" fill="#000" />
<circle cx="1263.15" cy="1309.5" r="2.6" fill="#000" />
<circle cx="1260.95" cy="1331.8" r="2.6" fill="#000" />
<rect x="1266.7" y="1315.2" width="11.5" height="59.1" fill="#C00000" stroke="#7a0000" stroke-width="0.6" />
<line x1="1272.45" y1="1300.71" x2="1272.45" y2="1329.69" stroke="#9a0f0f" stroke-width="0.9" />
<line x1="1269.7" y1="1300.71" x2="1275.2" y2="1300.71" stroke="#c04848" stroke-width="0.9" />
<line x1="1269.7" y1="1329.69" x2="1275.2" y2="1329.69" stroke="#c04848" stroke-width="0.9" />
<circle cx="1272.45" cy="1302.6" r="2.6" fill="#6e0000" />
<circle cx="1272.45" cy="1310.3" r="2.6" fill="#6e0000" />
<circle cx="1272.45" cy="1330.6" r="2.6" fill="#6e0000" />
<rect x="1284.3" y="1238.1" width="11.5" height="136.2" fill="#595959" stroke="#2a2a2a" stroke-width="0.6" />
<line x1="1290.05" y1="1207.51" x2="1290.05" y2="1268.69" stroke="#1a1a1a" stroke-width="0.9" />
<line x1="1287.3" y1="1207.51" x2="1292.8" y2="1207.51" stroke="#8a8a8a" stroke-width="0.9" />
<line x1="1287.3" y1="1268.69" x2="1292.8" y2="1268.69" stroke="#8a8a8a" stroke-width="0.9" />
<circle cx="1290.05" cy="1206.2" r="2.6" fill="#000" />
<circle cx="1290.05" cy="1238.9" r="2.6" fill="#000" />
<circle cx="1290.05" cy="1267.3" r="2.6" fill="#000" />
<rect x="1295.8" y="1250.6" width="11.5" height="123.7" fill="#C00000" stroke="#7a0000" stroke-width="0.6" />
<line x1="1301.55" y1="1221.28" x2="1301.55" y2="1279.92" stroke="#9a0f0f" stroke-width="0.9" />
<line x1="1298.8" y1="1221.28" x2="1304.3" y2="1221.28" stroke="#c04848" stroke-width="0.9" />
<line x1="1298.8" y1="1279.92" x2="1304.3" y2="1279.92" stroke="#c04848" stroke-width="0.9" />
<circle cx="1301.55" cy="1220" r="2.6" fill="#6e0000" />
<circle cx="1301.55" cy="1252.7" r="2.6" fill="#6e0000" />
<circle cx="1301.55" cy="1278.5" r="2.6" fill="#6e0000" />
<text x="1273.82" y="1284.95" font-size="25" text-anchor="middle" transform="rotate(-90 1273.82 1284.95)" textLength="19.6" lengthAdjust="spacingAndGlyphs" stroke="#000" stroke-width="0.45">**</text>
<text x="1302.92" y="1182.6" font-size="25" text-anchor="middle" transform="rotate(-90 1302.92 1182.6)" textLength="29.9" lengthAdjust="spacingAndGlyphs" stroke="#000" stroke-width="0.45">***</text>
<rect x="1167.4" y="1378.1" width="12" height="7" fill="#0070C0" />
<rect x="1196.6" y="1378.1" width="23.8" height="7" fill="#0070C0" />
<rect x="1225.7" y="1378.1" width="23.8" height="7" fill="#FF6600" />
<rect x="1254.8" y="1378.1" width="23.8" height="7" fill="#0070C0" />
<rect x="1283.9" y="1378.1" width="23.8" height="7" fill="#FF6600" />
<rect x="1167.4" y="1389.5" width="12" height="7" fill="#404040" />
<rect x="1196.6" y="1389.5" width="52.9" height="7" fill="#404040" />
<rect x="1254.8" y="1389.5" width="52.9" height="7" fill="#404040" />
<text x="1164.61" y="1425.8" font-size="28">0</text>
<text x="1208.03" y="1425.8" font-size="28">14</text>
<text x="1265.52" y="1425.8" font-size="28">28</text>
<text x="30.74" y="1302.71" font-size="23.64" transform="rotate(-90 30.74 1302.71)" textLength="343.56" lengthAdjust="spacingAndGlyphs">Relative mRNA expression</text>
<text x="18.96" y="1425.8" font-size="28" textLength="52.1" lengthAdjust="spacingAndGlyphs">Day</text>
<rect x="414.7" y="1468.9" width="24.4" height="6.7" fill="#0070C0" />
<text x="444.25" y="1480" font-size="29" textLength="71.42" lengthAdjust="spacingAndGlyphs">VitC–</text>
<rect x="532.4" y="1468.9" width="25.4" height="6.7" fill="#FF6600" />
<text x="562.05" y="1480" font-size="29" textLength="71.4" lengthAdjust="spacingAndGlyphs">VitC+</text>
<rect x="731.6" y="1456.1" width="24.8" height="25.4" fill="#595959" stroke="#333" stroke-width="1" />
<text x="763.82" y="1480" font-size="29" textLength="46.12" lengthAdjust="spacingAndGlyphs">Ctrl</text>
<rect x="840.5" y="1456.1" width="24.8" height="25.4" fill="#C00000" stroke="#600" stroke-width="1" />
<text x="870.96" y="1480" font-size="29" textLength="92.51" lengthAdjust="spacingAndGlyphs">RG108</text>
</svg>
</body></html>
